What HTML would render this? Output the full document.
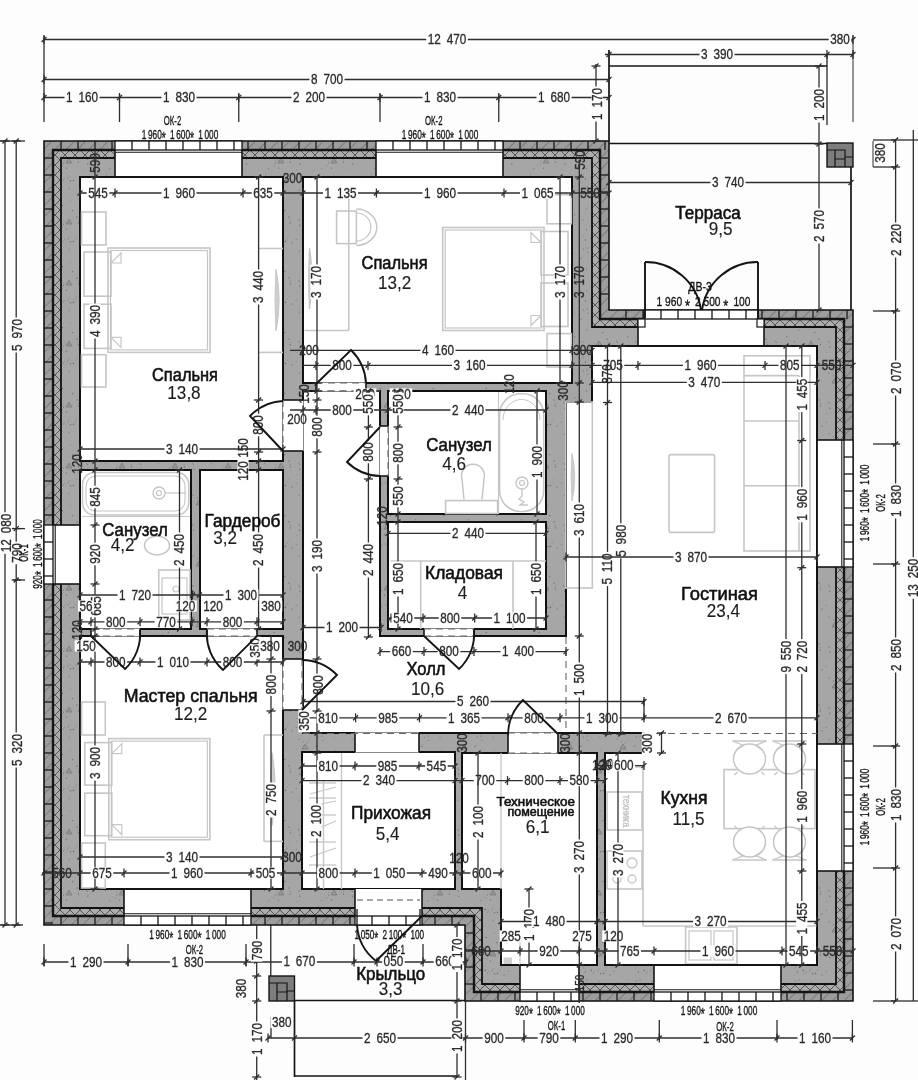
<!DOCTYPE html>
<html><head><meta charset="utf-8"><style>
html,body{margin:0;padding:0;background:#fff;}
svg{display:block;font-family:"Liberation Sans", sans-serif;will-change:transform;}
.h{paint-order:stroke;stroke:#fdfdfd;stroke-width:2.5px;stroke-linejoin:round;}
</style></head><body>
<svg width="918" height="1080" viewBox="0 0 918 1080">
<defs>
<pattern id="brk" patternUnits="userSpaceOnUse" width="8" height="8" patternTransform="rotate(45)">
  <rect width="8" height="8" fill="#9d9d9d"/><line x1="0" y1="0" x2="0" y2="8" stroke="#5a5a5a" stroke-width="1"/>
</pattern>
<pattern id="hat" patternUnits="userSpaceOnUse" width="10" height="10">
  <rect width="10" height="10" fill="#acacac"/><path d="M0,0 L10,10 M10,0 L0,10" stroke="#555" stroke-width="1"/>
</pattern>
<pattern id="con" patternUnits="userSpaceOnUse" width="53" height="61"><rect width="53" height="61" fill="#a6a6a6"/><circle cx="24.0" cy="34.1" r="0.82" fill="#7c7c7c"/><circle cx="23.9" cy="52.2" r="0.53" fill="#8a8a8a"/><circle cx="25.2" cy="37.5" r="0.52" fill="#7c7c7c"/><circle cx="16.1" cy="5.5" r="0.77" fill="#8a8a8a"/><circle cx="33.6" cy="36.3" r="0.61" fill="#7c7c7c"/><circle cx="34.7" cy="37.5" r="0.51" fill="#6e6e6e"/><circle cx="44.1" cy="3.9" r="0.46" fill="#6e6e6e"/><circle cx="31.8" cy="47.5" r="0.58" fill="#8a8a8a"/><circle cx="44.6" cy="31.7" r="0.71" fill="#7c7c7c"/><circle cx="0.2" cy="5.2" r="0.71" fill="#7c7c7c"/><circle cx="52.9" cy="60.7" r="0.79" fill="#8a8a8a"/><circle cx="13.5" cy="46.2" r="0.66" fill="#6e6e6e"/><circle cx="3.7" cy="46.7" r="0.61" fill="#7c7c7c"/><circle cx="20.5" cy="58.4" r="0.79" fill="#6e6e6e"/><circle cx="11.3" cy="56.5" r="0.47" fill="#7c7c7c"/><circle cx="52.0" cy="24.2" r="0.48" fill="#8a8a8a"/><circle cx="10.5" cy="41.2" r="0.58" fill="#7c7c7c"/><circle cx="17.6" cy="58.8" r="0.75" fill="#6e6e6e"/><circle cx="7.1" cy="43.1" r="0.45" fill="#7c7c7c"/><circle cx="42.2" cy="10.8" r="0.67" fill="#7c7c7c"/><circle cx="27.0" cy="60.1" r="0.76" fill="#7c7c7c"/><circle cx="34.1" cy="7.1" r="0.62" fill="#6e6e6e"/><circle cx="0.0" cy="52.7" r="0.84" fill="#8a8a8a"/><circle cx="16.1" cy="54.0" r="0.53" fill="#7c7c7c"/><circle cx="52.8" cy="36.7" r="0.68" fill="#6e6e6e"/><circle cx="52.4" cy="13.0" r="0.55" fill="#8a8a8a"/><circle cx="17.4" cy="18.1" r="0.48" fill="#6e6e6e"/><circle cx="11.1" cy="38.8" r="0.46" fill="#7c7c7c"/><circle cx="19.7" cy="27.6" r="0.83" fill="#7c7c7c"/><circle cx="44.1" cy="8.3" r="0.60" fill="#8a8a8a"/><circle cx="8.2" cy="55.4" r="0.78" fill="#6e6e6e"/><circle cx="38.4" cy="9.7" r="0.70" fill="#8a8a8a"/><circle cx="10.4" cy="58.0" r="0.80" fill="#8a8a8a"/><circle cx="4.2" cy="2.9" r="0.49" fill="#8a8a8a"/><circle cx="51.0" cy="14.5" r="0.73" fill="#7c7c7c"/><circle cx="22.3" cy="55.2" r="0.65" fill="#8a8a8a"/><circle cx="9.3" cy="43.9" r="0.48" fill="#6e6e6e"/><circle cx="25.4" cy="39.9" r="0.70" fill="#6e6e6e"/><circle cx="14.9" cy="56.0" r="0.53" fill="#6e6e6e"/><circle cx="3.7" cy="25.1" r="0.55" fill="#6e6e6e"/><circle cx="9.3" cy="22.5" r="0.68" fill="#6e6e6e"/><circle cx="4.9" cy="8.4" r="0.63" fill="#7c7c7c"/><circle cx="34.8" cy="42.2" r="0.68" fill="#6e6e6e"/><circle cx="31.3" cy="56.3" r="0.64" fill="#7c7c7c"/><circle cx="37.2" cy="58.7" r="0.46" fill="#8a8a8a"/><circle cx="4.0" cy="4.1" r="0.57" fill="#6e6e6e"/><circle cx="53.0" cy="4.6" r="0.67" fill="#8a8a8a"/><circle cx="2.4" cy="57.1" r="0.74" fill="#6e6e6e"/><path d="M13,41 l3,-5 l3,5 z M37,17 l3,-5 l3,5 z" fill="#959595" stroke="#7a7a7a" stroke-width="0.8"/></pattern>
</defs>
<rect width="918" height="1080" fill="#fdfdfd"/>
<polygon points="44,141 609,141 609,310 853,310 853,1001 465,1001 465,925 44,925" fill="url(#brk)" stroke="#111" stroke-width="1.6" />
<g stroke="#1d1d1d" stroke-width="1.3">
<line x1="61" y1="141" x2="61" y2="150" stroke="#1d1d1d" stroke-width="1.3" />
<line x1="78" y1="141" x2="78" y2="150" stroke="#1d1d1d" stroke-width="1.3" />
<line x1="95" y1="141" x2="95" y2="150" stroke="#1d1d1d" stroke-width="1.3" />
<line x1="112" y1="141" x2="112" y2="150" stroke="#1d1d1d" stroke-width="1.3" />
<line x1="129" y1="141" x2="129" y2="150" stroke="#1d1d1d" stroke-width="1.3" />
<line x1="146" y1="141" x2="146" y2="150" stroke="#1d1d1d" stroke-width="1.3" />
<line x1="163" y1="141" x2="163" y2="150" stroke="#1d1d1d" stroke-width="1.3" />
<line x1="180" y1="141" x2="180" y2="150" stroke="#1d1d1d" stroke-width="1.3" />
<line x1="197" y1="141" x2="197" y2="150" stroke="#1d1d1d" stroke-width="1.3" />
<line x1="214" y1="141" x2="214" y2="150" stroke="#1d1d1d" stroke-width="1.3" />
<line x1="231" y1="141" x2="231" y2="150" stroke="#1d1d1d" stroke-width="1.3" />
<line x1="248" y1="141" x2="248" y2="150" stroke="#1d1d1d" stroke-width="1.3" />
<line x1="265" y1="141" x2="265" y2="150" stroke="#1d1d1d" stroke-width="1.3" />
<line x1="282" y1="141" x2="282" y2="150" stroke="#1d1d1d" stroke-width="1.3" />
<line x1="299" y1="141" x2="299" y2="150" stroke="#1d1d1d" stroke-width="1.3" />
<line x1="316" y1="141" x2="316" y2="150" stroke="#1d1d1d" stroke-width="1.3" />
<line x1="333" y1="141" x2="333" y2="150" stroke="#1d1d1d" stroke-width="1.3" />
<line x1="350" y1="141" x2="350" y2="150" stroke="#1d1d1d" stroke-width="1.3" />
<line x1="367" y1="141" x2="367" y2="150" stroke="#1d1d1d" stroke-width="1.3" />
<line x1="384" y1="141" x2="384" y2="150" stroke="#1d1d1d" stroke-width="1.3" />
<line x1="401" y1="141" x2="401" y2="150" stroke="#1d1d1d" stroke-width="1.3" />
<line x1="418" y1="141" x2="418" y2="150" stroke="#1d1d1d" stroke-width="1.3" />
<line x1="435" y1="141" x2="435" y2="150" stroke="#1d1d1d" stroke-width="1.3" />
<line x1="452" y1="141" x2="452" y2="150" stroke="#1d1d1d" stroke-width="1.3" />
<line x1="469" y1="141" x2="469" y2="150" stroke="#1d1d1d" stroke-width="1.3" />
<line x1="486" y1="141" x2="486" y2="150" stroke="#1d1d1d" stroke-width="1.3" />
<line x1="503" y1="141" x2="503" y2="150" stroke="#1d1d1d" stroke-width="1.3" />
<line x1="520" y1="141" x2="520" y2="150" stroke="#1d1d1d" stroke-width="1.3" />
<line x1="537" y1="141" x2="537" y2="150" stroke="#1d1d1d" stroke-width="1.3" />
<line x1="554" y1="141" x2="554" y2="150" stroke="#1d1d1d" stroke-width="1.3" />
<line x1="571" y1="141" x2="571" y2="150" stroke="#1d1d1d" stroke-width="1.3" />
<line x1="588" y1="141" x2="588" y2="150" stroke="#1d1d1d" stroke-width="1.3" />
<line x1="605" y1="141" x2="605" y2="150" stroke="#1d1d1d" stroke-width="1.3" />
<line x1="600" y1="158" x2="609" y2="158" stroke="#1d1d1d" stroke-width="1.3" />
<line x1="600" y1="175" x2="609" y2="175" stroke="#1d1d1d" stroke-width="1.3" />
<line x1="600" y1="192" x2="609" y2="192" stroke="#1d1d1d" stroke-width="1.3" />
<line x1="600" y1="209" x2="609" y2="209" stroke="#1d1d1d" stroke-width="1.3" />
<line x1="600" y1="226" x2="609" y2="226" stroke="#1d1d1d" stroke-width="1.3" />
<line x1="600" y1="243" x2="609" y2="243" stroke="#1d1d1d" stroke-width="1.3" />
<line x1="600" y1="260" x2="609" y2="260" stroke="#1d1d1d" stroke-width="1.3" />
<line x1="600" y1="277" x2="609" y2="277" stroke="#1d1d1d" stroke-width="1.3" />
<line x1="600" y1="294" x2="609" y2="294" stroke="#1d1d1d" stroke-width="1.3" />
<line x1="626" y1="310" x2="626" y2="319" stroke="#1d1d1d" stroke-width="1.3" />
<line x1="643" y1="310" x2="643" y2="319" stroke="#1d1d1d" stroke-width="1.3" />
<line x1="660" y1="310" x2="660" y2="319" stroke="#1d1d1d" stroke-width="1.3" />
<line x1="677" y1="310" x2="677" y2="319" stroke="#1d1d1d" stroke-width="1.3" />
<line x1="694" y1="310" x2="694" y2="319" stroke="#1d1d1d" stroke-width="1.3" />
<line x1="711" y1="310" x2="711" y2="319" stroke="#1d1d1d" stroke-width="1.3" />
<line x1="728" y1="310" x2="728" y2="319" stroke="#1d1d1d" stroke-width="1.3" />
<line x1="745" y1="310" x2="745" y2="319" stroke="#1d1d1d" stroke-width="1.3" />
<line x1="762" y1="310" x2="762" y2="319" stroke="#1d1d1d" stroke-width="1.3" />
<line x1="779" y1="310" x2="779" y2="319" stroke="#1d1d1d" stroke-width="1.3" />
<line x1="796" y1="310" x2="796" y2="319" stroke="#1d1d1d" stroke-width="1.3" />
<line x1="813" y1="310" x2="813" y2="319" stroke="#1d1d1d" stroke-width="1.3" />
<line x1="830" y1="310" x2="830" y2="319" stroke="#1d1d1d" stroke-width="1.3" />
<line x1="847" y1="310" x2="847" y2="319" stroke="#1d1d1d" stroke-width="1.3" />
<line x1="844" y1="327" x2="853" y2="327" stroke="#1d1d1d" stroke-width="1.3" />
<line x1="844" y1="344" x2="853" y2="344" stroke="#1d1d1d" stroke-width="1.3" />
<line x1="844" y1="361" x2="853" y2="361" stroke="#1d1d1d" stroke-width="1.3" />
<line x1="844" y1="378" x2="853" y2="378" stroke="#1d1d1d" stroke-width="1.3" />
<line x1="844" y1="395" x2="853" y2="395" stroke="#1d1d1d" stroke-width="1.3" />
<line x1="844" y1="412" x2="853" y2="412" stroke="#1d1d1d" stroke-width="1.3" />
<line x1="844" y1="429" x2="853" y2="429" stroke="#1d1d1d" stroke-width="1.3" />
<line x1="844" y1="446" x2="853" y2="446" stroke="#1d1d1d" stroke-width="1.3" />
<line x1="844" y1="463" x2="853" y2="463" stroke="#1d1d1d" stroke-width="1.3" />
<line x1="844" y1="480" x2="853" y2="480" stroke="#1d1d1d" stroke-width="1.3" />
<line x1="844" y1="497" x2="853" y2="497" stroke="#1d1d1d" stroke-width="1.3" />
<line x1="844" y1="514" x2="853" y2="514" stroke="#1d1d1d" stroke-width="1.3" />
<line x1="844" y1="531" x2="853" y2="531" stroke="#1d1d1d" stroke-width="1.3" />
<line x1="844" y1="548" x2="853" y2="548" stroke="#1d1d1d" stroke-width="1.3" />
<line x1="844" y1="565" x2="853" y2="565" stroke="#1d1d1d" stroke-width="1.3" />
<line x1="844" y1="582" x2="853" y2="582" stroke="#1d1d1d" stroke-width="1.3" />
<line x1="844" y1="599" x2="853" y2="599" stroke="#1d1d1d" stroke-width="1.3" />
<line x1="844" y1="616" x2="853" y2="616" stroke="#1d1d1d" stroke-width="1.3" />
<line x1="844" y1="633" x2="853" y2="633" stroke="#1d1d1d" stroke-width="1.3" />
<line x1="844" y1="650" x2="853" y2="650" stroke="#1d1d1d" stroke-width="1.3" />
<line x1="844" y1="667" x2="853" y2="667" stroke="#1d1d1d" stroke-width="1.3" />
<line x1="844" y1="684" x2="853" y2="684" stroke="#1d1d1d" stroke-width="1.3" />
<line x1="844" y1="701" x2="853" y2="701" stroke="#1d1d1d" stroke-width="1.3" />
<line x1="844" y1="718" x2="853" y2="718" stroke="#1d1d1d" stroke-width="1.3" />
<line x1="844" y1="735" x2="853" y2="735" stroke="#1d1d1d" stroke-width="1.3" />
<line x1="844" y1="752" x2="853" y2="752" stroke="#1d1d1d" stroke-width="1.3" />
<line x1="844" y1="769" x2="853" y2="769" stroke="#1d1d1d" stroke-width="1.3" />
<line x1="844" y1="786" x2="853" y2="786" stroke="#1d1d1d" stroke-width="1.3" />
<line x1="844" y1="803" x2="853" y2="803" stroke="#1d1d1d" stroke-width="1.3" />
<line x1="844" y1="820" x2="853" y2="820" stroke="#1d1d1d" stroke-width="1.3" />
<line x1="844" y1="837" x2="853" y2="837" stroke="#1d1d1d" stroke-width="1.3" />
<line x1="844" y1="854" x2="853" y2="854" stroke="#1d1d1d" stroke-width="1.3" />
<line x1="844" y1="871" x2="853" y2="871" stroke="#1d1d1d" stroke-width="1.3" />
<line x1="844" y1="888" x2="853" y2="888" stroke="#1d1d1d" stroke-width="1.3" />
<line x1="844" y1="905" x2="853" y2="905" stroke="#1d1d1d" stroke-width="1.3" />
<line x1="844" y1="922" x2="853" y2="922" stroke="#1d1d1d" stroke-width="1.3" />
<line x1="844" y1="939" x2="853" y2="939" stroke="#1d1d1d" stroke-width="1.3" />
<line x1="844" y1="956" x2="853" y2="956" stroke="#1d1d1d" stroke-width="1.3" />
<line x1="844" y1="973" x2="853" y2="973" stroke="#1d1d1d" stroke-width="1.3" />
<line x1="844" y1="990" x2="853" y2="990" stroke="#1d1d1d" stroke-width="1.3" />
<line x1="481" y1="992" x2="481" y2="1001" stroke="#1d1d1d" stroke-width="1.3" />
<line x1="498" y1="992" x2="498" y2="1001" stroke="#1d1d1d" stroke-width="1.3" />
<line x1="515" y1="992" x2="515" y2="1001" stroke="#1d1d1d" stroke-width="1.3" />
<line x1="532" y1="992" x2="532" y2="1001" stroke="#1d1d1d" stroke-width="1.3" />
<line x1="549" y1="992" x2="549" y2="1001" stroke="#1d1d1d" stroke-width="1.3" />
<line x1="566" y1="992" x2="566" y2="1001" stroke="#1d1d1d" stroke-width="1.3" />
<line x1="583" y1="992" x2="583" y2="1001" stroke="#1d1d1d" stroke-width="1.3" />
<line x1="600" y1="992" x2="600" y2="1001" stroke="#1d1d1d" stroke-width="1.3" />
<line x1="617" y1="992" x2="617" y2="1001" stroke="#1d1d1d" stroke-width="1.3" />
<line x1="634" y1="992" x2="634" y2="1001" stroke="#1d1d1d" stroke-width="1.3" />
<line x1="651" y1="992" x2="651" y2="1001" stroke="#1d1d1d" stroke-width="1.3" />
<line x1="668" y1="992" x2="668" y2="1001" stroke="#1d1d1d" stroke-width="1.3" />
<line x1="685" y1="992" x2="685" y2="1001" stroke="#1d1d1d" stroke-width="1.3" />
<line x1="702" y1="992" x2="702" y2="1001" stroke="#1d1d1d" stroke-width="1.3" />
<line x1="719" y1="992" x2="719" y2="1001" stroke="#1d1d1d" stroke-width="1.3" />
<line x1="736" y1="992" x2="736" y2="1001" stroke="#1d1d1d" stroke-width="1.3" />
<line x1="753" y1="992" x2="753" y2="1001" stroke="#1d1d1d" stroke-width="1.3" />
<line x1="770" y1="992" x2="770" y2="1001" stroke="#1d1d1d" stroke-width="1.3" />
<line x1="787" y1="992" x2="787" y2="1001" stroke="#1d1d1d" stroke-width="1.3" />
<line x1="804" y1="992" x2="804" y2="1001" stroke="#1d1d1d" stroke-width="1.3" />
<line x1="821" y1="992" x2="821" y2="1001" stroke="#1d1d1d" stroke-width="1.3" />
<line x1="838" y1="992" x2="838" y2="1001" stroke="#1d1d1d" stroke-width="1.3" />
<line x1="44" y1="158" x2="53" y2="158" stroke="#1d1d1d" stroke-width="1.3" />
<line x1="44" y1="175" x2="53" y2="175" stroke="#1d1d1d" stroke-width="1.3" />
<line x1="44" y1="192" x2="53" y2="192" stroke="#1d1d1d" stroke-width="1.3" />
<line x1="44" y1="209" x2="53" y2="209" stroke="#1d1d1d" stroke-width="1.3" />
<line x1="44" y1="226" x2="53" y2="226" stroke="#1d1d1d" stroke-width="1.3" />
<line x1="44" y1="243" x2="53" y2="243" stroke="#1d1d1d" stroke-width="1.3" />
<line x1="44" y1="260" x2="53" y2="260" stroke="#1d1d1d" stroke-width="1.3" />
<line x1="44" y1="277" x2="53" y2="277" stroke="#1d1d1d" stroke-width="1.3" />
<line x1="44" y1="294" x2="53" y2="294" stroke="#1d1d1d" stroke-width="1.3" />
<line x1="44" y1="311" x2="53" y2="311" stroke="#1d1d1d" stroke-width="1.3" />
<line x1="44" y1="328" x2="53" y2="328" stroke="#1d1d1d" stroke-width="1.3" />
<line x1="44" y1="345" x2="53" y2="345" stroke="#1d1d1d" stroke-width="1.3" />
<line x1="44" y1="362" x2="53" y2="362" stroke="#1d1d1d" stroke-width="1.3" />
<line x1="44" y1="379" x2="53" y2="379" stroke="#1d1d1d" stroke-width="1.3" />
<line x1="44" y1="396" x2="53" y2="396" stroke="#1d1d1d" stroke-width="1.3" />
<line x1="44" y1="413" x2="53" y2="413" stroke="#1d1d1d" stroke-width="1.3" />
<line x1="44" y1="430" x2="53" y2="430" stroke="#1d1d1d" stroke-width="1.3" />
<line x1="44" y1="447" x2="53" y2="447" stroke="#1d1d1d" stroke-width="1.3" />
<line x1="44" y1="464" x2="53" y2="464" stroke="#1d1d1d" stroke-width="1.3" />
<line x1="44" y1="481" x2="53" y2="481" stroke="#1d1d1d" stroke-width="1.3" />
<line x1="44" y1="498" x2="53" y2="498" stroke="#1d1d1d" stroke-width="1.3" />
<line x1="44" y1="515" x2="53" y2="515" stroke="#1d1d1d" stroke-width="1.3" />
<line x1="44" y1="532" x2="53" y2="532" stroke="#1d1d1d" stroke-width="1.3" />
<line x1="44" y1="549" x2="53" y2="549" stroke="#1d1d1d" stroke-width="1.3" />
<line x1="44" y1="566" x2="53" y2="566" stroke="#1d1d1d" stroke-width="1.3" />
<line x1="44" y1="583" x2="53" y2="583" stroke="#1d1d1d" stroke-width="1.3" />
<line x1="44" y1="600" x2="53" y2="600" stroke="#1d1d1d" stroke-width="1.3" />
<line x1="44" y1="617" x2="53" y2="617" stroke="#1d1d1d" stroke-width="1.3" />
<line x1="44" y1="634" x2="53" y2="634" stroke="#1d1d1d" stroke-width="1.3" />
<line x1="44" y1="651" x2="53" y2="651" stroke="#1d1d1d" stroke-width="1.3" />
<line x1="44" y1="668" x2="53" y2="668" stroke="#1d1d1d" stroke-width="1.3" />
<line x1="44" y1="685" x2="53" y2="685" stroke="#1d1d1d" stroke-width="1.3" />
<line x1="44" y1="702" x2="53" y2="702" stroke="#1d1d1d" stroke-width="1.3" />
<line x1="44" y1="719" x2="53" y2="719" stroke="#1d1d1d" stroke-width="1.3" />
<line x1="44" y1="736" x2="53" y2="736" stroke="#1d1d1d" stroke-width="1.3" />
<line x1="44" y1="753" x2="53" y2="753" stroke="#1d1d1d" stroke-width="1.3" />
<line x1="44" y1="770" x2="53" y2="770" stroke="#1d1d1d" stroke-width="1.3" />
<line x1="44" y1="787" x2="53" y2="787" stroke="#1d1d1d" stroke-width="1.3" />
<line x1="44" y1="804" x2="53" y2="804" stroke="#1d1d1d" stroke-width="1.3" />
<line x1="44" y1="821" x2="53" y2="821" stroke="#1d1d1d" stroke-width="1.3" />
<line x1="44" y1="838" x2="53" y2="838" stroke="#1d1d1d" stroke-width="1.3" />
<line x1="44" y1="855" x2="53" y2="855" stroke="#1d1d1d" stroke-width="1.3" />
<line x1="44" y1="872" x2="53" y2="872" stroke="#1d1d1d" stroke-width="1.3" />
<line x1="44" y1="889" x2="53" y2="889" stroke="#1d1d1d" stroke-width="1.3" />
<line x1="44" y1="906" x2="53" y2="906" stroke="#1d1d1d" stroke-width="1.3" />
<line x1="44" y1="923" x2="53" y2="923" stroke="#1d1d1d" stroke-width="1.3" />
<line x1="465" y1="933" x2="474" y2="933" stroke="#1d1d1d" stroke-width="1.3" />
<line x1="465" y1="950" x2="474" y2="950" stroke="#1d1d1d" stroke-width="1.3" />
<line x1="465" y1="967" x2="474" y2="967" stroke="#1d1d1d" stroke-width="1.3" />
<line x1="465" y1="984" x2="474" y2="984" stroke="#1d1d1d" stroke-width="1.3" />
<line x1="61" y1="916" x2="61" y2="925" stroke="#1d1d1d" stroke-width="1.3" />
<line x1="78" y1="916" x2="78" y2="925" stroke="#1d1d1d" stroke-width="1.3" />
<line x1="95" y1="916" x2="95" y2="925" stroke="#1d1d1d" stroke-width="1.3" />
<line x1="112" y1="916" x2="112" y2="925" stroke="#1d1d1d" stroke-width="1.3" />
<line x1="129" y1="916" x2="129" y2="925" stroke="#1d1d1d" stroke-width="1.3" />
<line x1="146" y1="916" x2="146" y2="925" stroke="#1d1d1d" stroke-width="1.3" />
<line x1="163" y1="916" x2="163" y2="925" stroke="#1d1d1d" stroke-width="1.3" />
<line x1="180" y1="916" x2="180" y2="925" stroke="#1d1d1d" stroke-width="1.3" />
<line x1="197" y1="916" x2="197" y2="925" stroke="#1d1d1d" stroke-width="1.3" />
<line x1="214" y1="916" x2="214" y2="925" stroke="#1d1d1d" stroke-width="1.3" />
<line x1="231" y1="916" x2="231" y2="925" stroke="#1d1d1d" stroke-width="1.3" />
<line x1="248" y1="916" x2="248" y2="925" stroke="#1d1d1d" stroke-width="1.3" />
<line x1="265" y1="916" x2="265" y2="925" stroke="#1d1d1d" stroke-width="1.3" />
<line x1="282" y1="916" x2="282" y2="925" stroke="#1d1d1d" stroke-width="1.3" />
<line x1="299" y1="916" x2="299" y2="925" stroke="#1d1d1d" stroke-width="1.3" />
<line x1="316" y1="916" x2="316" y2="925" stroke="#1d1d1d" stroke-width="1.3" />
<line x1="333" y1="916" x2="333" y2="925" stroke="#1d1d1d" stroke-width="1.3" />
<line x1="350" y1="916" x2="350" y2="925" stroke="#1d1d1d" stroke-width="1.3" />
<line x1="367" y1="916" x2="367" y2="925" stroke="#1d1d1d" stroke-width="1.3" />
<line x1="384" y1="916" x2="384" y2="925" stroke="#1d1d1d" stroke-width="1.3" />
<line x1="401" y1="916" x2="401" y2="925" stroke="#1d1d1d" stroke-width="1.3" />
<line x1="418" y1="916" x2="418" y2="925" stroke="#1d1d1d" stroke-width="1.3" />
<line x1="435" y1="916" x2="435" y2="925" stroke="#1d1d1d" stroke-width="1.3" />
<line x1="452" y1="916" x2="452" y2="925" stroke="#1d1d1d" stroke-width="1.3" />
</g>
<polygon points="53,150 600,150 600,319 844,319 844,992 474,992 474,916 53,916" fill="url(#hat)" stroke="#151515" stroke-width="2.4" />
<polygon points="61,158 592,158 592,327 836,327 836,984 482,984 482,908 61,908" fill="url(#con)" stroke="#111" stroke-width="1.8" />
<polygon points="80,177 283,177 283,461 80,461" fill="#fff" stroke="#111" stroke-width="2.0" />
<polygon points="303,177 572,177 572,383 303,383" fill="#fff" stroke="#111" stroke-width="2.0" />
<polygon points="80,470 191,470 191,629 80,629" fill="#fff" stroke="#111" stroke-width="2.0" />
<polygon points="200,470 283,470 283,629 200,629" fill="#fff" stroke="#111" stroke-width="2.0" />
<polygon points="80,636 283,636 283,889 80,889" fill="#fff" stroke="#111" stroke-width="2.0" />
<polygon points="388,391 546,391 546,514 388,514" fill="#fff" stroke="#111" stroke-width="2.0" />
<polygon points="388,522 546,522 546,629 388,629" fill="#fff" stroke="#111" stroke-width="2.0" />
<polygon points="302,752 455,752 455,889 302,889" fill="#fff" stroke="#111" stroke-width="2.0" />
<polygon points="462,753 597,753 597,965 501,965 501,889 462,889" fill="#fff" stroke="#111" stroke-width="2.0" />
<polygon points="303,391 380,391 380,636 566,636 566,402 592,402 592,346 817,346 817,965 605,965 605,753 644,753 644,733 303,733" fill="#fff" stroke="#111" stroke-width="2.0" />
<rect x="81.5" y="212" width="24.5" height="33" rx="0" fill="none" stroke="#c6c6c6" stroke-width="1.6"/>
<rect x="108" y="248" width="102" height="104.4" rx="0" fill="none" stroke="#c6c6c6" stroke-width="1.6"/>
<rect x="110.5" y="250.5" width="97" height="99.4" rx="0" fill="none" stroke="#c6c6c6" stroke-width="1.2"/>
<rect x="84" y="252" width="27" height="44.2" rx="0" fill="none" stroke="#c6c6c6" stroke-width="1.6"/>
<rect x="84" y="304.2" width="27" height="44.2" rx="0" fill="none" stroke="#c6c6c6" stroke-width="1.6"/>
<path d="M111,263 l10,-10 v10 z M111,337.4 l10,10 v-10 z" stroke="#c6c6c6" stroke-width="1.2" fill="none"/>
<rect x="81.5" y="354.7" width="24.5" height="32.3" rx="0" fill="none" stroke="#c6c6c6" stroke-width="1.6"/>
<line x1="259" y1="248.5" x2="283" y2="248.5" stroke="#c6c6c6" stroke-width="1.6"/>
<line x1="259" y1="352.4" x2="283" y2="352.4" stroke="#c6c6c6" stroke-width="1.6"/>
<path d="M276,269 Q282,300.0 276,331 Q274.2,300.0 276,269 z" stroke="#c6c6c6" stroke-width="1.2" fill="#d0d0d0"/>
<line x1="348.8" y1="196" x2="348.8" y2="330.5" stroke="#c6c6c6" stroke-width="1.6"/>
<line x1="304.6" y1="330.5" x2="348.8" y2="330.5" stroke="#c6c6c6" stroke-width="1.6"/>
<path d="M309.5,248 Q314.5,278.5 309.5,309 Q308.0,278.5 309.5,248 z" stroke="#c6c6c6" stroke-width="1.2" fill="#d0d0d0"/>
<rect x="336.6" y="211" width="19.8" height="32.6" rx="0" fill="none" stroke="#c6c6c6" stroke-width="1.6"/>
<path d="M356.4,209 A19,17 0 0 1 356.4,245.5" stroke="#c6c6c6" stroke-width="1.5" fill="none"/>
<path d="M356.4,213 A14,13.5 0 0 1 356.4,241" stroke="#c6c6c6" stroke-width="1.2" fill="none"/>
<rect x="442.7" y="227.5" width="101.3" height="103" rx="0" fill="none" stroke="#c6c6c6" stroke-width="1.6"/>
<rect x="445.2" y="230" width="96.3" height="98" rx="0" fill="none" stroke="#c6c6c6" stroke-width="1.2"/>
<rect x="541" y="231.5" width="27" height="43.5" rx="0" fill="none" stroke="#c6c6c6" stroke-width="1.6"/>
<rect x="541" y="283" width="27" height="43.5" rx="0" fill="none" stroke="#c6c6c6" stroke-width="1.6"/>
<path d="M541,242.5 l-10,-10 v10 z M541,315.5 l-10,10 v-10 z" stroke="#c6c6c6" stroke-width="1.2" fill="none"/>
<rect x="547" y="194.8" width="24.4" height="29" rx="0" fill="none" stroke="#c6c6c6" stroke-width="1.6"/>
<rect x="547" y="333.6" width="24.4" height="33.4" rx="0" fill="none" stroke="#c6c6c6" stroke-width="1.6"/>
<rect x="82.5" y="472.5" width="106.25" height="42.5" rx="12" fill="none" stroke="#c6c6c6" stroke-width="1.6"/>
<rect x="86" y="476" width="99" height="35" rx="10" fill="none" stroke="#c6c6c6" stroke-width="1.1"/>
<circle cx="159" cy="493" r="6" fill="none" stroke="#c6c6c6" stroke-width="1.4"/>
<circle cx="159" cy="493" r="2.5" fill="none" stroke="#c6c6c6" stroke-width="1.2"/>
<line x1="165" y1="493" x2="186" y2="493" stroke="#c6c6c6" stroke-width="1.2"/>
<line x1="82" y1="516.5" x2="190" y2="516.5" stroke="#c6c6c6" stroke-width="1.2"/>
<ellipse cx="157" cy="545.5" rx="12.5" ry="9.5" fill="none" stroke="#c6c6c6" stroke-width="1.5"/>
<rect x="158.75" y="570" width="31.25" height="50" rx="0" fill="none" stroke="#c6c6c6" stroke-width="1.6"/>
<rect x="162" y="578" width="25" height="36" rx="0" fill="none" stroke="#c6c6c6" stroke-width="1.2"/>
<circle cx="176" cy="589" r="3" fill="none" stroke="#c6c6c6" stroke-width="1.2"/>
<rect x="81.6" y="702" width="23.7" height="33" rx="0" fill="none" stroke="#c6c6c6" stroke-width="1.6"/>
<rect x="108.8" y="738.6" width="101.1" height="101.1" rx="0" fill="none" stroke="#c6c6c6" stroke-width="1.6"/>
<rect x="111.3" y="741.1" width="96.1" height="96.1" rx="0" fill="none" stroke="#c6c6c6" stroke-width="1.2"/>
<rect x="84.8" y="742.6" width="27" height="42.55" rx="0" fill="none" stroke="#c6c6c6" stroke-width="1.6"/>
<rect x="84.8" y="793.15" width="27" height="42.55" rx="0" fill="none" stroke="#c6c6c6" stroke-width="1.6"/>
<path d="M111.8,753.6 l10,-10 v10 z M111.8,824.7 l10,10 v-10 z" stroke="#c6c6c6" stroke-width="1.2" fill="none"/>
<rect x="81.6" y="843" width="23.7" height="45" rx="0" fill="none" stroke="#c6c6c6" stroke-width="1.6"/>
<line x1="264" y1="735" x2="283" y2="735" stroke="#c6c6c6" stroke-width="1.6"/>
<line x1="264" y1="841.4" x2="283" y2="841.4" stroke="#c6c6c6" stroke-width="1.6"/>
<line x1="264" y1="735" x2="264" y2="841.4" stroke="#c6c6c6" stroke-width="1.6"/>
<path d="M272,752.5 Q278,789.1 272,825.7 Q270.2,789.1 272,752.5 z" stroke="#c6c6c6" stroke-width="1.2" fill="#d0d0d0"/>
<rect x="499.6" y="393.7" width="44.1" height="117.8" rx="21" fill="none" stroke="#c6c6c6" stroke-width="1.6"/>
<path d="M503,420 A18,20 0 0 1 540,420" stroke="#c6c6c6" stroke-width="1.0" fill="none"/>
<line x1="498.5" y1="392" x2="498.5" y2="514" stroke="#c6c6c6" stroke-width="1.2"/>
<circle cx="522" cy="483" r="6" fill="none" stroke="#c6c6c6" stroke-width="1.4"/>
<circle cx="522" cy="483" r="2.5" fill="none" stroke="#c6c6c6" stroke-width="1.2"/>
<path d="M522,489 v7 l-3,3 l5,3 l-4,3 h8" stroke="#c6c6c6" stroke-width="1.3" fill="none"/>
<path d="M464,499.5 L462,479 A11.5,11.5 0 1 1 484,479 L482,499.5" stroke="#c6c6c6" stroke-width="1.5" fill="none"/>
<rect x="445.6" y="500.6" width="52" height="12.9" rx="0" fill="none" stroke="#c6c6c6" stroke-width="1.6"/>
<line x1="391" y1="561" x2="546" y2="561" stroke="#c6c6c6" stroke-width="1.6"/>
<line x1="420.7" y1="561" x2="420.7" y2="629" stroke="#c6c6c6" stroke-width="1.6"/>
<line x1="513" y1="561" x2="513" y2="629" stroke="#c6c6c6" stroke-width="1.6"/>
<rect x="565.7" y="402" width="26.6" height="186" rx="0" fill="none" stroke="#c6c6c6" stroke-width="1.6"/>
<path d="M572,453.4 Q577,477.2 572,501 Q570.5,477.2 572,453.4 z" stroke="#c6c6c6" stroke-width="1.2" fill="#d0d0d0"/>
<rect x="744" y="355.8" width="66" height="195.2" rx="0" fill="none" stroke="#c6c6c6" stroke-width="1.6"/>
<line x1="744" y1="375.6" x2="799" y2="375.6" stroke="#c6c6c6" stroke-width="1.6"/>
<line x1="799" y1="375.6" x2="799" y2="551" stroke="#c6c6c6" stroke-width="1.6"/>
<line x1="744" y1="421" x2="799" y2="421" stroke="#c6c6c6" stroke-width="1.6"/>
<line x1="744" y1="485.7" x2="799" y2="485.7" stroke="#c6c6c6" stroke-width="1.6"/>
<rect x="669" y="454.6" width="45.6" height="77.8" rx="2" fill="none" stroke="#c6c6c6" stroke-width="1.6"/>
<line x1="643" y1="767" x2="643" y2="926" stroke="#c6c6c6" stroke-width="1.6"/>
<line x1="606" y1="767" x2="643" y2="767" stroke="#c6c6c6" stroke-width="1.6"/>
<rect x="607" y="792" width="35" height="38" rx="0" fill="none" stroke="#c6c6c6" stroke-width="1.6"/>
<text transform="translate(627,811) rotate(90) scale(0.9,1)" font-size="10" text-anchor="middle" fill="#c0c0c0" stroke="#c0c0c0" stroke-width="0.3" dominant-baseline="central">техника</text>
<rect x="607" y="851" width="35" height="38" rx="0" fill="none" stroke="#c6c6c6" stroke-width="1.6"/>
<circle cx="632" cy="863" r="5" fill="none" stroke="#c6c6c6" stroke-width="1.3"/>
<circle cx="632" cy="879" r="4" fill="none" stroke="#c6c6c6" stroke-width="1.3"/>
<circle cx="617" cy="879" r="4" fill="none" stroke="#c6c6c6" stroke-width="1.3"/>
<circle cx="617" cy="863" r="3" fill="none" stroke="#c6c6c6" stroke-width="1.3"/>
<line x1="643" y1="926" x2="816.5" y2="926" stroke="#c6c6c6" stroke-width="1.6"/>
<rect x="685.6" y="927" width="51.4" height="37" rx="0" fill="none" stroke="#c6c6c6" stroke-width="1.6"/>
<rect x="689" y="931" width="22" height="29" rx="0" fill="none" stroke="#c6c6c6" stroke-width="1.2"/>
<rect x="714" y="931" width="19" height="29" rx="0" fill="none" stroke="#c6c6c6" stroke-width="1.2"/>
<rect x="724" y="769.6" width="91" height="59" rx="0" fill="none" stroke="#c6c6c6" stroke-width="1.6"/>
<ellipse cx="749.5" cy="759" rx="16" ry="15" fill="#fff" stroke="#c6c6c6" stroke-width="1.5"/>
<path d="M732.5,741 H766.5" stroke="#c6c6c6" stroke-width="1.5" fill="none"/>
<path d="M732.5,741 L743.5,745.5 L736.5,750" stroke="#c6c6c6" stroke-width="1.3" fill="none"/>
<path d="M766.5,741 L755.5,745.5 L762.5,750" stroke="#c6c6c6" stroke-width="1.3" fill="none"/>
<path d="M737.5,772 l-3,3 M761.5,772 l3,3" stroke="#c6c6c6" stroke-width="1.3" fill="none"/>
<ellipse cx="789.5" cy="759" rx="16" ry="15" fill="#fff" stroke="#c6c6c6" stroke-width="1.5"/>
<path d="M772.5,741 H806.5" stroke="#c6c6c6" stroke-width="1.5" fill="none"/>
<path d="M772.5,741 L783.5,745.5 L776.5,750" stroke="#c6c6c6" stroke-width="1.3" fill="none"/>
<path d="M806.5,741 L795.5,745.5 L802.5,750" stroke="#c6c6c6" stroke-width="1.3" fill="none"/>
<path d="M777.5,772 l-3,3 M801.5,772 l3,3" stroke="#c6c6c6" stroke-width="1.3" fill="none"/>
<ellipse cx="749.5" cy="842" rx="16" ry="15" fill="#fff" stroke="#c6c6c6" stroke-width="1.5"/>
<path d="M732.5,860 H766.5" stroke="#c6c6c6" stroke-width="1.5" fill="none"/>
<path d="M732.5,860 L743.5,855.5 L736.5,851" stroke="#c6c6c6" stroke-width="1.3" fill="none"/>
<path d="M766.5,860 L755.5,855.5 L762.5,851" stroke="#c6c6c6" stroke-width="1.3" fill="none"/>
<path d="M737.5,829 l-3,-3 M761.5,829 l3,-3" stroke="#c6c6c6" stroke-width="1.3" fill="none"/>
<ellipse cx="789.5" cy="842" rx="16" ry="15" fill="#fff" stroke="#c6c6c6" stroke-width="1.5"/>
<path d="M772.5,860 H806.5" stroke="#c6c6c6" stroke-width="1.5" fill="none"/>
<path d="M772.5,860 L783.5,855.5 L776.5,851" stroke="#c6c6c6" stroke-width="1.3" fill="none"/>
<path d="M806.5,860 L795.5,855.5 L802.5,851" stroke="#c6c6c6" stroke-width="1.3" fill="none"/>
<path d="M777.5,829 l-3,-3 M801.5,829 l3,-3" stroke="#c6c6c6" stroke-width="1.3" fill="none"/>
<line x1="341.5" y1="753" x2="341.5" y2="889" stroke="#c6c6c6" stroke-width="1.4"/>
<line x1="323.5" y1="780" x2="323.5" y2="889" stroke="#c6c6c6" stroke-width="1.4"/>
<line x1="309" y1="783" x2="336" y2="783" stroke="#c6c6c6" stroke-width="1.3"/>
<line x1="309" y1="798" x2="336" y2="798" stroke="#c6c6c6" stroke-width="1.3"/>
<line x1="309" y1="815" x2="336" y2="815" stroke="#c6c6c6" stroke-width="1.3"/>
<line x1="309" y1="842" x2="336" y2="842" stroke="#c6c6c6" stroke-width="1.3"/>
<line x1="309" y1="865" x2="336" y2="865" stroke="#c6c6c6" stroke-width="1.3"/>
<line x1="310" y1="794" x2="336" y2="787" stroke="#c6c6c6" stroke-width="1.2"/>
<line x1="310" y1="806" x2="336" y2="801" stroke="#c6c6c6" stroke-width="1.2"/>
<line x1="310" y1="832" x2="336" y2="821" stroke="#c6c6c6" stroke-width="1.2"/>
<line x1="310" y1="857" x2="336" y2="848" stroke="#c6c6c6" stroke-width="1.2"/>
<line x1="501" y1="753" x2="501" y2="889" stroke="#c6c6c6" stroke-width="1.3"/>
<rect x="503.5" y="957.5" width="8.5" height="6.5" rx="0" fill="#d0d0d0" stroke="#c6c6c6" stroke-width="0"/>
<line x1="520" y1="935" x2="520" y2="965" stroke="#c6c6c6" stroke-width="1.1"/>
<rect x="115" y="150" width="127" height="27" fill="#fff" stroke="none" stroke-width="1" />
<line x1="115" y1="150" x2="115" y2="177" stroke="#151515" stroke-width="1.6" />
<line x1="242" y1="150" x2="242" y2="177" stroke="#151515" stroke-width="1.6" />
<line x1="115" y1="177" x2="242" y2="177" stroke="#151515" stroke-width="1.8" />
<rect x="115" y="141" width="127" height="9" fill="#fff" stroke="#151515" stroke-width="1.3" />
<line x1="132" y1="141" x2="132" y2="150" stroke="#151515" stroke-width="1.3" />
<line x1="149" y1="141" x2="149" y2="150" stroke="#151515" stroke-width="1.3" />
<line x1="166" y1="141" x2="166" y2="150" stroke="#151515" stroke-width="1.3" />
<line x1="183" y1="141" x2="183" y2="150" stroke="#151515" stroke-width="1.3" />
<line x1="200" y1="141" x2="200" y2="150" stroke="#151515" stroke-width="1.3" />
<line x1="217" y1="141" x2="217" y2="150" stroke="#151515" stroke-width="1.3" />
<line x1="234" y1="141" x2="234" y2="150" stroke="#151515" stroke-width="1.3" />
<line x1="115" y1="152.2" x2="242" y2="152.2" stroke="#151515" stroke-width="1.1" />
<rect x="376" y="150" width="127" height="27" fill="#fff" stroke="none" stroke-width="1" />
<line x1="376" y1="150" x2="376" y2="177" stroke="#151515" stroke-width="1.6" />
<line x1="503" y1="150" x2="503" y2="177" stroke="#151515" stroke-width="1.6" />
<line x1="376" y1="177" x2="503" y2="177" stroke="#151515" stroke-width="1.8" />
<rect x="376" y="141" width="127" height="9" fill="#fff" stroke="#151515" stroke-width="1.3" />
<line x1="393" y1="141" x2="393" y2="150" stroke="#151515" stroke-width="1.3" />
<line x1="410" y1="141" x2="410" y2="150" stroke="#151515" stroke-width="1.3" />
<line x1="427" y1="141" x2="427" y2="150" stroke="#151515" stroke-width="1.3" />
<line x1="444" y1="141" x2="444" y2="150" stroke="#151515" stroke-width="1.3" />
<line x1="461" y1="141" x2="461" y2="150" stroke="#151515" stroke-width="1.3" />
<line x1="478" y1="141" x2="478" y2="150" stroke="#151515" stroke-width="1.3" />
<line x1="495" y1="141" x2="495" y2="150" stroke="#151515" stroke-width="1.3" />
<line x1="376" y1="152.2" x2="503" y2="152.2" stroke="#151515" stroke-width="1.1" />
<rect x="124" y="889" width="127" height="27" fill="#fff" stroke="none" stroke-width="1" />
<line x1="124" y1="889" x2="124" y2="916" stroke="#151515" stroke-width="1.6" />
<line x1="251" y1="889" x2="251" y2="916" stroke="#151515" stroke-width="1.6" />
<line x1="124" y1="889" x2="251" y2="889" stroke="#151515" stroke-width="1.8" />
<rect x="124" y="916" width="127" height="9" fill="#fff" stroke="#151515" stroke-width="1.3" />
<line x1="141" y1="916" x2="141" y2="925" stroke="#151515" stroke-width="1.3" />
<line x1="158" y1="916" x2="158" y2="925" stroke="#151515" stroke-width="1.3" />
<line x1="175" y1="916" x2="175" y2="925" stroke="#151515" stroke-width="1.3" />
<line x1="192" y1="916" x2="192" y2="925" stroke="#151515" stroke-width="1.3" />
<line x1="209" y1="916" x2="209" y2="925" stroke="#151515" stroke-width="1.3" />
<line x1="226" y1="916" x2="226" y2="925" stroke="#151515" stroke-width="1.3" />
<line x1="243" y1="916" x2="243" y2="925" stroke="#151515" stroke-width="1.3" />
<line x1="124" y1="913.8" x2="251" y2="913.8" stroke="#151515" stroke-width="1.1" />
<rect x="520" y="965" width="59" height="27" fill="#fff" stroke="none" stroke-width="1" />
<line x1="520" y1="965" x2="520" y2="992" stroke="#151515" stroke-width="1.6" />
<line x1="579" y1="965" x2="579" y2="992" stroke="#151515" stroke-width="1.6" />
<line x1="520" y1="965" x2="579" y2="965" stroke="#151515" stroke-width="1.8" />
<rect x="520" y="992" width="59" height="9" fill="#fff" stroke="#151515" stroke-width="1.3" />
<line x1="537" y1="992" x2="537" y2="1001" stroke="#151515" stroke-width="1.3" />
<line x1="554" y1="992" x2="554" y2="1001" stroke="#151515" stroke-width="1.3" />
<line x1="571" y1="992" x2="571" y2="1001" stroke="#151515" stroke-width="1.3" />
<line x1="520" y1="989.8" x2="579" y2="989.8" stroke="#151515" stroke-width="1.1" />
<rect x="654" y="965" width="127" height="27" fill="#fff" stroke="none" stroke-width="1" />
<line x1="654" y1="965" x2="654" y2="992" stroke="#151515" stroke-width="1.6" />
<line x1="781" y1="965" x2="781" y2="992" stroke="#151515" stroke-width="1.6" />
<line x1="654" y1="965" x2="781" y2="965" stroke="#151515" stroke-width="1.8" />
<rect x="654" y="992" width="127" height="9" fill="#fff" stroke="#151515" stroke-width="1.3" />
<line x1="671" y1="992" x2="671" y2="1001" stroke="#151515" stroke-width="1.3" />
<line x1="688" y1="992" x2="688" y2="1001" stroke="#151515" stroke-width="1.3" />
<line x1="705" y1="992" x2="705" y2="1001" stroke="#151515" stroke-width="1.3" />
<line x1="722" y1="992" x2="722" y2="1001" stroke="#151515" stroke-width="1.3" />
<line x1="739" y1="992" x2="739" y2="1001" stroke="#151515" stroke-width="1.3" />
<line x1="756" y1="992" x2="756" y2="1001" stroke="#151515" stroke-width="1.3" />
<line x1="773" y1="992" x2="773" y2="1001" stroke="#151515" stroke-width="1.3" />
<line x1="654" y1="989.8" x2="781" y2="989.8" stroke="#151515" stroke-width="1.1" />
<rect x="53" y="525" width="27" height="59" fill="#fff" stroke="none" stroke-width="1" />
<line x1="53" y1="525" x2="80" y2="525" stroke="#151515" stroke-width="1.6" />
<line x1="53" y1="584" x2="80" y2="584" stroke="#151515" stroke-width="1.6" />
<line x1="80" y1="525" x2="80" y2="584" stroke="#151515" stroke-width="1.8" />
<rect x="44" y="525" width="9" height="59" fill="#fff" stroke="#151515" stroke-width="1.3" />
<line x1="44" y1="542" x2="53" y2="542" stroke="#151515" stroke-width="1.3" />
<line x1="44" y1="559" x2="53" y2="559" stroke="#151515" stroke-width="1.3" />
<line x1="44" y1="576" x2="53" y2="576" stroke="#151515" stroke-width="1.3" />
<line x1="55.2" y1="525" x2="55.2" y2="584" stroke="#151515" stroke-width="1.1" />
<rect x="817" y="440" width="27" height="127" fill="#fff" stroke="none" stroke-width="1" />
<line x1="817" y1="440" x2="844" y2="440" stroke="#151515" stroke-width="1.6" />
<line x1="817" y1="567" x2="844" y2="567" stroke="#151515" stroke-width="1.6" />
<line x1="817" y1="440" x2="817" y2="567" stroke="#151515" stroke-width="1.8" />
<rect x="844" y="440" width="9" height="127" fill="#fff" stroke="#151515" stroke-width="1.3" />
<line x1="844" y1="457" x2="853" y2="457" stroke="#151515" stroke-width="1.3" />
<line x1="844" y1="474" x2="853" y2="474" stroke="#151515" stroke-width="1.3" />
<line x1="844" y1="491" x2="853" y2="491" stroke="#151515" stroke-width="1.3" />
<line x1="844" y1="508" x2="853" y2="508" stroke="#151515" stroke-width="1.3" />
<line x1="844" y1="525" x2="853" y2="525" stroke="#151515" stroke-width="1.3" />
<line x1="844" y1="542" x2="853" y2="542" stroke="#151515" stroke-width="1.3" />
<line x1="844" y1="559" x2="853" y2="559" stroke="#151515" stroke-width="1.3" />
<line x1="841.8" y1="440" x2="841.8" y2="567" stroke="#151515" stroke-width="1.1" />
<rect x="817" y="744" width="27" height="127" fill="#fff" stroke="none" stroke-width="1" />
<line x1="817" y1="744" x2="844" y2="744" stroke="#151515" stroke-width="1.6" />
<line x1="817" y1="871" x2="844" y2="871" stroke="#151515" stroke-width="1.6" />
<line x1="817" y1="744" x2="817" y2="871" stroke="#151515" stroke-width="1.8" />
<rect x="844" y="744" width="9" height="127" fill="#fff" stroke="#151515" stroke-width="1.3" />
<line x1="844" y1="761" x2="853" y2="761" stroke="#151515" stroke-width="1.3" />
<line x1="844" y1="778" x2="853" y2="778" stroke="#151515" stroke-width="1.3" />
<line x1="844" y1="795" x2="853" y2="795" stroke="#151515" stroke-width="1.3" />
<line x1="844" y1="812" x2="853" y2="812" stroke="#151515" stroke-width="1.3" />
<line x1="844" y1="829" x2="853" y2="829" stroke="#151515" stroke-width="1.3" />
<line x1="844" y1="846" x2="853" y2="846" stroke="#151515" stroke-width="1.3" />
<line x1="844" y1="863" x2="853" y2="863" stroke="#151515" stroke-width="1.3" />
<line x1="841.8" y1="744" x2="841.8" y2="871" stroke="#151515" stroke-width="1.1" />
<rect x="355" y="889" width="67" height="27" fill="#fff" stroke="none" stroke-width="1" />
<rect x="355" y="916" width="67" height="9" fill="#fff" stroke="#151515" stroke-width="1.3" />
<line x1="372" y1="916" x2="372" y2="925" stroke="#151515" stroke-width="1.3" />
<line x1="389" y1="916" x2="389" y2="925" stroke="#151515" stroke-width="1.3" />
<line x1="406" y1="916" x2="406" y2="925" stroke="#151515" stroke-width="1.3" />
<line x1="355" y1="889" x2="355" y2="916" stroke="#151515" stroke-width="1.6" />
<line x1="422" y1="889" x2="422" y2="916" stroke="#151515" stroke-width="1.6" />
<line x1="357" y1="909" x2="357" y2="925" stroke="#151515" stroke-width="1.3" />
<line x1="420" y1="909" x2="420" y2="925" stroke="#151515" stroke-width="1.3" />
<line x1="357" y1="900" x2="420" y2="900" stroke="#555" stroke-width="1" stroke-dasharray="6,4"/>
<rect x="638" y="319" width="126" height="27" fill="#fff" stroke="none" stroke-width="1" />
<rect x="644" y="310" width="114" height="9" fill="#fff" stroke="#151515" stroke-width="1.3" />
<line x1="661" y1="310" x2="661" y2="319" stroke="#151515" stroke-width="1.3" />
<line x1="678" y1="310" x2="678" y2="319" stroke="#151515" stroke-width="1.3" />
<line x1="695" y1="310" x2="695" y2="319" stroke="#151515" stroke-width="1.3" />
<line x1="712" y1="310" x2="712" y2="319" stroke="#151515" stroke-width="1.3" />
<line x1="729" y1="310" x2="729" y2="319" stroke="#151515" stroke-width="1.3" />
<line x1="746" y1="310" x2="746" y2="319" stroke="#151515" stroke-width="1.3" />
<line x1="638" y1="319" x2="638" y2="346" stroke="#151515" stroke-width="1.6" />
<line x1="764" y1="319" x2="764" y2="346" stroke="#151515" stroke-width="1.6" />
<rect x="638" y="319" width="7" height="8" fill="#fff" stroke="#151515" stroke-width="1.2" />
<rect x="757" y="319" width="7" height="8" fill="#fff" stroke="#151515" stroke-width="1.2" />
<line x1="592" y1="346" x2="817" y2="346" stroke="#151515" stroke-width="1.8" />
<rect x="282.5" y="400" width="21" height="51" fill="#fff" stroke="none" stroke-width="1" />
<line x1="283" y1="400" x2="303" y2="400" stroke="#151515" stroke-width="1.6" />
<line x1="283" y1="451" x2="303" y2="451" stroke="#151515" stroke-width="1.6" />
<line x1="283" y1="400" x2="283" y2="451" stroke="#666" stroke-width="1.1" stroke-dasharray="7,5"/>
<rect x="316" y="382.5" width="50" height="9" fill="#fff" stroke="none" stroke-width="1" />
<line x1="316" y1="383" x2="316" y2="391" stroke="#151515" stroke-width="1.6" />
<line x1="366" y1="383" x2="366" y2="391" stroke="#151515" stroke-width="1.6" />
<line x1="316" y1="383" x2="366" y2="383" stroke="#666" stroke-width="1.1" stroke-dasharray="7,5"/>
<line x1="316" y1="391" x2="366" y2="391" stroke="#666" stroke-width="1.1" stroke-dasharray="7,5"/>
<rect x="379.5" y="426" width="9" height="50" fill="#fff" stroke="none" stroke-width="1" />
<line x1="380" y1="426" x2="388" y2="426" stroke="#151515" stroke-width="1.6" />
<line x1="380" y1="476" x2="388" y2="476" stroke="#151515" stroke-width="1.6" />
<line x1="388" y1="426" x2="388" y2="476" stroke="#666" stroke-width="1.1" stroke-dasharray="7,5"/>
<rect x="91" y="628.5" width="49" height="8" fill="#fff" stroke="none" stroke-width="1" />
<line x1="91" y1="629" x2="91" y2="636" stroke="#151515" stroke-width="1.6" />
<line x1="140" y1="629" x2="140" y2="636" stroke="#151515" stroke-width="1.6" />
<line x1="91" y1="629" x2="140" y2="629" stroke="#666" stroke-width="1.1" stroke-dasharray="7,5"/>
<line x1="91" y1="636" x2="140" y2="636" stroke="#666" stroke-width="1.1" stroke-dasharray="7,5"/>
<rect x="207" y="628.5" width="50" height="8" fill="#fff" stroke="none" stroke-width="1" />
<line x1="207" y1="629" x2="207" y2="636" stroke="#151515" stroke-width="1.6" />
<line x1="257" y1="629" x2="257" y2="636" stroke="#151515" stroke-width="1.6" />
<line x1="207" y1="629" x2="257" y2="629" stroke="#666" stroke-width="1.1" stroke-dasharray="7,5"/>
<line x1="207" y1="636" x2="257" y2="636" stroke="#666" stroke-width="1.1" stroke-dasharray="7,5"/>
<rect x="282.5" y="659" width="20" height="51" fill="#fff" stroke="none" stroke-width="1" />
<line x1="283" y1="659" x2="302" y2="659" stroke="#151515" stroke-width="1.6" />
<line x1="283" y1="710" x2="302" y2="710" stroke="#151515" stroke-width="1.6" />
<line x1="283" y1="659" x2="283" y2="710" stroke="#666" stroke-width="1.1" stroke-dasharray="7,5"/>
<line x1="302" y1="659" x2="302" y2="710" stroke="#666" stroke-width="1.1" stroke-dasharray="7,5"/>
<rect x="424" y="628.5" width="50" height="8" fill="#fff" stroke="none" stroke-width="1" />
<line x1="424" y1="629" x2="424" y2="636" stroke="#151515" stroke-width="1.6" />
<line x1="474" y1="629" x2="474" y2="636" stroke="#151515" stroke-width="1.6" />
<line x1="424" y1="629" x2="474" y2="629" stroke="#666" stroke-width="1.1" stroke-dasharray="7,5"/>
<line x1="424" y1="636" x2="474" y2="636" stroke="#666" stroke-width="1.1" stroke-dasharray="7,5"/>
<rect x="508" y="732.5" width="50" height="21" fill="#fff" stroke="none" stroke-width="1" />
<line x1="508" y1="733" x2="508" y2="753" stroke="#151515" stroke-width="1.6" />
<line x1="558" y1="733" x2="558" y2="753" stroke="#151515" stroke-width="1.6" />
<line x1="508" y1="733" x2="558" y2="733" stroke="#666" stroke-width="1.1" stroke-dasharray="7,5"/>
<line x1="508" y1="753" x2="558" y2="753" stroke="#666" stroke-width="1.1" stroke-dasharray="7,5"/>
<rect x="355" y="732.5" width="64" height="20" fill="#fff" stroke="none" stroke-width="1" />
<line x1="355" y1="733" x2="355" y2="752" stroke="#151515" stroke-width="1.6" />
<line x1="419" y1="733" x2="419" y2="752" stroke="#151515" stroke-width="1.6" />
<line x1="303" y1="733.5" x2="419" y2="733.5" stroke="#666" stroke-width="1.1" stroke-dasharray="7,5"/>
<line x1="566" y1="637" x2="566" y2="733" stroke="#666" stroke-width="1.1" stroke-dasharray="7,5"/>
<line x1="644" y1="733.5" x2="817" y2="733.5" stroke="#666" stroke-width="1.1" stroke-dasharray="7,5"/>
<line x1="303" y1="391" x2="380" y2="391" stroke="#666" stroke-width="1.1" stroke-dasharray="7,5"/>
<line x1="609" y1="66" x2="827" y2="66" stroke="#151515" stroke-width="1.7" />
<line x1="827" y1="54" x2="827" y2="125" stroke="#151515" stroke-width="1.2" />
<line x1="853" y1="36" x2="853" y2="122" stroke="#2e2e2e" stroke-width="1.0" />
<line x1="609" y1="50" x2="609" y2="141" stroke="#151515" stroke-width="1.7" />
<line x1="609" y1="143.5" x2="827" y2="143.5" stroke="#151515" stroke-width="1.7" />
<rect x="827" y="143" width="26" height="24" fill="#7d7d7d" stroke="#151515" stroke-width="1.4" />
<path d="M827,150 H845 V167 M835,150 V167 M845,157 H853 M835,159 H845" stroke="#151515" stroke-width="1.2" fill="none" />
<line x1="851" y1="167" x2="851" y2="310" stroke="#151515" stroke-width="1.7" />
<line x1="294.5" y1="1000.5" x2="465.5" y2="1000.5" stroke="#151515" stroke-width="1.7" />
<line x1="294.5" y1="1000.5" x2="294.5" y2="1077" stroke="#151515" stroke-width="1.7" />
<line x1="294.5" y1="1076" x2="457" y2="1076" stroke="#151515" stroke-width="1.7" />
<rect x="269" y="976" width="25.5" height="25" fill="#7d7d7d" stroke="#151515" stroke-width="1.4" />
<path d="M269,983 H287 V1001 M277,983 V1001 M287,991 H294.5 M277,992 H287" stroke="#151515" stroke-width="1.2" fill="none" />
<line x1="270.8" y1="925" x2="270.8" y2="976" stroke="#151515" stroke-width="1.2" />
<line x1="44" y1="39.5" x2="853" y2="39.5" stroke="#2e2e2e" stroke-width="1.3" />
<line x1="44" y1="35" x2="44" y2="44" stroke="#2e2e2e" stroke-width="1.3" />
<line x1="41.5" y1="42" x2="46.5" y2="37" stroke="#2e2e2e" stroke-width="1.3" />
<line x1="853" y1="35" x2="853" y2="44" stroke="#2e2e2e" stroke-width="1.3" />
<line x1="850.5" y1="42" x2="855.5" y2="37" stroke="#2e2e2e" stroke-width="1.3" />
<line x1="605" y1="54.5" x2="853" y2="54.5" stroke="#2e2e2e" stroke-width="1.3" />
<line x1="609" y1="50" x2="609" y2="59" stroke="#2e2e2e" stroke-width="1.3" />
<line x1="606.5" y1="57" x2="611.5" y2="52" stroke="#2e2e2e" stroke-width="1.3" />
<line x1="827" y1="50" x2="827" y2="59" stroke="#2e2e2e" stroke-width="1.3" />
<line x1="824.5" y1="57" x2="829.5" y2="52" stroke="#2e2e2e" stroke-width="1.3" />
<line x1="853" y1="50" x2="853" y2="59" stroke="#2e2e2e" stroke-width="1.3" />
<line x1="850.5" y1="57" x2="855.5" y2="52" stroke="#2e2e2e" stroke-width="1.3" />
<line x1="44" y1="79.5" x2="609" y2="79.5" stroke="#2e2e2e" stroke-width="1.3" />
<line x1="44" y1="75" x2="44" y2="84" stroke="#2e2e2e" stroke-width="1.3" />
<line x1="41.5" y1="82" x2="46.5" y2="77" stroke="#2e2e2e" stroke-width="1.3" />
<line x1="609" y1="75" x2="609" y2="84" stroke="#2e2e2e" stroke-width="1.3" />
<line x1="606.5" y1="82" x2="611.5" y2="77" stroke="#2e2e2e" stroke-width="1.3" />
<line x1="44" y1="97.5" x2="609" y2="97.5" stroke="#2e2e2e" stroke-width="1.3" />
<line x1="44" y1="93" x2="44" y2="102" stroke="#2e2e2e" stroke-width="1.3" />
<line x1="41.5" y1="100" x2="46.5" y2="95" stroke="#2e2e2e" stroke-width="1.3" />
<line x1="119.5" y1="93" x2="119.5" y2="102" stroke="#2e2e2e" stroke-width="1.3" />
<line x1="117" y1="100" x2="122" y2="95" stroke="#2e2e2e" stroke-width="1.3" />
<line x1="238.75" y1="93" x2="238.75" y2="102" stroke="#2e2e2e" stroke-width="1.3" />
<line x1="236.25" y1="100" x2="241.25" y2="95" stroke="#2e2e2e" stroke-width="1.3" />
<line x1="380" y1="93" x2="380" y2="102" stroke="#2e2e2e" stroke-width="1.3" />
<line x1="377.5" y1="100" x2="382.5" y2="95" stroke="#2e2e2e" stroke-width="1.3" />
<line x1="498.75" y1="93" x2="498.75" y2="102" stroke="#2e2e2e" stroke-width="1.3" />
<line x1="496.25" y1="100" x2="501.25" y2="95" stroke="#2e2e2e" stroke-width="1.3" />
<line x1="609" y1="93" x2="609" y2="102" stroke="#2e2e2e" stroke-width="1.3" />
<line x1="606.5" y1="100" x2="611.5" y2="95" stroke="#2e2e2e" stroke-width="1.3" />
<line x1="44" y1="36" x2="44" y2="122" stroke="#2e2e2e" stroke-width="1.3" />
<line x1="119.5" y1="94" x2="119.5" y2="122" stroke="#2e2e2e" stroke-width="1.3" />
<line x1="238.75" y1="94" x2="238.75" y2="122" stroke="#2e2e2e" stroke-width="1.3" />
<line x1="380" y1="94" x2="380" y2="122" stroke="#2e2e2e" stroke-width="1.3" />
<line x1="498.75" y1="94" x2="498.75" y2="122" stroke="#2e2e2e" stroke-width="1.3" />
<line x1="596" y1="64" x2="596" y2="141" stroke="#2e2e2e" stroke-width="1.3" />
<line x1="591.5" y1="66" x2="600.5" y2="66" stroke="#2e2e2e" stroke-width="1.3" />
<line x1="593.5" y1="68.5" x2="598.5" y2="63.5" stroke="#2e2e2e" stroke-width="1.3" />
<line x1="591.5" y1="141" x2="600.5" y2="141" stroke="#2e2e2e" stroke-width="1.3" />
<line x1="593.5" y1="143.5" x2="598.5" y2="138.5" stroke="#2e2e2e" stroke-width="1.3" />
<g transform="translate(447,39.5)"><rect x="-20.79" y="-5.6" width="41.58" height="11.2" fill="#fdfdfd"/><text transform="scale(0.84,1)" font-size="14" text-anchor="middle" dominant-baseline="central" fill="#2a2a2a" stroke="#2a2a2a" stroke-width="0.3">12 470</text></g>
<g transform="translate(840,39.5)"><rect x="-11.31" y="-5.6" width="22.62" height="11.2" fill="#fdfdfd"/><text transform="scale(0.84,1)" font-size="14" text-anchor="middle" dominant-baseline="central" fill="#2a2a2a" stroke="#2a2a2a" stroke-width="0.3">380</text></g>
<g transform="translate(717,54.5)"><rect x="-17.52" y="-5.6" width="35.04" height="11.2" fill="#fdfdfd"/><text transform="scale(0.84,1)" font-size="14" text-anchor="middle" dominant-baseline="central" fill="#2a2a2a" stroke="#2a2a2a" stroke-width="0.3">3 390</text></g>
<g transform="translate(327,79.5)"><rect x="-17.52" y="-5.6" width="35.04" height="11.2" fill="#fdfdfd"/><text transform="scale(0.84,1)" font-size="14" text-anchor="middle" dominant-baseline="central" fill="#2a2a2a" stroke="#2a2a2a" stroke-width="0.3">8 700</text></g>
<g transform="translate(82,97.5)"><rect x="-17.52" y="-5.6" width="35.04" height="11.2" fill="#fdfdfd"/><text transform="scale(0.84,1)" font-size="14" text-anchor="middle" dominant-baseline="central" fill="#2a2a2a" stroke="#2a2a2a" stroke-width="0.3">1 160</text></g>
<g transform="translate(179,97.5)"><rect x="-17.52" y="-5.6" width="35.04" height="11.2" fill="#fdfdfd"/><text transform="scale(0.84,1)" font-size="14" text-anchor="middle" dominant-baseline="central" fill="#2a2a2a" stroke="#2a2a2a" stroke-width="0.3">1 830</text></g>
<g transform="translate(309,97.5)"><rect x="-17.52" y="-5.6" width="35.04" height="11.2" fill="#fdfdfd"/><text transform="scale(0.84,1)" font-size="14" text-anchor="middle" dominant-baseline="central" fill="#2a2a2a" stroke="#2a2a2a" stroke-width="0.3">2 200</text></g>
<g transform="translate(440,97.5)"><rect x="-17.52" y="-5.6" width="35.04" height="11.2" fill="#fdfdfd"/><text transform="scale(0.84,1)" font-size="14" text-anchor="middle" dominant-baseline="central" fill="#2a2a2a" stroke="#2a2a2a" stroke-width="0.3">1 830</text></g>
<g transform="translate(554,97.5)"><rect x="-17.52" y="-5.6" width="35.04" height="11.2" fill="#fdfdfd"/><text transform="scale(0.84,1)" font-size="14" text-anchor="middle" dominant-baseline="central" fill="#2a2a2a" stroke="#2a2a2a" stroke-width="0.3">1 680</text></g>
<g transform="translate(597,104) rotate(-90)"><rect x="-17.52" y="-5.6" width="35.04" height="11.2" fill="#fdfdfd"/><text transform="scale(0.84,1)" font-size="14" text-anchor="middle" dominant-baseline="central" fill="#2a2a2a" stroke="#2a2a2a" stroke-width="0.3">1 170</text></g>
<line x1="819" y1="66" x2="819" y2="310" stroke="#2e2e2e" stroke-width="1.3" />
<line x1="814.5" y1="66" x2="823.5" y2="66" stroke="#2e2e2e" stroke-width="1.3" />
<line x1="816.5" y1="68.5" x2="821.5" y2="63.5" stroke="#2e2e2e" stroke-width="1.3" />
<line x1="814.5" y1="144" x2="823.5" y2="144" stroke="#2e2e2e" stroke-width="1.3" />
<line x1="816.5" y1="146.5" x2="821.5" y2="141.5" stroke="#2e2e2e" stroke-width="1.3" />
<line x1="814.5" y1="310" x2="823.5" y2="310" stroke="#2e2e2e" stroke-width="1.3" />
<line x1="816.5" y1="312.5" x2="821.5" y2="307.5" stroke="#2e2e2e" stroke-width="1.3" />
<g transform="translate(819.5,105) rotate(-90)"><rect x="-17.52" y="-5.6" width="35.04" height="11.2" fill="#fdfdfd"/><text transform="scale(0.84,1)" font-size="14" text-anchor="middle" dominant-baseline="central" fill="#2a2a2a" stroke="#2a2a2a" stroke-width="0.3">1 200</text></g>
<g transform="translate(819.5,226) rotate(-90)"><rect x="-17.52" y="-5.6" width="35.04" height="11.2" fill="#fdfdfd"/><text transform="scale(0.84,1)" font-size="14" text-anchor="middle" dominant-baseline="central" fill="#2a2a2a" stroke="#2a2a2a" stroke-width="0.3">2 570</text></g>
<line x1="609" y1="182.5" x2="851" y2="182.5" stroke="#2e2e2e" stroke-width="1.3" />
<line x1="609" y1="178" x2="609" y2="187" stroke="#2e2e2e" stroke-width="1.3" />
<line x1="606.5" y1="185" x2="611.5" y2="180" stroke="#2e2e2e" stroke-width="1.3" />
<line x1="851" y1="178" x2="851" y2="187" stroke="#2e2e2e" stroke-width="1.3" />
<line x1="848.5" y1="185" x2="853.5" y2="180" stroke="#2e2e2e" stroke-width="1.3" />
<g transform="translate(728,182.5)"><rect x="-17.52" y="-5.6" width="35.04" height="11.2" fill="#fdfdfd"/><text transform="scale(0.84,1)" font-size="14" text-anchor="middle" dominant-baseline="central" fill="#2a2a2a" stroke="#2a2a2a" stroke-width="0.3">3 740</text></g>
<line x1="895.6" y1="140" x2="895.6" y2="1001" stroke="#2e2e2e" stroke-width="1.3" />
<line x1="891.1" y1="140" x2="900.1" y2="140" stroke="#2e2e2e" stroke-width="1.3" />
<line x1="893.1" y1="142.5" x2="898.1" y2="137.5" stroke="#2e2e2e" stroke-width="1.3" />
<line x1="891.1" y1="167" x2="900.1" y2="167" stroke="#2e2e2e" stroke-width="1.3" />
<line x1="893.1" y1="169.5" x2="898.1" y2="164.5" stroke="#2e2e2e" stroke-width="1.3" />
<line x1="891.1" y1="311" x2="900.1" y2="311" stroke="#2e2e2e" stroke-width="1.3" />
<line x1="893.1" y1="313.5" x2="898.1" y2="308.5" stroke="#2e2e2e" stroke-width="1.3" />
<line x1="891.1" y1="444" x2="900.1" y2="444" stroke="#2e2e2e" stroke-width="1.3" />
<line x1="893.1" y1="446.5" x2="898.1" y2="441.5" stroke="#2e2e2e" stroke-width="1.3" />
<line x1="891.1" y1="564" x2="900.1" y2="564" stroke="#2e2e2e" stroke-width="1.3" />
<line x1="893.1" y1="566.5" x2="898.1" y2="561.5" stroke="#2e2e2e" stroke-width="1.3" />
<line x1="891.1" y1="746" x2="900.1" y2="746" stroke="#2e2e2e" stroke-width="1.3" />
<line x1="893.1" y1="748.5" x2="898.1" y2="743.5" stroke="#2e2e2e" stroke-width="1.3" />
<line x1="891.1" y1="868" x2="900.1" y2="868" stroke="#2e2e2e" stroke-width="1.3" />
<line x1="893.1" y1="870.5" x2="898.1" y2="865.5" stroke="#2e2e2e" stroke-width="1.3" />
<line x1="891.1" y1="1001" x2="900.1" y2="1001" stroke="#2e2e2e" stroke-width="1.3" />
<line x1="893.1" y1="1003.5" x2="898.1" y2="998.5" stroke="#2e2e2e" stroke-width="1.3" />
<line x1="873" y1="140" x2="896" y2="140" stroke="#2e2e2e" stroke-width="1.3" />
<line x1="873" y1="167" x2="896" y2="167" stroke="#2e2e2e" stroke-width="1.3" />
<line x1="873" y1="311" x2="896" y2="311" stroke="#2e2e2e" stroke-width="1.3" />
<line x1="873" y1="444" x2="896" y2="444" stroke="#2e2e2e" stroke-width="1.3" />
<line x1="873" y1="564" x2="896" y2="564" stroke="#2e2e2e" stroke-width="1.3" />
<line x1="873" y1="746" x2="896" y2="746" stroke="#2e2e2e" stroke-width="1.3" />
<line x1="873" y1="868" x2="896" y2="868" stroke="#2e2e2e" stroke-width="1.3" />
<line x1="873" y1="1001" x2="896" y2="1001" stroke="#2e2e2e" stroke-width="1.3" />
<line x1="913.3" y1="130" x2="913.3" y2="1001" stroke="#2e2e2e" stroke-width="1.3" />
<line x1="900" y1="140" x2="918" y2="140" stroke="#2e2e2e" stroke-width="1.3" />
<line x1="900" y1="1001" x2="918" y2="1001" stroke="#2e2e2e" stroke-width="1.3" />
<g transform="translate(880,153) rotate(-90)"><text transform="scale(0.84,1)" font-size="14" text-anchor="middle" dominant-baseline="central" fill="#2a2a2a" stroke="#2a2a2a" stroke-width="0.3">380</text></g>
<line x1="873" y1="141" x2="873" y2="167" stroke="#2e2e2e" stroke-width="1" />
<g transform="translate(896,240) rotate(-90)"><rect x="-17.52" y="-5.6" width="35.04" height="11.2" fill="#fdfdfd"/><text transform="scale(0.84,1)" font-size="14" text-anchor="middle" dominant-baseline="central" fill="#2a2a2a" stroke="#2a2a2a" stroke-width="0.3">2 220</text></g>
<g transform="translate(896,378) rotate(-90)"><rect x="-17.52" y="-5.6" width="35.04" height="11.2" fill="#fdfdfd"/><text transform="scale(0.84,1)" font-size="14" text-anchor="middle" dominant-baseline="central" fill="#2a2a2a" stroke="#2a2a2a" stroke-width="0.3">2 070</text></g>
<g transform="translate(896,501) rotate(-90)"><rect x="-17.52" y="-5.6" width="35.04" height="11.2" fill="#fdfdfd"/><text transform="scale(0.84,1)" font-size="14" text-anchor="middle" dominant-baseline="central" fill="#2a2a2a" stroke="#2a2a2a" stroke-width="0.3">1 830</text></g>
<g transform="translate(896,655) rotate(-90)"><rect x="-17.52" y="-5.6" width="35.04" height="11.2" fill="#fdfdfd"/><text transform="scale(0.84,1)" font-size="14" text-anchor="middle" dominant-baseline="central" fill="#2a2a2a" stroke="#2a2a2a" stroke-width="0.3">2 850</text></g>
<g transform="translate(896,805) rotate(-90)"><rect x="-17.52" y="-5.6" width="35.04" height="11.2" fill="#fdfdfd"/><text transform="scale(0.84,1)" font-size="14" text-anchor="middle" dominant-baseline="central" fill="#2a2a2a" stroke="#2a2a2a" stroke-width="0.3">1 830</text></g>
<g transform="translate(896,934) rotate(-90)"><rect x="-17.52" y="-5.6" width="35.04" height="11.2" fill="#fdfdfd"/><text transform="scale(0.84,1)" font-size="14" text-anchor="middle" dominant-baseline="central" fill="#2a2a2a" stroke="#2a2a2a" stroke-width="0.3">2 070</text></g>
<g transform="translate(913,578) rotate(-90)"><rect x="-20.79" y="-5.6" width="41.58" height="11.2" fill="#fdfdfd"/><text transform="scale(0.84,1)" font-size="14" text-anchor="middle" dominant-baseline="central" fill="#2a2a2a" stroke="#2a2a2a" stroke-width="0.3">13 250</text></g>
<line x1="5" y1="141" x2="5" y2="925" stroke="#2e2e2e" stroke-width="1.3" />
<line x1="0.5" y1="141" x2="9.5" y2="141" stroke="#2e2e2e" stroke-width="1.3" />
<line x1="2.5" y1="143.5" x2="7.5" y2="138.5" stroke="#2e2e2e" stroke-width="1.3" />
<line x1="0.5" y1="925" x2="9.5" y2="925" stroke="#2e2e2e" stroke-width="1.3" />
<line x1="2.5" y1="927.5" x2="7.5" y2="922.5" stroke="#2e2e2e" stroke-width="1.3" />
<line x1="16.2" y1="141" x2="16.2" y2="925" stroke="#2e2e2e" stroke-width="1.3" />
<line x1="11.7" y1="141" x2="20.7" y2="141" stroke="#2e2e2e" stroke-width="1.3" />
<line x1="13.7" y1="143.5" x2="18.7" y2="138.5" stroke="#2e2e2e" stroke-width="1.3" />
<line x1="11.7" y1="528.6" x2="20.7" y2="528.6" stroke="#2e2e2e" stroke-width="1.3" />
<line x1="13.7" y1="531.1" x2="18.7" y2="526.1" stroke="#2e2e2e" stroke-width="1.3" />
<line x1="11.7" y1="580" x2="20.7" y2="580" stroke="#2e2e2e" stroke-width="1.3" />
<line x1="13.7" y1="582.5" x2="18.7" y2="577.5" stroke="#2e2e2e" stroke-width="1.3" />
<line x1="11.7" y1="925" x2="20.7" y2="925" stroke="#2e2e2e" stroke-width="1.3" />
<line x1="13.7" y1="927.5" x2="18.7" y2="922.5" stroke="#2e2e2e" stroke-width="1.3" />
<line x1="0" y1="141" x2="25" y2="141" stroke="#2e2e2e" stroke-width="1.3" />
<line x1="0" y1="925" x2="23" y2="925" stroke="#2e2e2e" stroke-width="1.3" />
<line x1="13" y1="528.6" x2="25" y2="528.6" stroke="#2e2e2e" stroke-width="1.3" />
<line x1="13" y1="580" x2="25" y2="580" stroke="#2e2e2e" stroke-width="1.3" />
<g transform="translate(6,533) rotate(-90)"><rect x="-20.79" y="-5.6" width="41.58" height="11.2" fill="#fdfdfd"/><text transform="scale(0.84,1)" font-size="14" text-anchor="middle" dominant-baseline="central" fill="#2a2a2a" stroke="#2a2a2a" stroke-width="0.3">12 080</text></g>
<g transform="translate(17,335) rotate(-90)"><rect x="-17.52" y="-5.6" width="35.04" height="11.2" fill="#fdfdfd"/><text transform="scale(0.84,1)" font-size="14" text-anchor="middle" dominant-baseline="central" fill="#2a2a2a" stroke="#2a2a2a" stroke-width="0.3">5 970</text></g>
<g transform="translate(17,553) rotate(-90)"><rect x="-11.31" y="-5.6" width="22.62" height="11.2" fill="#fdfdfd"/><text transform="scale(0.84,1)" font-size="14" text-anchor="middle" dominant-baseline="central" fill="#2a2a2a" stroke="#2a2a2a" stroke-width="0.3">790</text></g>
<g transform="translate(17,750) rotate(-90)"><rect x="-17.52" y="-5.6" width="35.04" height="11.2" fill="#fdfdfd"/><text transform="scale(0.84,1)" font-size="14" text-anchor="middle" dominant-baseline="central" fill="#2a2a2a" stroke="#2a2a2a" stroke-width="0.3">5 320</text></g>
<line x1="80" y1="193" x2="609" y2="193" stroke="#2e2e2e" stroke-width="1.3" />
<line x1="80" y1="188.5" x2="80" y2="197.5" stroke="#2e2e2e" stroke-width="1.3" />
<line x1="77.5" y1="195.5" x2="82.5" y2="190.5" stroke="#2e2e2e" stroke-width="1.3" />
<line x1="115" y1="188.5" x2="115" y2="197.5" stroke="#2e2e2e" stroke-width="1.3" />
<line x1="112.5" y1="195.5" x2="117.5" y2="190.5" stroke="#2e2e2e" stroke-width="1.3" />
<line x1="243" y1="188.5" x2="243" y2="197.5" stroke="#2e2e2e" stroke-width="1.3" />
<line x1="240.5" y1="195.5" x2="245.5" y2="190.5" stroke="#2e2e2e" stroke-width="1.3" />
<line x1="283" y1="188.5" x2="283" y2="197.5" stroke="#2e2e2e" stroke-width="1.3" />
<line x1="280.5" y1="195.5" x2="285.5" y2="190.5" stroke="#2e2e2e" stroke-width="1.3" />
<line x1="303" y1="188.5" x2="303" y2="197.5" stroke="#2e2e2e" stroke-width="1.3" />
<line x1="300.5" y1="195.5" x2="305.5" y2="190.5" stroke="#2e2e2e" stroke-width="1.3" />
<line x1="376.4" y1="188.5" x2="376.4" y2="197.5" stroke="#2e2e2e" stroke-width="1.3" />
<line x1="373.9" y1="195.5" x2="378.9" y2="190.5" stroke="#2e2e2e" stroke-width="1.3" />
<line x1="504" y1="188.5" x2="504" y2="197.5" stroke="#2e2e2e" stroke-width="1.3" />
<line x1="501.5" y1="195.5" x2="506.5" y2="190.5" stroke="#2e2e2e" stroke-width="1.3" />
<line x1="572" y1="188.5" x2="572" y2="197.5" stroke="#2e2e2e" stroke-width="1.3" />
<line x1="569.5" y1="195.5" x2="574.5" y2="190.5" stroke="#2e2e2e" stroke-width="1.3" />
<line x1="609" y1="188.5" x2="609" y2="197.5" stroke="#2e2e2e" stroke-width="1.3" />
<line x1="606.5" y1="195.5" x2="611.5" y2="190.5" stroke="#2e2e2e" stroke-width="1.3" />
<g transform="translate(98,193)"><rect x="-11.31" y="-5.6" width="22.62" height="11.2" fill="#fdfdfd"/><text transform="scale(0.84,1)" font-size="14" text-anchor="middle" dominant-baseline="central" fill="#2a2a2a" stroke="#2a2a2a" stroke-width="0.3">545</text></g>
<g transform="translate(179,193)"><rect x="-17.52" y="-5.6" width="35.04" height="11.2" fill="#fdfdfd"/><text transform="scale(0.84,1)" font-size="14" text-anchor="middle" dominant-baseline="central" fill="#2a2a2a" stroke="#2a2a2a" stroke-width="0.3">1 960</text></g>
<g transform="translate(263,193)"><rect x="-11.31" y="-5.6" width="22.62" height="11.2" fill="#fdfdfd"/><text transform="scale(0.84,1)" font-size="14" text-anchor="middle" dominant-baseline="central" fill="#2a2a2a" stroke="#2a2a2a" stroke-width="0.3">635</text></g>
<g transform="translate(340.5,193)"><rect x="-17.52" y="-5.6" width="35.04" height="11.2" fill="#fdfdfd"/><text transform="scale(0.84,1)" font-size="14" text-anchor="middle" dominant-baseline="central" fill="#2a2a2a" stroke="#2a2a2a" stroke-width="0.3">1 135</text></g>
<g transform="translate(440,193)"><rect x="-17.52" y="-5.6" width="35.04" height="11.2" fill="#fdfdfd"/><text transform="scale(0.84,1)" font-size="14" text-anchor="middle" dominant-baseline="central" fill="#2a2a2a" stroke="#2a2a2a" stroke-width="0.3">1 960</text></g>
<g transform="translate(537.5,193)"><rect x="-17.52" y="-5.6" width="35.04" height="11.2" fill="#fdfdfd"/><text transform="scale(0.84,1)" font-size="14" text-anchor="middle" dominant-baseline="central" fill="#2a2a2a" stroke="#2a2a2a" stroke-width="0.3">1 065</text></g>
<g transform="translate(590,193)"><text transform="scale(0.84,1)" font-size="14" text-anchor="middle" dominant-baseline="central" fill="#2a2a2a" stroke="#2a2a2a" stroke-width="0.3">550</text></g>
<g transform="translate(292.5,178)"><text transform="scale(0.84,1)" font-size="14" text-anchor="middle" dominant-baseline="central" fill="#2a2a2a" stroke="#2a2a2a" stroke-width="0.3">300</text></g>
<g transform="translate(95,163) rotate(-90)"><text transform="scale(0.84,1)" font-size="14" text-anchor="middle" dominant-baseline="central" fill="#2a2a2a" stroke="#2a2a2a" stroke-width="0.3">590</text></g>
<g transform="translate(580,160) rotate(-90)"><text transform="scale(0.84,1)" font-size="14" text-anchor="middle" dominant-baseline="central" fill="#2a2a2a" stroke="#2a2a2a" stroke-width="0.3">590</text></g>
<line x1="95" y1="150" x2="95" y2="889" stroke="#2e2e2e" stroke-width="1.3" />
<line x1="90.5" y1="177" x2="99.5" y2="177" stroke="#2e2e2e" stroke-width="1.3" />
<line x1="92.5" y1="179.5" x2="97.5" y2="174.5" stroke="#2e2e2e" stroke-width="1.3" />
<line x1="90.5" y1="461" x2="99.5" y2="461" stroke="#2e2e2e" stroke-width="1.3" />
<line x1="92.5" y1="463.5" x2="97.5" y2="458.5" stroke="#2e2e2e" stroke-width="1.3" />
<line x1="90.5" y1="470" x2="99.5" y2="470" stroke="#2e2e2e" stroke-width="1.3" />
<line x1="92.5" y1="472.5" x2="97.5" y2="467.5" stroke="#2e2e2e" stroke-width="1.3" />
<line x1="90.5" y1="525" x2="99.5" y2="525" stroke="#2e2e2e" stroke-width="1.3" />
<line x1="92.5" y1="527.5" x2="97.5" y2="522.5" stroke="#2e2e2e" stroke-width="1.3" />
<line x1="90.5" y1="584" x2="99.5" y2="584" stroke="#2e2e2e" stroke-width="1.3" />
<line x1="92.5" y1="586.5" x2="97.5" y2="581.5" stroke="#2e2e2e" stroke-width="1.3" />
<line x1="90.5" y1="629" x2="99.5" y2="629" stroke="#2e2e2e" stroke-width="1.3" />
<line x1="92.5" y1="631.5" x2="97.5" y2="626.5" stroke="#2e2e2e" stroke-width="1.3" />
<line x1="90.5" y1="636" x2="99.5" y2="636" stroke="#2e2e2e" stroke-width="1.3" />
<line x1="92.5" y1="638.5" x2="97.5" y2="633.5" stroke="#2e2e2e" stroke-width="1.3" />
<line x1="90.5" y1="889" x2="99.5" y2="889" stroke="#2e2e2e" stroke-width="1.3" />
<line x1="92.5" y1="891.5" x2="97.5" y2="886.5" stroke="#2e2e2e" stroke-width="1.3" />
<g transform="translate(95,321) rotate(-90)"><rect x="-17.52" y="-5.6" width="35.04" height="11.2" fill="#fdfdfd"/><text transform="scale(0.84,1)" font-size="14" text-anchor="middle" dominant-baseline="central" fill="#2a2a2a" stroke="#2a2a2a" stroke-width="0.3">4 390</text></g>
<g transform="translate(95,497) rotate(-90)"><rect x="-11.31" y="-5.6" width="22.62" height="11.2" fill="#fdfdfd"/><text transform="scale(0.84,1)" font-size="14" text-anchor="middle" dominant-baseline="central" fill="#2a2a2a" stroke="#2a2a2a" stroke-width="0.3">845</text></g>
<g transform="translate(95,554) rotate(-90)"><rect x="-11.31" y="-5.6" width="22.62" height="11.2" fill="#fdfdfd"/><text transform="scale(0.84,1)" font-size="14" text-anchor="middle" dominant-baseline="central" fill="#2a2a2a" stroke="#2a2a2a" stroke-width="0.3">920</text></g>
<g transform="translate(96.6,606) rotate(-90)"><rect x="-11.31" y="-5.6" width="22.62" height="11.2" fill="#fdfdfd"/><text transform="scale(0.84,1)" font-size="14" text-anchor="middle" dominant-baseline="central" fill="#2a2a2a" stroke="#2a2a2a" stroke-width="0.3">685</text></g>
<g transform="translate(95,763) rotate(-90)"><rect x="-17.52" y="-5.6" width="35.04" height="11.2" fill="#fdfdfd"/><text transform="scale(0.84,1)" font-size="14" text-anchor="middle" dominant-baseline="central" fill="#2a2a2a" stroke="#2a2a2a" stroke-width="0.3">3 900</text></g>
<line x1="258.6" y1="177" x2="258.6" y2="629" stroke="#2e2e2e" stroke-width="1.3" />
<line x1="254.1" y1="177" x2="263.1" y2="177" stroke="#2e2e2e" stroke-width="1.3" />
<line x1="256.1" y1="179.5" x2="261.1" y2="174.5" stroke="#2e2e2e" stroke-width="1.3" />
<line x1="254.1" y1="400" x2="263.1" y2="400" stroke="#2e2e2e" stroke-width="1.3" />
<line x1="256.1" y1="402.5" x2="261.1" y2="397.5" stroke="#2e2e2e" stroke-width="1.3" />
<line x1="254.1" y1="452" x2="263.1" y2="452" stroke="#2e2e2e" stroke-width="1.3" />
<line x1="256.1" y1="454.5" x2="261.1" y2="449.5" stroke="#2e2e2e" stroke-width="1.3" />
<line x1="254.1" y1="461" x2="263.1" y2="461" stroke="#2e2e2e" stroke-width="1.3" />
<line x1="256.1" y1="463.5" x2="261.1" y2="458.5" stroke="#2e2e2e" stroke-width="1.3" />
<line x1="254.1" y1="470" x2="263.1" y2="470" stroke="#2e2e2e" stroke-width="1.3" />
<line x1="256.1" y1="472.5" x2="261.1" y2="467.5" stroke="#2e2e2e" stroke-width="1.3" />
<line x1="254.1" y1="629" x2="263.1" y2="629" stroke="#2e2e2e" stroke-width="1.3" />
<line x1="256.1" y1="631.5" x2="261.1" y2="626.5" stroke="#2e2e2e" stroke-width="1.3" />
<g transform="translate(258.6,287) rotate(-90)"><rect x="-17.52" y="-5.6" width="35.04" height="11.2" fill="#fdfdfd"/><text transform="scale(0.84,1)" font-size="14" text-anchor="middle" dominant-baseline="central" fill="#2a2a2a" stroke="#2a2a2a" stroke-width="0.3">3 440</text></g>
<g transform="translate(258.6,425) rotate(-90)"><rect x="-11.31" y="-5.6" width="22.62" height="11.2" fill="#fdfdfd"/><text transform="scale(0.84,1)" font-size="14" text-anchor="middle" dominant-baseline="central" fill="#2a2a2a" stroke="#2a2a2a" stroke-width="0.3">800</text></g>
<g transform="translate(243,448) rotate(-90)"><rect x="-11.31" y="-5.6" width="22.62" height="11.2" fill="#fdfdfd"/><text transform="scale(0.84,1)" font-size="14" text-anchor="middle" dominant-baseline="central" fill="#2a2a2a" stroke="#2a2a2a" stroke-width="0.3">150</text></g>
<g transform="translate(243,471) rotate(-90)"><rect x="-11.31" y="-5.6" width="22.62" height="11.2" fill="#fdfdfd"/><text transform="scale(0.84,1)" font-size="14" text-anchor="middle" dominant-baseline="central" fill="#2a2a2a" stroke="#2a2a2a" stroke-width="0.3">120</text></g>
<g transform="translate(258.6,550) rotate(-90)"><rect x="-17.52" y="-5.6" width="35.04" height="11.2" fill="#fdfdfd"/><text transform="scale(0.84,1)" font-size="14" text-anchor="middle" dominant-baseline="central" fill="#2a2a2a" stroke="#2a2a2a" stroke-width="0.3">2 450</text></g>
<line x1="179.5" y1="470" x2="179.5" y2="629" stroke="#2e2e2e" stroke-width="1.3" />
<line x1="175" y1="470" x2="184" y2="470" stroke="#2e2e2e" stroke-width="1.3" />
<line x1="177" y1="472.5" x2="182" y2="467.5" stroke="#2e2e2e" stroke-width="1.3" />
<line x1="175" y1="629" x2="184" y2="629" stroke="#2e2e2e" stroke-width="1.3" />
<line x1="177" y1="631.5" x2="182" y2="626.5" stroke="#2e2e2e" stroke-width="1.3" />
<g transform="translate(179.5,550) rotate(-90)"><rect x="-17.52" y="-5.6" width="35.04" height="11.2" fill="#fdfdfd"/><text transform="scale(0.84,1)" font-size="14" text-anchor="middle" dominant-baseline="central" fill="#2a2a2a" stroke="#2a2a2a" stroke-width="0.3">2 450</text></g>
<line x1="80" y1="449" x2="283" y2="449" stroke="#2e2e2e" stroke-width="1.3" />
<line x1="80" y1="444.5" x2="80" y2="453.5" stroke="#2e2e2e" stroke-width="1.3" />
<line x1="77.5" y1="451.5" x2="82.5" y2="446.5" stroke="#2e2e2e" stroke-width="1.3" />
<line x1="283" y1="444.5" x2="283" y2="453.5" stroke="#2e2e2e" stroke-width="1.3" />
<line x1="280.5" y1="451.5" x2="285.5" y2="446.5" stroke="#2e2e2e" stroke-width="1.3" />
<g transform="translate(182,449)"><rect x="-17.52" y="-5.6" width="35.04" height="11.2" fill="#fdfdfd"/><text transform="scale(0.84,1)" font-size="14" text-anchor="middle" dominant-baseline="central" fill="#2a2a2a" stroke="#2a2a2a" stroke-width="0.3">3 140</text></g>
<g transform="translate(77.5,464) rotate(-90)"><text transform="scale(0.84,1)" font-size="14" text-anchor="middle" dominant-baseline="central" fill="#2a2a2a" stroke="#2a2a2a" stroke-width="0.3">120</text></g>
<g transform="translate(77,630) rotate(-90)"><text transform="scale(0.84,1)" font-size="14" text-anchor="middle" dominant-baseline="central" fill="#2a2a2a" stroke="#2a2a2a" stroke-width="0.3">120</text></g>
<g transform="translate(297,419)"><text transform="scale(0.84,1)" font-size="14" text-anchor="middle" dominant-baseline="central" fill="#2a2a2a" stroke="#2a2a2a" stroke-width="0.3">200</text></g>
<line x1="317" y1="177" x2="317" y2="889" stroke="#2e2e2e" stroke-width="1.3" />
<line x1="312.5" y1="177" x2="321.5" y2="177" stroke="#2e2e2e" stroke-width="1.3" />
<line x1="314.5" y1="179.5" x2="319.5" y2="174.5" stroke="#2e2e2e" stroke-width="1.3" />
<line x1="312.5" y1="383" x2="321.5" y2="383" stroke="#2e2e2e" stroke-width="1.3" />
<line x1="314.5" y1="385.5" x2="319.5" y2="380.5" stroke="#2e2e2e" stroke-width="1.3" />
<line x1="312.5" y1="391" x2="321.5" y2="391" stroke="#2e2e2e" stroke-width="1.3" />
<line x1="314.5" y1="393.5" x2="319.5" y2="388.5" stroke="#2e2e2e" stroke-width="1.3" />
<line x1="312.5" y1="400" x2="321.5" y2="400" stroke="#2e2e2e" stroke-width="1.3" />
<line x1="314.5" y1="402.5" x2="319.5" y2="397.5" stroke="#2e2e2e" stroke-width="1.3" />
<line x1="312.5" y1="452" x2="321.5" y2="452" stroke="#2e2e2e" stroke-width="1.3" />
<line x1="314.5" y1="454.5" x2="319.5" y2="449.5" stroke="#2e2e2e" stroke-width="1.3" />
<line x1="312.5" y1="659" x2="321.5" y2="659" stroke="#2e2e2e" stroke-width="1.3" />
<line x1="314.5" y1="661.5" x2="319.5" y2="656.5" stroke="#2e2e2e" stroke-width="1.3" />
<line x1="312.5" y1="711" x2="321.5" y2="711" stroke="#2e2e2e" stroke-width="1.3" />
<line x1="314.5" y1="713.5" x2="319.5" y2="708.5" stroke="#2e2e2e" stroke-width="1.3" />
<line x1="312.5" y1="733" x2="321.5" y2="733" stroke="#2e2e2e" stroke-width="1.3" />
<line x1="314.5" y1="735.5" x2="319.5" y2="730.5" stroke="#2e2e2e" stroke-width="1.3" />
<line x1="312.5" y1="753" x2="321.5" y2="753" stroke="#2e2e2e" stroke-width="1.3" />
<line x1="314.5" y1="755.5" x2="319.5" y2="750.5" stroke="#2e2e2e" stroke-width="1.3" />
<line x1="312.5" y1="889" x2="321.5" y2="889" stroke="#2e2e2e" stroke-width="1.3" />
<line x1="314.5" y1="891.5" x2="319.5" y2="886.5" stroke="#2e2e2e" stroke-width="1.3" />
<g transform="translate(316,282) rotate(-90)"><rect x="-17.52" y="-5.6" width="35.04" height="11.2" fill="#fdfdfd"/><text transform="scale(0.84,1)" font-size="14" text-anchor="middle" dominant-baseline="central" fill="#2a2a2a" stroke="#2a2a2a" stroke-width="0.3">3 170</text></g>
<g transform="translate(317,427) rotate(-90)"><rect x="-11.31" y="-5.6" width="22.62" height="11.2" fill="#fdfdfd"/><text transform="scale(0.84,1)" font-size="14" text-anchor="middle" dominant-baseline="central" fill="#2a2a2a" stroke="#2a2a2a" stroke-width="0.3">800</text></g>
<g transform="translate(317,556) rotate(-90)"><rect x="-17.52" y="-5.6" width="35.04" height="11.2" fill="#fdfdfd"/><text transform="scale(0.84,1)" font-size="14" text-anchor="middle" dominant-baseline="central" fill="#2a2a2a" stroke="#2a2a2a" stroke-width="0.3">3 190</text></g>
<g transform="translate(318,685) rotate(-90)"><rect x="-11.31" y="-5.6" width="22.62" height="11.2" fill="#fdfdfd"/><text transform="scale(0.84,1)" font-size="14" text-anchor="middle" dominant-baseline="central" fill="#2a2a2a" stroke="#2a2a2a" stroke-width="0.3">800</text></g>
<g transform="translate(316,821) rotate(-90)"><rect x="-17.52" y="-5.6" width="35.04" height="11.2" fill="#fdfdfd"/><text transform="scale(0.84,1)" font-size="14" text-anchor="middle" dominant-baseline="central" fill="#2a2a2a" stroke="#2a2a2a" stroke-width="0.3">2 100</text></g>
<line x1="560" y1="177" x2="560" y2="383" stroke="#2e2e2e" stroke-width="1.3" />
<line x1="555.5" y1="177" x2="564.5" y2="177" stroke="#2e2e2e" stroke-width="1.3" />
<line x1="557.5" y1="179.5" x2="562.5" y2="174.5" stroke="#2e2e2e" stroke-width="1.3" />
<line x1="555.5" y1="383" x2="564.5" y2="383" stroke="#2e2e2e" stroke-width="1.3" />
<line x1="557.5" y1="385.5" x2="562.5" y2="380.5" stroke="#2e2e2e" stroke-width="1.3" />
<g transform="translate(560,282) rotate(-90)"><rect x="-17.52" y="-5.6" width="35.04" height="11.2" fill="#fdfdfd"/><text transform="scale(0.84,1)" font-size="14" text-anchor="middle" dominant-baseline="central" fill="#2a2a2a" stroke="#2a2a2a" stroke-width="0.3">3 170</text></g>
<line x1="579.3" y1="160" x2="579.3" y2="965" stroke="#2e2e2e" stroke-width="1.3" />
<line x1="574.8" y1="177" x2="583.8" y2="177" stroke="#2e2e2e" stroke-width="1.3" />
<line x1="576.8" y1="179.5" x2="581.8" y2="174.5" stroke="#2e2e2e" stroke-width="1.3" />
<line x1="574.8" y1="383" x2="583.8" y2="383" stroke="#2e2e2e" stroke-width="1.3" />
<line x1="576.8" y1="385.5" x2="581.8" y2="380.5" stroke="#2e2e2e" stroke-width="1.3" />
<line x1="574.8" y1="402" x2="583.8" y2="402" stroke="#2e2e2e" stroke-width="1.3" />
<line x1="576.8" y1="404.5" x2="581.8" y2="399.5" stroke="#2e2e2e" stroke-width="1.3" />
<line x1="574.8" y1="636" x2="583.8" y2="636" stroke="#2e2e2e" stroke-width="1.3" />
<line x1="576.8" y1="638.5" x2="581.8" y2="633.5" stroke="#2e2e2e" stroke-width="1.3" />
<line x1="574.8" y1="733" x2="583.8" y2="733" stroke="#2e2e2e" stroke-width="1.3" />
<line x1="576.8" y1="735.5" x2="581.8" y2="730.5" stroke="#2e2e2e" stroke-width="1.3" />
<line x1="574.8" y1="753" x2="583.8" y2="753" stroke="#2e2e2e" stroke-width="1.3" />
<line x1="576.8" y1="755.5" x2="581.8" y2="750.5" stroke="#2e2e2e" stroke-width="1.3" />
<line x1="574.8" y1="965" x2="583.8" y2="965" stroke="#2e2e2e" stroke-width="1.3" />
<line x1="576.8" y1="967.5" x2="581.8" y2="962.5" stroke="#2e2e2e" stroke-width="1.3" />
<line x1="579.3" y1="965" x2="579.3" y2="1003" stroke="#2e2e2e" stroke-width="1.3" />
<g transform="translate(579.3,983) rotate(-90)"><text transform="scale(0.84,1)" font-size="12" text-anchor="middle" dominant-baseline="central" fill="#2a2a2a" stroke="#2a2a2a" stroke-width="0.3">150</text></g>
<g transform="translate(579.3,282) rotate(-90)"><text transform="scale(0.84,1)" font-size="14" text-anchor="middle" dominant-baseline="central" fill="#2a2a2a" stroke="#2a2a2a" stroke-width="0.3">3 170</text></g>
<g transform="translate(579.3,520) rotate(-90)"><rect x="-17.52" y="-5.6" width="35.04" height="11.2" fill="#fdfdfd"/><text transform="scale(0.84,1)" font-size="14" text-anchor="middle" dominant-baseline="central" fill="#2a2a2a" stroke="#2a2a2a" stroke-width="0.3">3 610</text></g>
<g transform="translate(579.3,680) rotate(-90)"><rect x="-17.52" y="-5.6" width="35.04" height="11.2" fill="#fdfdfd"/><text transform="scale(0.84,1)" font-size="14" text-anchor="middle" dominant-baseline="central" fill="#2a2a2a" stroke="#2a2a2a" stroke-width="0.3">1 500</text></g>
<g transform="translate(579.3,857) rotate(-90)"><rect x="-17.52" y="-5.6" width="35.04" height="11.2" fill="#fdfdfd"/><text transform="scale(0.84,1)" font-size="14" text-anchor="middle" dominant-baseline="central" fill="#2a2a2a" stroke="#2a2a2a" stroke-width="0.3">3 270</text></g>
<line x1="290" y1="350.4" x2="592" y2="350.4" stroke="#2e2e2e" stroke-width="1.3" />
<line x1="303" y1="345.9" x2="303" y2="354.9" stroke="#2e2e2e" stroke-width="1.3" />
<line x1="300.5" y1="352.9" x2="305.5" y2="347.9" stroke="#2e2e2e" stroke-width="1.3" />
<line x1="572" y1="345.9" x2="572" y2="354.9" stroke="#2e2e2e" stroke-width="1.3" />
<line x1="569.5" y1="352.9" x2="574.5" y2="347.9" stroke="#2e2e2e" stroke-width="1.3" />
<line x1="592" y1="345.9" x2="592" y2="354.9" stroke="#2e2e2e" stroke-width="1.3" />
<line x1="589.5" y1="352.9" x2="594.5" y2="347.9" stroke="#2e2e2e" stroke-width="1.3" />
<g transform="translate(309,350.4)"><text transform="scale(0.84,1)" font-size="14" text-anchor="middle" dominant-baseline="central" fill="#2a2a2a" stroke="#2a2a2a" stroke-width="0.3">200</text></g>
<g transform="translate(438,350.4)"><rect x="-17.52" y="-5.6" width="35.04" height="11.2" fill="#fdfdfd"/><text transform="scale(0.84,1)" font-size="14" text-anchor="middle" dominant-baseline="central" fill="#2a2a2a" stroke="#2a2a2a" stroke-width="0.3">4 160</text></g>
<g transform="translate(583,350.4)"><text transform="scale(0.84,1)" font-size="14" text-anchor="middle" dominant-baseline="central" fill="#2a2a2a" stroke="#2a2a2a" stroke-width="0.3">300</text></g>
<line x1="303" y1="365.4" x2="853" y2="365.4" stroke="#2e2e2e" stroke-width="1.3" />
<line x1="316" y1="360.9" x2="316" y2="369.9" stroke="#2e2e2e" stroke-width="1.3" />
<line x1="313.5" y1="367.9" x2="318.5" y2="362.9" stroke="#2e2e2e" stroke-width="1.3" />
<line x1="368" y1="360.9" x2="368" y2="369.9" stroke="#2e2e2e" stroke-width="1.3" />
<line x1="365.5" y1="367.9" x2="370.5" y2="362.9" stroke="#2e2e2e" stroke-width="1.3" />
<line x1="572" y1="360.9" x2="572" y2="369.9" stroke="#2e2e2e" stroke-width="1.3" />
<line x1="569.5" y1="367.9" x2="574.5" y2="362.9" stroke="#2e2e2e" stroke-width="1.3" />
<line x1="592" y1="360.9" x2="592" y2="369.9" stroke="#2e2e2e" stroke-width="1.3" />
<line x1="589.5" y1="367.9" x2="594.5" y2="362.9" stroke="#2e2e2e" stroke-width="1.3" />
<line x1="638" y1="360.9" x2="638" y2="369.9" stroke="#2e2e2e" stroke-width="1.3" />
<line x1="635.5" y1="367.9" x2="640.5" y2="362.9" stroke="#2e2e2e" stroke-width="1.3" />
<line x1="765" y1="360.9" x2="765" y2="369.9" stroke="#2e2e2e" stroke-width="1.3" />
<line x1="762.5" y1="367.9" x2="767.5" y2="362.9" stroke="#2e2e2e" stroke-width="1.3" />
<line x1="817" y1="360.9" x2="817" y2="369.9" stroke="#2e2e2e" stroke-width="1.3" />
<line x1="814.5" y1="367.9" x2="819.5" y2="362.9" stroke="#2e2e2e" stroke-width="1.3" />
<line x1="853" y1="360.9" x2="853" y2="369.9" stroke="#2e2e2e" stroke-width="1.3" />
<line x1="850.5" y1="367.9" x2="855.5" y2="362.9" stroke="#2e2e2e" stroke-width="1.3" />
<g transform="translate(342,365.4)"><rect x="-11.31" y="-5.6" width="22.62" height="11.2" fill="#fdfdfd"/><text transform="scale(0.84,1)" font-size="14" text-anchor="middle" dominant-baseline="central" fill="#2a2a2a" stroke="#2a2a2a" stroke-width="0.3">800</text></g>
<g transform="translate(469.5,365.4)"><rect x="-17.52" y="-5.6" width="35.04" height="11.2" fill="#fdfdfd"/><text transform="scale(0.84,1)" font-size="14" text-anchor="middle" dominant-baseline="central" fill="#2a2a2a" stroke="#2a2a2a" stroke-width="0.3">3 160</text></g>
<g transform="translate(613,365.4)"><rect x="-11.31" y="-5.6" width="22.62" height="11.2" fill="#fdfdfd"/><text transform="scale(0.84,1)" font-size="14" text-anchor="middle" dominant-baseline="central" fill="#2a2a2a" stroke="#2a2a2a" stroke-width="0.3">705</text></g>
<g transform="translate(700.5,365.4)"><rect x="-17.52" y="-5.6" width="35.04" height="11.2" fill="#fdfdfd"/><text transform="scale(0.84,1)" font-size="14" text-anchor="middle" dominant-baseline="central" fill="#2a2a2a" stroke="#2a2a2a" stroke-width="0.3">1 960</text></g>
<g transform="translate(789.8,365.4)"><rect x="-11.31" y="-5.6" width="22.62" height="11.2" fill="#fdfdfd"/><text transform="scale(0.84,1)" font-size="14" text-anchor="middle" dominant-baseline="central" fill="#2a2a2a" stroke="#2a2a2a" stroke-width="0.3">805</text></g>
<g transform="translate(831.6,365.4)"><text transform="scale(0.84,1)" font-size="14" text-anchor="middle" dominant-baseline="central" fill="#2a2a2a" stroke="#2a2a2a" stroke-width="0.3">550</text></g>
<line x1="592" y1="382.4" x2="817" y2="382.4" stroke="#2e2e2e" stroke-width="1.3" />
<line x1="592" y1="377.9" x2="592" y2="386.9" stroke="#2e2e2e" stroke-width="1.3" />
<line x1="589.5" y1="384.9" x2="594.5" y2="379.9" stroke="#2e2e2e" stroke-width="1.3" />
<line x1="817" y1="377.9" x2="817" y2="386.9" stroke="#2e2e2e" stroke-width="1.3" />
<line x1="814.5" y1="384.9" x2="819.5" y2="379.9" stroke="#2e2e2e" stroke-width="1.3" />
<g transform="translate(704.3,382.4)"><rect x="-17.52" y="-5.6" width="35.04" height="11.2" fill="#fdfdfd"/><text transform="scale(0.84,1)" font-size="14" text-anchor="middle" dominant-baseline="central" fill="#2a2a2a" stroke="#2a2a2a" stroke-width="0.3">3 470</text></g>
<g transform="translate(304,394) rotate(-90)"><text transform="scale(0.84,1)" font-size="14" text-anchor="middle" dominant-baseline="central" fill="#2a2a2a" stroke="#2a2a2a" stroke-width="0.3">150</text></g>
<g transform="translate(365,394)"><rect x="-11.31" y="-5.6" width="22.62" height="11.2" fill="#fdfdfd"/><text transform="scale(0.84,1)" font-size="14" text-anchor="middle" dominant-baseline="central" fill="#2a2a2a" stroke="#2a2a2a" stroke-width="0.3">200</text></g>
<g transform="translate(401,394)"><rect x="-11.31" y="-5.6" width="22.62" height="11.2" fill="#fdfdfd"/><text transform="scale(0.84,1)" font-size="14" text-anchor="middle" dominant-baseline="central" fill="#2a2a2a" stroke="#2a2a2a" stroke-width="0.3">120</text></g>
<g transform="translate(509.6,384) rotate(-90)"><text transform="scale(0.84,1)" font-size="14" text-anchor="middle" dominant-baseline="central" fill="#2a2a2a" stroke="#2a2a2a" stroke-width="0.3">120</text></g>
<g transform="translate(563.6,391) rotate(-90)"><text transform="scale(0.84,1)" font-size="14" text-anchor="middle" dominant-baseline="central" fill="#2a2a2a" stroke="#2a2a2a" stroke-width="0.3">300</text></g>
<line x1="290" y1="410" x2="546" y2="410" stroke="#2e2e2e" stroke-width="1.3" />
<line x1="303" y1="405.5" x2="303" y2="414.5" stroke="#2e2e2e" stroke-width="1.3" />
<line x1="300.5" y1="412.5" x2="305.5" y2="407.5" stroke="#2e2e2e" stroke-width="1.3" />
<line x1="316" y1="405.5" x2="316" y2="414.5" stroke="#2e2e2e" stroke-width="1.3" />
<line x1="313.5" y1="412.5" x2="318.5" y2="407.5" stroke="#2e2e2e" stroke-width="1.3" />
<line x1="368" y1="405.5" x2="368" y2="414.5" stroke="#2e2e2e" stroke-width="1.3" />
<line x1="365.5" y1="412.5" x2="370.5" y2="407.5" stroke="#2e2e2e" stroke-width="1.3" />
<line x1="388" y1="405.5" x2="388" y2="414.5" stroke="#2e2e2e" stroke-width="1.3" />
<line x1="385.5" y1="412.5" x2="390.5" y2="407.5" stroke="#2e2e2e" stroke-width="1.3" />
<line x1="546" y1="405.5" x2="546" y2="414.5" stroke="#2e2e2e" stroke-width="1.3" />
<line x1="543.5" y1="412.5" x2="548.5" y2="407.5" stroke="#2e2e2e" stroke-width="1.3" />
<g transform="translate(342,410)"><rect x="-11.31" y="-5.6" width="22.62" height="11.2" fill="#fdfdfd"/><text transform="scale(0.84,1)" font-size="14" text-anchor="middle" dominant-baseline="central" fill="#2a2a2a" stroke="#2a2a2a" stroke-width="0.3">800</text></g>
<g transform="translate(468,410)"><rect x="-17.52" y="-5.6" width="35.04" height="11.2" fill="#fdfdfd"/><text transform="scale(0.84,1)" font-size="14" text-anchor="middle" dominant-baseline="central" fill="#2a2a2a" stroke="#2a2a2a" stroke-width="0.3">2 440</text></g>
<line x1="368.4" y1="391" x2="368.4" y2="637" stroke="#2e2e2e" stroke-width="1.3" />
<line x1="363.9" y1="391" x2="372.9" y2="391" stroke="#2e2e2e" stroke-width="1.3" />
<line x1="365.9" y1="393.5" x2="370.9" y2="388.5" stroke="#2e2e2e" stroke-width="1.3" />
<line x1="363.9" y1="427" x2="372.9" y2="427" stroke="#2e2e2e" stroke-width="1.3" />
<line x1="365.9" y1="429.5" x2="370.9" y2="424.5" stroke="#2e2e2e" stroke-width="1.3" />
<line x1="363.9" y1="479" x2="372.9" y2="479" stroke="#2e2e2e" stroke-width="1.3" />
<line x1="365.9" y1="481.5" x2="370.9" y2="476.5" stroke="#2e2e2e" stroke-width="1.3" />
<line x1="363.9" y1="637" x2="372.9" y2="637" stroke="#2e2e2e" stroke-width="1.3" />
<line x1="365.9" y1="639.5" x2="370.9" y2="634.5" stroke="#2e2e2e" stroke-width="1.3" />
<g transform="translate(368.4,404) rotate(-90)"><rect x="-11.31" y="-5.6" width="22.62" height="11.2" fill="#fdfdfd"/><text transform="scale(0.84,1)" font-size="14" text-anchor="middle" dominant-baseline="central" fill="#2a2a2a" stroke="#2a2a2a" stroke-width="0.3">550</text></g>
<g transform="translate(368.4,452) rotate(-90)"><rect x="-11.31" y="-5.6" width="22.62" height="11.2" fill="#fdfdfd"/><text transform="scale(0.84,1)" font-size="14" text-anchor="middle" dominant-baseline="central" fill="#2a2a2a" stroke="#2a2a2a" stroke-width="0.3">800</text></g>
<g transform="translate(368.4,560) rotate(-90)"><rect x="-17.52" y="-5.6" width="35.04" height="11.2" fill="#fdfdfd"/><text transform="scale(0.84,1)" font-size="14" text-anchor="middle" dominant-baseline="central" fill="#2a2a2a" stroke="#2a2a2a" stroke-width="0.3">2 440</text></g>
<line x1="398" y1="391" x2="398" y2="629" stroke="#2e2e2e" stroke-width="1.3" />
<line x1="393.5" y1="391" x2="402.5" y2="391" stroke="#2e2e2e" stroke-width="1.3" />
<line x1="395.5" y1="393.5" x2="400.5" y2="388.5" stroke="#2e2e2e" stroke-width="1.3" />
<line x1="393.5" y1="427" x2="402.5" y2="427" stroke="#2e2e2e" stroke-width="1.3" />
<line x1="395.5" y1="429.5" x2="400.5" y2="424.5" stroke="#2e2e2e" stroke-width="1.3" />
<line x1="393.5" y1="479" x2="402.5" y2="479" stroke="#2e2e2e" stroke-width="1.3" />
<line x1="395.5" y1="481.5" x2="400.5" y2="476.5" stroke="#2e2e2e" stroke-width="1.3" />
<line x1="393.5" y1="514" x2="402.5" y2="514" stroke="#2e2e2e" stroke-width="1.3" />
<line x1="395.5" y1="516.5" x2="400.5" y2="511.5" stroke="#2e2e2e" stroke-width="1.3" />
<line x1="393.5" y1="522" x2="402.5" y2="522" stroke="#2e2e2e" stroke-width="1.3" />
<line x1="395.5" y1="524.5" x2="400.5" y2="519.5" stroke="#2e2e2e" stroke-width="1.3" />
<line x1="393.5" y1="629" x2="402.5" y2="629" stroke="#2e2e2e" stroke-width="1.3" />
<line x1="395.5" y1="631.5" x2="400.5" y2="626.5" stroke="#2e2e2e" stroke-width="1.3" />
<g transform="translate(398,404) rotate(-90)"><rect x="-11.31" y="-5.6" width="22.62" height="11.2" fill="#fdfdfd"/><text transform="scale(0.84,1)" font-size="14" text-anchor="middle" dominant-baseline="central" fill="#2a2a2a" stroke="#2a2a2a" stroke-width="0.3">550</text></g>
<g transform="translate(398,453) rotate(-90)"><rect x="-11.31" y="-5.6" width="22.62" height="11.2" fill="#fdfdfd"/><text transform="scale(0.84,1)" font-size="14" text-anchor="middle" dominant-baseline="central" fill="#2a2a2a" stroke="#2a2a2a" stroke-width="0.3">800</text></g>
<g transform="translate(398,496) rotate(-90)"><rect x="-11.31" y="-5.6" width="22.62" height="11.2" fill="#fdfdfd"/><text transform="scale(0.84,1)" font-size="14" text-anchor="middle" dominant-baseline="central" fill="#2a2a2a" stroke="#2a2a2a" stroke-width="0.3">550</text></g>
<g transform="translate(398,579) rotate(-90)"><rect x="-17.52" y="-5.6" width="35.04" height="11.2" fill="#fdfdfd"/><text transform="scale(0.84,1)" font-size="14" text-anchor="middle" dominant-baseline="central" fill="#2a2a2a" stroke="#2a2a2a" stroke-width="0.3">1 650</text></g>
<g transform="translate(382,516) rotate(-90)"><text transform="scale(0.84,1)" font-size="14" text-anchor="middle" dominant-baseline="central" fill="#2a2a2a" stroke="#2a2a2a" stroke-width="0.3">120</text></g>
<line x1="537" y1="391" x2="537" y2="514" stroke="#2e2e2e" stroke-width="1.3" />
<line x1="532.5" y1="391" x2="541.5" y2="391" stroke="#2e2e2e" stroke-width="1.3" />
<line x1="534.5" y1="393.5" x2="539.5" y2="388.5" stroke="#2e2e2e" stroke-width="1.3" />
<line x1="532.5" y1="514" x2="541.5" y2="514" stroke="#2e2e2e" stroke-width="1.3" />
<line x1="534.5" y1="516.5" x2="539.5" y2="511.5" stroke="#2e2e2e" stroke-width="1.3" />
<g transform="translate(537,462) rotate(-90)"><rect x="-17.52" y="-5.6" width="35.04" height="11.2" fill="#fdfdfd"/><text transform="scale(0.84,1)" font-size="14" text-anchor="middle" dominant-baseline="central" fill="#2a2a2a" stroke="#2a2a2a" stroke-width="0.3">1 900</text></g>
<line x1="536" y1="522" x2="536" y2="629" stroke="#2e2e2e" stroke-width="1.3" />
<line x1="531.5" y1="522" x2="540.5" y2="522" stroke="#2e2e2e" stroke-width="1.3" />
<line x1="533.5" y1="524.5" x2="538.5" y2="519.5" stroke="#2e2e2e" stroke-width="1.3" />
<line x1="531.5" y1="629" x2="540.5" y2="629" stroke="#2e2e2e" stroke-width="1.3" />
<line x1="533.5" y1="631.5" x2="538.5" y2="626.5" stroke="#2e2e2e" stroke-width="1.3" />
<g transform="translate(536,579) rotate(-90)"><rect x="-17.52" y="-5.6" width="35.04" height="11.2" fill="#fdfdfd"/><text transform="scale(0.84,1)" font-size="14" text-anchor="middle" dominant-baseline="central" fill="#2a2a2a" stroke="#2a2a2a" stroke-width="0.3">1 650</text></g>
<line x1="388" y1="533.4" x2="546" y2="533.4" stroke="#2e2e2e" stroke-width="1.3" />
<line x1="388" y1="528.9" x2="388" y2="537.9" stroke="#2e2e2e" stroke-width="1.3" />
<line x1="385.5" y1="535.9" x2="390.5" y2="530.9" stroke="#2e2e2e" stroke-width="1.3" />
<line x1="546" y1="528.9" x2="546" y2="537.9" stroke="#2e2e2e" stroke-width="1.3" />
<line x1="543.5" y1="535.9" x2="548.5" y2="530.9" stroke="#2e2e2e" stroke-width="1.3" />
<g transform="translate(468,533.4)"><rect x="-17.52" y="-5.6" width="35.04" height="11.2" fill="#fdfdfd"/><text transform="scale(0.84,1)" font-size="14" text-anchor="middle" dominant-baseline="central" fill="#2a2a2a" stroke="#2a2a2a" stroke-width="0.3">2 440</text></g>
<line x1="388" y1="618" x2="546" y2="618" stroke="#2e2e2e" stroke-width="1.3" />
<line x1="391" y1="613.5" x2="391" y2="622.5" stroke="#2e2e2e" stroke-width="1.3" />
<line x1="388.5" y1="620.5" x2="393.5" y2="615.5" stroke="#2e2e2e" stroke-width="1.3" />
<line x1="423" y1="613.5" x2="423" y2="622.5" stroke="#2e2e2e" stroke-width="1.3" />
<line x1="420.5" y1="620.5" x2="425.5" y2="615.5" stroke="#2e2e2e" stroke-width="1.3" />
<line x1="474.7" y1="613.5" x2="474.7" y2="622.5" stroke="#2e2e2e" stroke-width="1.3" />
<line x1="472.2" y1="620.5" x2="477.2" y2="615.5" stroke="#2e2e2e" stroke-width="1.3" />
<line x1="546" y1="613.5" x2="546" y2="622.5" stroke="#2e2e2e" stroke-width="1.3" />
<line x1="543.5" y1="620.5" x2="548.5" y2="615.5" stroke="#2e2e2e" stroke-width="1.3" />
<g transform="translate(403,618)"><rect x="-11.31" y="-5.6" width="22.62" height="11.2" fill="#fdfdfd"/><text transform="scale(0.84,1)" font-size="14" text-anchor="middle" dominant-baseline="central" fill="#2a2a2a" stroke="#2a2a2a" stroke-width="0.3">540</text></g>
<g transform="translate(450,618)"><rect x="-11.31" y="-5.6" width="22.62" height="11.2" fill="#fdfdfd"/><text transform="scale(0.84,1)" font-size="14" text-anchor="middle" dominant-baseline="central" fill="#2a2a2a" stroke="#2a2a2a" stroke-width="0.3">800</text></g>
<g transform="translate(509.6,618)"><rect x="-17.52" y="-5.6" width="35.04" height="11.2" fill="#fdfdfd"/><text transform="scale(0.84,1)" font-size="14" text-anchor="middle" dominant-baseline="central" fill="#2a2a2a" stroke="#2a2a2a" stroke-width="0.3">1 100</text></g>
<line x1="303" y1="627.5" x2="380" y2="627.5" stroke="#2e2e2e" stroke-width="1.3" />
<line x1="303" y1="623" x2="303" y2="632" stroke="#2e2e2e" stroke-width="1.3" />
<line x1="300.5" y1="630" x2="305.5" y2="625" stroke="#2e2e2e" stroke-width="1.3" />
<line x1="381" y1="623" x2="381" y2="632" stroke="#2e2e2e" stroke-width="1.3" />
<line x1="378.5" y1="630" x2="383.5" y2="625" stroke="#2e2e2e" stroke-width="1.3" />
<g transform="translate(342,627.5)"><rect x="-17.52" y="-5.6" width="35.04" height="11.2" fill="#fdfdfd"/><text transform="scale(0.84,1)" font-size="14" text-anchor="middle" dominant-baseline="central" fill="#2a2a2a" stroke="#2a2a2a" stroke-width="0.3">1 200</text></g>
<line x1="380" y1="651.6" x2="566" y2="651.6" stroke="#2e2e2e" stroke-width="1.3" />
<line x1="380" y1="647.1" x2="380" y2="656.1" stroke="#2e2e2e" stroke-width="1.3" />
<line x1="377.5" y1="654.1" x2="382.5" y2="649.1" stroke="#2e2e2e" stroke-width="1.3" />
<line x1="424" y1="647.1" x2="424" y2="656.1" stroke="#2e2e2e" stroke-width="1.3" />
<line x1="421.5" y1="654.1" x2="426.5" y2="649.1" stroke="#2e2e2e" stroke-width="1.3" />
<line x1="474" y1="647.1" x2="474" y2="656.1" stroke="#2e2e2e" stroke-width="1.3" />
<line x1="471.5" y1="654.1" x2="476.5" y2="649.1" stroke="#2e2e2e" stroke-width="1.3" />
<line x1="566" y1="647.1" x2="566" y2="656.1" stroke="#2e2e2e" stroke-width="1.3" />
<line x1="563.5" y1="654.1" x2="568.5" y2="649.1" stroke="#2e2e2e" stroke-width="1.3" />
<g transform="translate(401.5,651.6)"><rect x="-11.31" y="-5.6" width="22.62" height="11.2" fill="#fdfdfd"/><text transform="scale(0.84,1)" font-size="14" text-anchor="middle" dominant-baseline="central" fill="#2a2a2a" stroke="#2a2a2a" stroke-width="0.3">660</text></g>
<g transform="translate(449,651.6)"><rect x="-11.31" y="-5.6" width="22.62" height="11.2" fill="#fdfdfd"/><text transform="scale(0.84,1)" font-size="14" text-anchor="middle" dominant-baseline="central" fill="#2a2a2a" stroke="#2a2a2a" stroke-width="0.3">800</text></g>
<g transform="translate(518,651.6)"><rect x="-17.52" y="-5.6" width="35.04" height="11.2" fill="#fdfdfd"/><text transform="scale(0.84,1)" font-size="14" text-anchor="middle" dominant-baseline="central" fill="#2a2a2a" stroke="#2a2a2a" stroke-width="0.3">1 400</text></g>
<line x1="303" y1="701.5" x2="644" y2="701.5" stroke="#2e2e2e" stroke-width="1.3" />
<line x1="303" y1="697" x2="303" y2="706" stroke="#2e2e2e" stroke-width="1.3" />
<line x1="300.5" y1="704" x2="305.5" y2="699" stroke="#2e2e2e" stroke-width="1.3" />
<line x1="644" y1="697" x2="644" y2="706" stroke="#2e2e2e" stroke-width="1.3" />
<line x1="641.5" y1="704" x2="646.5" y2="699" stroke="#2e2e2e" stroke-width="1.3" />
<g transform="translate(473,701.5)"><rect x="-17.52" y="-5.6" width="35.04" height="11.2" fill="#fdfdfd"/><text transform="scale(0.84,1)" font-size="14" text-anchor="middle" dominant-baseline="central" fill="#2a2a2a" stroke="#2a2a2a" stroke-width="0.3">5 260</text></g>
<line x1="644" y1="699" x2="644" y2="720" stroke="#2e2e2e" stroke-width="1.3" />
<line x1="303" y1="717.8" x2="817" y2="717.8" stroke="#2e2e2e" stroke-width="1.3" />
<line x1="303" y1="713.3" x2="303" y2="722.3" stroke="#2e2e2e" stroke-width="1.3" />
<line x1="300.5" y1="720.3" x2="305.5" y2="715.3" stroke="#2e2e2e" stroke-width="1.3" />
<line x1="355.6" y1="713.3" x2="355.6" y2="722.3" stroke="#2e2e2e" stroke-width="1.3" />
<line x1="353.1" y1="720.3" x2="358.1" y2="715.3" stroke="#2e2e2e" stroke-width="1.3" />
<line x1="419.5" y1="713.3" x2="419.5" y2="722.3" stroke="#2e2e2e" stroke-width="1.3" />
<line x1="417" y1="720.3" x2="422" y2="715.3" stroke="#2e2e2e" stroke-width="1.3" />
<line x1="508" y1="713.3" x2="508" y2="722.3" stroke="#2e2e2e" stroke-width="1.3" />
<line x1="505.5" y1="720.3" x2="510.5" y2="715.3" stroke="#2e2e2e" stroke-width="1.3" />
<line x1="560" y1="713.3" x2="560" y2="722.3" stroke="#2e2e2e" stroke-width="1.3" />
<line x1="557.5" y1="720.3" x2="562.5" y2="715.3" stroke="#2e2e2e" stroke-width="1.3" />
<line x1="644" y1="713.3" x2="644" y2="722.3" stroke="#2e2e2e" stroke-width="1.3" />
<line x1="641.5" y1="720.3" x2="646.5" y2="715.3" stroke="#2e2e2e" stroke-width="1.3" />
<line x1="817" y1="713.3" x2="817" y2="722.3" stroke="#2e2e2e" stroke-width="1.3" />
<line x1="814.5" y1="720.3" x2="819.5" y2="715.3" stroke="#2e2e2e" stroke-width="1.3" />
<g transform="translate(328,717.8)"><rect x="-11.31" y="-5.6" width="22.62" height="11.2" fill="#fdfdfd"/><text transform="scale(0.84,1)" font-size="14" text-anchor="middle" dominant-baseline="central" fill="#2a2a2a" stroke="#2a2a2a" stroke-width="0.3">810</text></g>
<g transform="translate(388,717.8)"><rect x="-11.31" y="-5.6" width="22.62" height="11.2" fill="#fdfdfd"/><text transform="scale(0.84,1)" font-size="14" text-anchor="middle" dominant-baseline="central" fill="#2a2a2a" stroke="#2a2a2a" stroke-width="0.3">985</text></g>
<g transform="translate(464,717.8)"><rect x="-17.52" y="-5.6" width="35.04" height="11.2" fill="#fdfdfd"/><text transform="scale(0.84,1)" font-size="14" text-anchor="middle" dominant-baseline="central" fill="#2a2a2a" stroke="#2a2a2a" stroke-width="0.3">1 365</text></g>
<g transform="translate(534,717.8)"><rect x="-11.31" y="-5.6" width="22.62" height="11.2" fill="#fdfdfd"/><text transform="scale(0.84,1)" font-size="14" text-anchor="middle" dominant-baseline="central" fill="#2a2a2a" stroke="#2a2a2a" stroke-width="0.3">800</text></g>
<g transform="translate(602,717.8)"><rect x="-17.52" y="-5.6" width="35.04" height="11.2" fill="#fdfdfd"/><text transform="scale(0.84,1)" font-size="14" text-anchor="middle" dominant-baseline="central" fill="#2a2a2a" stroke="#2a2a2a" stroke-width="0.3">1 300</text></g>
<g transform="translate(731,717.8)"><rect x="-17.52" y="-5.6" width="35.04" height="11.2" fill="#fdfdfd"/><text transform="scale(0.84,1)" font-size="14" text-anchor="middle" dominant-baseline="central" fill="#2a2a2a" stroke="#2a2a2a" stroke-width="0.3">2 670</text></g>
<g transform="translate(304,721) rotate(-90)"><rect x="-11.31" y="-5.6" width="22.62" height="11.2" fill="#fdfdfd"/><text transform="scale(0.84,1)" font-size="14" text-anchor="middle" dominant-baseline="central" fill="#2a2a2a" stroke="#2a2a2a" stroke-width="0.3">350</text></g>
<line x1="80" y1="595" x2="283" y2="595" stroke="#2e2e2e" stroke-width="1.3" />
<line x1="80" y1="590.5" x2="80" y2="599.5" stroke="#2e2e2e" stroke-width="1.3" />
<line x1="77.5" y1="597.5" x2="82.5" y2="592.5" stroke="#2e2e2e" stroke-width="1.3" />
<line x1="192.5" y1="590.5" x2="192.5" y2="599.5" stroke="#2e2e2e" stroke-width="1.3" />
<line x1="190" y1="597.5" x2="195" y2="592.5" stroke="#2e2e2e" stroke-width="1.3" />
<line x1="199.4" y1="590.5" x2="199.4" y2="599.5" stroke="#2e2e2e" stroke-width="1.3" />
<line x1="196.9" y1="597.5" x2="201.9" y2="592.5" stroke="#2e2e2e" stroke-width="1.3" />
<line x1="283" y1="590.5" x2="283" y2="599.5" stroke="#2e2e2e" stroke-width="1.3" />
<line x1="280.5" y1="597.5" x2="285.5" y2="592.5" stroke="#2e2e2e" stroke-width="1.3" />
<g transform="translate(135,595)"><rect x="-17.52" y="-5.6" width="35.04" height="11.2" fill="#fdfdfd"/><text transform="scale(0.84,1)" font-size="14" text-anchor="middle" dominant-baseline="central" fill="#2a2a2a" stroke="#2a2a2a" stroke-width="0.3">1 720</text></g>
<g transform="translate(241,595)"><rect x="-17.52" y="-5.6" width="35.04" height="11.2" fill="#fdfdfd"/><text transform="scale(0.84,1)" font-size="14" text-anchor="middle" dominant-baseline="central" fill="#2a2a2a" stroke="#2a2a2a" stroke-width="0.3">1 300</text></g>
<g transform="translate(86,606)"><rect x="-8.04" y="-5.6" width="16.08" height="11.2" fill="#fdfdfd"/><text transform="scale(0.84,1)" font-size="14" text-anchor="middle" dominant-baseline="central" fill="#2a2a2a" stroke="#2a2a2a" stroke-width="0.3">56</text></g>
<g transform="translate(185.5,606)"><rect x="-11.31" y="-5.6" width="22.62" height="11.2" fill="#fdfdfd"/><text transform="scale(0.84,1)" font-size="14" text-anchor="middle" dominant-baseline="central" fill="#2a2a2a" stroke="#2a2a2a" stroke-width="0.3">120</text></g>
<g transform="translate(213,606)"><rect x="-11.31" y="-5.6" width="22.62" height="11.2" fill="#fdfdfd"/><text transform="scale(0.84,1)" font-size="14" text-anchor="middle" dominant-baseline="central" fill="#2a2a2a" stroke="#2a2a2a" stroke-width="0.3">120</text></g>
<g transform="translate(271,606)"><rect x="-11.31" y="-5.6" width="22.62" height="11.2" fill="#fdfdfd"/><text transform="scale(0.84,1)" font-size="14" text-anchor="middle" dominant-baseline="central" fill="#2a2a2a" stroke="#2a2a2a" stroke-width="0.3">380</text></g>
<line x1="80" y1="621.8" x2="283" y2="621.8" stroke="#2e2e2e" stroke-width="1.3" />
<line x1="80" y1="617.3" x2="80" y2="626.3" stroke="#2e2e2e" stroke-width="1.3" />
<line x1="77.5" y1="624.3" x2="82.5" y2="619.3" stroke="#2e2e2e" stroke-width="1.3" />
<line x1="91" y1="617.3" x2="91" y2="626.3" stroke="#2e2e2e" stroke-width="1.3" />
<line x1="88.5" y1="624.3" x2="93.5" y2="619.3" stroke="#2e2e2e" stroke-width="1.3" />
<line x1="140" y1="617.3" x2="140" y2="626.3" stroke="#2e2e2e" stroke-width="1.3" />
<line x1="137.5" y1="624.3" x2="142.5" y2="619.3" stroke="#2e2e2e" stroke-width="1.3" />
<line x1="192" y1="617.3" x2="192" y2="626.3" stroke="#2e2e2e" stroke-width="1.3" />
<line x1="189.5" y1="624.3" x2="194.5" y2="619.3" stroke="#2e2e2e" stroke-width="1.3" />
<line x1="207" y1="617.3" x2="207" y2="626.3" stroke="#2e2e2e" stroke-width="1.3" />
<line x1="204.5" y1="624.3" x2="209.5" y2="619.3" stroke="#2e2e2e" stroke-width="1.3" />
<line x1="257" y1="617.3" x2="257" y2="626.3" stroke="#2e2e2e" stroke-width="1.3" />
<line x1="254.5" y1="624.3" x2="259.5" y2="619.3" stroke="#2e2e2e" stroke-width="1.3" />
<line x1="283" y1="617.3" x2="283" y2="626.3" stroke="#2e2e2e" stroke-width="1.3" />
<line x1="280.5" y1="624.3" x2="285.5" y2="619.3" stroke="#2e2e2e" stroke-width="1.3" />
<g transform="translate(115.8,621.8)"><rect x="-11.31" y="-5.6" width="22.62" height="11.2" fill="#fdfdfd"/><text transform="scale(0.84,1)" font-size="14" text-anchor="middle" dominant-baseline="central" fill="#2a2a2a" stroke="#2a2a2a" stroke-width="0.3">800</text></g>
<g transform="translate(166,621.8)"><rect x="-11.31" y="-5.6" width="22.62" height="11.2" fill="#fdfdfd"/><text transform="scale(0.84,1)" font-size="14" text-anchor="middle" dominant-baseline="central" fill="#2a2a2a" stroke="#2a2a2a" stroke-width="0.3">770</text></g>
<g transform="translate(232.5,621.8)"><rect x="-11.31" y="-5.6" width="22.62" height="11.2" fill="#fdfdfd"/><text transform="scale(0.84,1)" font-size="14" text-anchor="middle" dominant-baseline="central" fill="#2a2a2a" stroke="#2a2a2a" stroke-width="0.3">800</text></g>
<line x1="80" y1="662" x2="283" y2="662" stroke="#2e2e2e" stroke-width="1.3" />
<line x1="80" y1="657.5" x2="80" y2="666.5" stroke="#2e2e2e" stroke-width="1.3" />
<line x1="77.5" y1="664.5" x2="82.5" y2="659.5" stroke="#2e2e2e" stroke-width="1.3" />
<line x1="91" y1="657.5" x2="91" y2="666.5" stroke="#2e2e2e" stroke-width="1.3" />
<line x1="88.5" y1="664.5" x2="93.5" y2="659.5" stroke="#2e2e2e" stroke-width="1.3" />
<line x1="140" y1="657.5" x2="140" y2="666.5" stroke="#2e2e2e" stroke-width="1.3" />
<line x1="137.5" y1="664.5" x2="142.5" y2="659.5" stroke="#2e2e2e" stroke-width="1.3" />
<line x1="207" y1="657.5" x2="207" y2="666.5" stroke="#2e2e2e" stroke-width="1.3" />
<line x1="204.5" y1="664.5" x2="209.5" y2="659.5" stroke="#2e2e2e" stroke-width="1.3" />
<line x1="257" y1="657.5" x2="257" y2="666.5" stroke="#2e2e2e" stroke-width="1.3" />
<line x1="254.5" y1="664.5" x2="259.5" y2="659.5" stroke="#2e2e2e" stroke-width="1.3" />
<line x1="283" y1="657.5" x2="283" y2="666.5" stroke="#2e2e2e" stroke-width="1.3" />
<line x1="280.5" y1="664.5" x2="285.5" y2="659.5" stroke="#2e2e2e" stroke-width="1.3" />
<g transform="translate(115.8,662)"><rect x="-11.31" y="-5.6" width="22.62" height="11.2" fill="#fdfdfd"/><text transform="scale(0.84,1)" font-size="14" text-anchor="middle" dominant-baseline="central" fill="#2a2a2a" stroke="#2a2a2a" stroke-width="0.3">800</text></g>
<g transform="translate(173,662)"><rect x="-17.52" y="-5.6" width="35.04" height="11.2" fill="#fdfdfd"/><text transform="scale(0.84,1)" font-size="14" text-anchor="middle" dominant-baseline="central" fill="#2a2a2a" stroke="#2a2a2a" stroke-width="0.3">1 010</text></g>
<g transform="translate(232.5,662)"><rect x="-11.31" y="-5.6" width="22.62" height="11.2" fill="#fdfdfd"/><text transform="scale(0.84,1)" font-size="14" text-anchor="middle" dominant-baseline="central" fill="#2a2a2a" stroke="#2a2a2a" stroke-width="0.3">800</text></g>
<g transform="translate(86,646)"><rect x="-11.31" y="-5.6" width="22.62" height="11.2" fill="#fdfdfd"/><text transform="scale(0.84,1)" font-size="14" text-anchor="middle" dominant-baseline="central" fill="#2a2a2a" stroke="#2a2a2a" stroke-width="0.3">150</text></g>
<g transform="translate(255,648) rotate(-90)"><rect x="-11.31" y="-5.6" width="22.62" height="11.2" fill="#fdfdfd"/><text transform="scale(0.84,1)" font-size="14" text-anchor="middle" dominant-baseline="central" fill="#2a2a2a" stroke="#2a2a2a" stroke-width="0.3">350</text></g>
<g transform="translate(270,646)"><rect x="-11.31" y="-5.6" width="22.62" height="11.2" fill="#fdfdfd"/><text transform="scale(0.84,1)" font-size="14" text-anchor="middle" dominant-baseline="central" fill="#2a2a2a" stroke="#2a2a2a" stroke-width="0.3">380</text></g>
<g transform="translate(297.5,646)"><text transform="scale(0.84,1)" font-size="14" text-anchor="middle" dominant-baseline="central" fill="#2a2a2a" stroke="#2a2a2a" stroke-width="0.3">300</text></g>
<line x1="271" y1="636" x2="271" y2="889" stroke="#2e2e2e" stroke-width="1.3" />
<line x1="266.5" y1="659" x2="275.5" y2="659" stroke="#2e2e2e" stroke-width="1.3" />
<line x1="268.5" y1="661.5" x2="273.5" y2="656.5" stroke="#2e2e2e" stroke-width="1.3" />
<line x1="266.5" y1="711" x2="275.5" y2="711" stroke="#2e2e2e" stroke-width="1.3" />
<line x1="268.5" y1="713.5" x2="273.5" y2="708.5" stroke="#2e2e2e" stroke-width="1.3" />
<line x1="266.5" y1="889" x2="275.5" y2="889" stroke="#2e2e2e" stroke-width="1.3" />
<line x1="268.5" y1="891.5" x2="273.5" y2="886.5" stroke="#2e2e2e" stroke-width="1.3" />
<g transform="translate(271,684.6) rotate(-90)"><rect x="-11.31" y="-5.6" width="22.62" height="11.2" fill="#fdfdfd"/><text transform="scale(0.84,1)" font-size="14" text-anchor="middle" dominant-baseline="central" fill="#2a2a2a" stroke="#2a2a2a" stroke-width="0.3">800</text></g>
<g transform="translate(271,800) rotate(-90)"><rect x="-17.52" y="-5.6" width="35.04" height="11.2" fill="#fdfdfd"/><text transform="scale(0.84,1)" font-size="14" text-anchor="middle" dominant-baseline="central" fill="#2a2a2a" stroke="#2a2a2a" stroke-width="0.3">2 750</text></g>
<line x1="80" y1="857" x2="283" y2="857" stroke="#2e2e2e" stroke-width="1.3" />
<line x1="80" y1="852.5" x2="80" y2="861.5" stroke="#2e2e2e" stroke-width="1.3" />
<line x1="77.5" y1="859.5" x2="82.5" y2="854.5" stroke="#2e2e2e" stroke-width="1.3" />
<line x1="283" y1="852.5" x2="283" y2="861.5" stroke="#2e2e2e" stroke-width="1.3" />
<line x1="280.5" y1="859.5" x2="285.5" y2="854.5" stroke="#2e2e2e" stroke-width="1.3" />
<g transform="translate(182,857)"><rect x="-17.52" y="-5.6" width="35.04" height="11.2" fill="#fdfdfd"/><text transform="scale(0.84,1)" font-size="14" text-anchor="middle" dominant-baseline="central" fill="#2a2a2a" stroke="#2a2a2a" stroke-width="0.3">3 140</text></g>
<g transform="translate(292,857)"><text transform="scale(0.84,1)" font-size="14" text-anchor="middle" dominant-baseline="central" fill="#2a2a2a" stroke="#2a2a2a" stroke-width="0.3">300</text></g>
<line x1="42" y1="873" x2="501" y2="873" stroke="#2e2e2e" stroke-width="1.3" />
<line x1="44" y1="868.5" x2="44" y2="877.5" stroke="#2e2e2e" stroke-width="1.3" />
<line x1="41.5" y1="875.5" x2="46.5" y2="870.5" stroke="#2e2e2e" stroke-width="1.3" />
<line x1="80" y1="868.5" x2="80" y2="877.5" stroke="#2e2e2e" stroke-width="1.3" />
<line x1="77.5" y1="875.5" x2="82.5" y2="870.5" stroke="#2e2e2e" stroke-width="1.3" />
<line x1="124" y1="868.5" x2="124" y2="877.5" stroke="#2e2e2e" stroke-width="1.3" />
<line x1="121.5" y1="875.5" x2="126.5" y2="870.5" stroke="#2e2e2e" stroke-width="1.3" />
<line x1="251" y1="868.5" x2="251" y2="877.5" stroke="#2e2e2e" stroke-width="1.3" />
<line x1="248.5" y1="875.5" x2="253.5" y2="870.5" stroke="#2e2e2e" stroke-width="1.3" />
<line x1="283" y1="868.5" x2="283" y2="877.5" stroke="#2e2e2e" stroke-width="1.3" />
<line x1="280.5" y1="875.5" x2="285.5" y2="870.5" stroke="#2e2e2e" stroke-width="1.3" />
<line x1="302" y1="868.5" x2="302" y2="877.5" stroke="#2e2e2e" stroke-width="1.3" />
<line x1="299.5" y1="875.5" x2="304.5" y2="870.5" stroke="#2e2e2e" stroke-width="1.3" />
<line x1="355" y1="868.5" x2="355" y2="877.5" stroke="#2e2e2e" stroke-width="1.3" />
<line x1="352.5" y1="875.5" x2="357.5" y2="870.5" stroke="#2e2e2e" stroke-width="1.3" />
<line x1="422" y1="868.5" x2="422" y2="877.5" stroke="#2e2e2e" stroke-width="1.3" />
<line x1="419.5" y1="875.5" x2="424.5" y2="870.5" stroke="#2e2e2e" stroke-width="1.3" />
<line x1="455" y1="868.5" x2="455" y2="877.5" stroke="#2e2e2e" stroke-width="1.3" />
<line x1="452.5" y1="875.5" x2="457.5" y2="870.5" stroke="#2e2e2e" stroke-width="1.3" />
<line x1="462" y1="868.5" x2="462" y2="877.5" stroke="#2e2e2e" stroke-width="1.3" />
<line x1="459.5" y1="875.5" x2="464.5" y2="870.5" stroke="#2e2e2e" stroke-width="1.3" />
<line x1="501" y1="868.5" x2="501" y2="877.5" stroke="#2e2e2e" stroke-width="1.3" />
<line x1="498.5" y1="875.5" x2="503.5" y2="870.5" stroke="#2e2e2e" stroke-width="1.3" />
<g transform="translate(62,873)"><text transform="scale(0.84,1)" font-size="14" text-anchor="middle" dominant-baseline="central" fill="#2a2a2a" stroke="#2a2a2a" stroke-width="0.3">560</text></g>
<g transform="translate(102,873)"><rect x="-11.31" y="-5.6" width="22.62" height="11.2" fill="#fdfdfd"/><text transform="scale(0.84,1)" font-size="14" text-anchor="middle" dominant-baseline="central" fill="#2a2a2a" stroke="#2a2a2a" stroke-width="0.3">675</text></g>
<g transform="translate(187,873)"><rect x="-17.52" y="-5.6" width="35.04" height="11.2" fill="#fdfdfd"/><text transform="scale(0.84,1)" font-size="14" text-anchor="middle" dominant-baseline="central" fill="#2a2a2a" stroke="#2a2a2a" stroke-width="0.3">1 960</text></g>
<g transform="translate(265.6,873)"><rect x="-11.31" y="-5.6" width="22.62" height="11.2" fill="#fdfdfd"/><text transform="scale(0.84,1)" font-size="14" text-anchor="middle" dominant-baseline="central" fill="#2a2a2a" stroke="#2a2a2a" stroke-width="0.3">505</text></g>
<g transform="translate(328.4,873)"><rect x="-11.31" y="-5.6" width="22.62" height="11.2" fill="#fdfdfd"/><text transform="scale(0.84,1)" font-size="14" text-anchor="middle" dominant-baseline="central" fill="#2a2a2a" stroke="#2a2a2a" stroke-width="0.3">800</text></g>
<g transform="translate(389.3,873)"><rect x="-17.52" y="-5.6" width="35.04" height="11.2" fill="#fdfdfd"/><text transform="scale(0.84,1)" font-size="14" text-anchor="middle" dominant-baseline="central" fill="#2a2a2a" stroke="#2a2a2a" stroke-width="0.3">1 050</text></g>
<g transform="translate(438,873)"><rect x="-11.31" y="-5.6" width="22.62" height="11.2" fill="#fdfdfd"/><text transform="scale(0.84,1)" font-size="14" text-anchor="middle" dominant-baseline="central" fill="#2a2a2a" stroke="#2a2a2a" stroke-width="0.3">490</text></g>
<g transform="translate(481.7,873)"><rect x="-11.31" y="-5.6" width="22.62" height="11.2" fill="#fdfdfd"/><text transform="scale(0.84,1)" font-size="14" text-anchor="middle" dominant-baseline="central" fill="#2a2a2a" stroke="#2a2a2a" stroke-width="0.3">600</text></g>
<line x1="302" y1="766" x2="455" y2="766" stroke="#2e2e2e" stroke-width="1.3" />
<line x1="302" y1="761.5" x2="302" y2="770.5" stroke="#2e2e2e" stroke-width="1.3" />
<line x1="299.5" y1="768.5" x2="304.5" y2="763.5" stroke="#2e2e2e" stroke-width="1.3" />
<line x1="355" y1="761.5" x2="355" y2="770.5" stroke="#2e2e2e" stroke-width="1.3" />
<line x1="352.5" y1="768.5" x2="357.5" y2="763.5" stroke="#2e2e2e" stroke-width="1.3" />
<line x1="419" y1="761.5" x2="419" y2="770.5" stroke="#2e2e2e" stroke-width="1.3" />
<line x1="416.5" y1="768.5" x2="421.5" y2="763.5" stroke="#2e2e2e" stroke-width="1.3" />
<line x1="455" y1="761.5" x2="455" y2="770.5" stroke="#2e2e2e" stroke-width="1.3" />
<line x1="452.5" y1="768.5" x2="457.5" y2="763.5" stroke="#2e2e2e" stroke-width="1.3" />
<g transform="translate(328.3,766)"><rect x="-11.31" y="-5.6" width="22.62" height="11.2" fill="#fdfdfd"/><text transform="scale(0.84,1)" font-size="14" text-anchor="middle" dominant-baseline="central" fill="#2a2a2a" stroke="#2a2a2a" stroke-width="0.3">810</text></g>
<g transform="translate(387.6,766)"><rect x="-11.31" y="-5.6" width="22.62" height="11.2" fill="#fdfdfd"/><text transform="scale(0.84,1)" font-size="14" text-anchor="middle" dominant-baseline="central" fill="#2a2a2a" stroke="#2a2a2a" stroke-width="0.3">985</text></g>
<g transform="translate(436.4,766)"><rect x="-11.31" y="-5.6" width="22.62" height="11.2" fill="#fdfdfd"/><text transform="scale(0.84,1)" font-size="14" text-anchor="middle" dominant-baseline="central" fill="#2a2a2a" stroke="#2a2a2a" stroke-width="0.3">545</text></g>
<line x1="302" y1="780.6" x2="605" y2="780.6" stroke="#2e2e2e" stroke-width="1.3" />
<line x1="302" y1="776.1" x2="302" y2="785.1" stroke="#2e2e2e" stroke-width="1.3" />
<line x1="299.5" y1="783.1" x2="304.5" y2="778.1" stroke="#2e2e2e" stroke-width="1.3" />
<line x1="455" y1="776.1" x2="455" y2="785.1" stroke="#2e2e2e" stroke-width="1.3" />
<line x1="452.5" y1="783.1" x2="457.5" y2="778.1" stroke="#2e2e2e" stroke-width="1.3" />
<line x1="462" y1="776.1" x2="462" y2="785.1" stroke="#2e2e2e" stroke-width="1.3" />
<line x1="459.5" y1="783.1" x2="464.5" y2="778.1" stroke="#2e2e2e" stroke-width="1.3" />
<line x1="507.5" y1="776.1" x2="507.5" y2="785.1" stroke="#2e2e2e" stroke-width="1.3" />
<line x1="505" y1="783.1" x2="510" y2="778.1" stroke="#2e2e2e" stroke-width="1.3" />
<line x1="560" y1="776.1" x2="560" y2="785.1" stroke="#2e2e2e" stroke-width="1.3" />
<line x1="557.5" y1="783.1" x2="562.5" y2="778.1" stroke="#2e2e2e" stroke-width="1.3" />
<line x1="597" y1="776.1" x2="597" y2="785.1" stroke="#2e2e2e" stroke-width="1.3" />
<line x1="594.5" y1="783.1" x2="599.5" y2="778.1" stroke="#2e2e2e" stroke-width="1.3" />
<line x1="605" y1="776.1" x2="605" y2="785.1" stroke="#2e2e2e" stroke-width="1.3" />
<line x1="602.5" y1="783.1" x2="607.5" y2="778.1" stroke="#2e2e2e" stroke-width="1.3" />
<g transform="translate(379,780.6)"><rect x="-17.52" y="-5.6" width="35.04" height="11.2" fill="#fdfdfd"/><text transform="scale(0.84,1)" font-size="14" text-anchor="middle" dominant-baseline="central" fill="#2a2a2a" stroke="#2a2a2a" stroke-width="0.3">2 340</text></g>
<g transform="translate(485,780.6)"><rect x="-11.31" y="-5.6" width="22.62" height="11.2" fill="#fdfdfd"/><text transform="scale(0.84,1)" font-size="14" text-anchor="middle" dominant-baseline="central" fill="#2a2a2a" stroke="#2a2a2a" stroke-width="0.3">700</text></g>
<g transform="translate(534,780.6)"><rect x="-11.31" y="-5.6" width="22.62" height="11.2" fill="#fdfdfd"/><text transform="scale(0.84,1)" font-size="14" text-anchor="middle" dominant-baseline="central" fill="#2a2a2a" stroke="#2a2a2a" stroke-width="0.3">800</text></g>
<g transform="translate(579.3,780.6)"><rect x="-11.31" y="-5.6" width="22.62" height="11.2" fill="#fdfdfd"/><text transform="scale(0.84,1)" font-size="14" text-anchor="middle" dominant-baseline="central" fill="#2a2a2a" stroke="#2a2a2a" stroke-width="0.3">580</text></g>
<g transform="translate(603.7,764)"><text transform="scale(0.84,1)" font-size="14" text-anchor="middle" dominant-baseline="central" fill="#2a2a2a" stroke="#2a2a2a" stroke-width="0.3">120</text></g>
<g transform="translate(459,858)"><text transform="scale(0.84,1)" font-size="14" text-anchor="middle" dominant-baseline="central" fill="#2a2a2a" stroke="#2a2a2a" stroke-width="0.3">120</text></g>
<g transform="translate(462.5,743) rotate(-90)"><text transform="scale(0.84,1)" font-size="14" text-anchor="middle" dominant-baseline="central" fill="#2a2a2a" stroke="#2a2a2a" stroke-width="0.3">300</text></g>
<g transform="translate(565,743) rotate(-90)"><text transform="scale(0.84,1)" font-size="14" text-anchor="middle" dominant-baseline="central" fill="#2a2a2a" stroke="#2a2a2a" stroke-width="0.3">300</text></g>
<line x1="478" y1="753" x2="478" y2="889" stroke="#2e2e2e" stroke-width="1.3" />
<line x1="473.5" y1="753" x2="482.5" y2="753" stroke="#2e2e2e" stroke-width="1.3" />
<line x1="475.5" y1="755.5" x2="480.5" y2="750.5" stroke="#2e2e2e" stroke-width="1.3" />
<line x1="473.5" y1="889" x2="482.5" y2="889" stroke="#2e2e2e" stroke-width="1.3" />
<line x1="475.5" y1="891.5" x2="480.5" y2="886.5" stroke="#2e2e2e" stroke-width="1.3" />
<g transform="translate(478,822) rotate(-90)"><rect x="-17.52" y="-5.6" width="35.04" height="11.2" fill="#fdfdfd"/><text transform="scale(0.84,1)" font-size="14" text-anchor="middle" dominant-baseline="central" fill="#2a2a2a" stroke="#2a2a2a" stroke-width="0.3">2 100</text></g>
<line x1="529" y1="889" x2="529" y2="965" stroke="#2e2e2e" stroke-width="1.3" />
<line x1="524.5" y1="889" x2="533.5" y2="889" stroke="#2e2e2e" stroke-width="1.3" />
<line x1="526.5" y1="891.5" x2="531.5" y2="886.5" stroke="#2e2e2e" stroke-width="1.3" />
<line x1="524.5" y1="965" x2="533.5" y2="965" stroke="#2e2e2e" stroke-width="1.3" />
<line x1="526.5" y1="967.5" x2="531.5" y2="962.5" stroke="#2e2e2e" stroke-width="1.3" />
<g transform="translate(529,925) rotate(-90)"><rect x="-17.52" y="-5.6" width="35.04" height="11.2" fill="#fdfdfd"/><text transform="scale(0.84,1)" font-size="14" text-anchor="middle" dominant-baseline="central" fill="#2a2a2a" stroke="#2a2a2a" stroke-width="0.3">1 170</text></g>
<line x1="501" y1="921.5" x2="817" y2="921.5" stroke="#2e2e2e" stroke-width="1.3" />
<line x1="501" y1="917" x2="501" y2="926" stroke="#2e2e2e" stroke-width="1.3" />
<line x1="498.5" y1="924" x2="503.5" y2="919" stroke="#2e2e2e" stroke-width="1.3" />
<line x1="597" y1="917" x2="597" y2="926" stroke="#2e2e2e" stroke-width="1.3" />
<line x1="594.5" y1="924" x2="599.5" y2="919" stroke="#2e2e2e" stroke-width="1.3" />
<line x1="605" y1="917" x2="605" y2="926" stroke="#2e2e2e" stroke-width="1.3" />
<line x1="602.5" y1="924" x2="607.5" y2="919" stroke="#2e2e2e" stroke-width="1.3" />
<line x1="817" y1="917" x2="817" y2="926" stroke="#2e2e2e" stroke-width="1.3" />
<line x1="814.5" y1="924" x2="819.5" y2="919" stroke="#2e2e2e" stroke-width="1.3" />
<g transform="translate(549,921.5)"><rect x="-17.52" y="-5.6" width="35.04" height="11.2" fill="#fdfdfd"/><text transform="scale(0.84,1)" font-size="14" text-anchor="middle" dominant-baseline="central" fill="#2a2a2a" stroke="#2a2a2a" stroke-width="0.3">1 480</text></g>
<g transform="translate(710.6,921.5)"><rect x="-17.52" y="-5.6" width="35.04" height="11.2" fill="#fdfdfd"/><text transform="scale(0.84,1)" font-size="14" text-anchor="middle" dominant-baseline="central" fill="#2a2a2a" stroke="#2a2a2a" stroke-width="0.3">3 270</text></g>
<g transform="translate(511,936)"><rect x="-11.31" y="-5.6" width="22.62" height="11.2" fill="#fdfdfd"/><text transform="scale(0.84,1)" font-size="14" text-anchor="middle" dominant-baseline="central" fill="#2a2a2a" stroke="#2a2a2a" stroke-width="0.3">285</text></g>
<g transform="translate(582,936)"><rect x="-11.31" y="-5.6" width="22.62" height="11.2" fill="#fdfdfd"/><text transform="scale(0.84,1)" font-size="14" text-anchor="middle" dominant-baseline="central" fill="#2a2a2a" stroke="#2a2a2a" stroke-width="0.3">275</text></g>
<g transform="translate(613.5,936)"><rect x="-11.31" y="-5.6" width="22.62" height="11.2" fill="#fdfdfd"/><text transform="scale(0.84,1)" font-size="14" text-anchor="middle" dominant-baseline="central" fill="#2a2a2a" stroke="#2a2a2a" stroke-width="0.3">120</text></g>
<line x1="465" y1="951" x2="853" y2="951" stroke="#2e2e2e" stroke-width="1.3" />
<line x1="482" y1="946.5" x2="482" y2="955.5" stroke="#2e2e2e" stroke-width="1.3" />
<line x1="479.5" y1="953.5" x2="484.5" y2="948.5" stroke="#2e2e2e" stroke-width="1.3" />
<line x1="501" y1="946.5" x2="501" y2="955.5" stroke="#2e2e2e" stroke-width="1.3" />
<line x1="498.5" y1="953.5" x2="503.5" y2="948.5" stroke="#2e2e2e" stroke-width="1.3" />
<line x1="520" y1="946.5" x2="520" y2="955.5" stroke="#2e2e2e" stroke-width="1.3" />
<line x1="517.5" y1="953.5" x2="522.5" y2="948.5" stroke="#2e2e2e" stroke-width="1.3" />
<line x1="579" y1="946.5" x2="579" y2="955.5" stroke="#2e2e2e" stroke-width="1.3" />
<line x1="576.5" y1="953.5" x2="581.5" y2="948.5" stroke="#2e2e2e" stroke-width="1.3" />
<line x1="597" y1="946.5" x2="597" y2="955.5" stroke="#2e2e2e" stroke-width="1.3" />
<line x1="594.5" y1="953.5" x2="599.5" y2="948.5" stroke="#2e2e2e" stroke-width="1.3" />
<line x1="605" y1="946.5" x2="605" y2="955.5" stroke="#2e2e2e" stroke-width="1.3" />
<line x1="602.5" y1="953.5" x2="607.5" y2="948.5" stroke="#2e2e2e" stroke-width="1.3" />
<line x1="654" y1="946.5" x2="654" y2="955.5" stroke="#2e2e2e" stroke-width="1.3" />
<line x1="651.5" y1="953.5" x2="656.5" y2="948.5" stroke="#2e2e2e" stroke-width="1.3" />
<line x1="782" y1="946.5" x2="782" y2="955.5" stroke="#2e2e2e" stroke-width="1.3" />
<line x1="779.5" y1="953.5" x2="784.5" y2="948.5" stroke="#2e2e2e" stroke-width="1.3" />
<line x1="817" y1="946.5" x2="817" y2="955.5" stroke="#2e2e2e" stroke-width="1.3" />
<line x1="814.5" y1="953.5" x2="819.5" y2="948.5" stroke="#2e2e2e" stroke-width="1.3" />
<line x1="853" y1="946.5" x2="853" y2="955.5" stroke="#2e2e2e" stroke-width="1.3" />
<line x1="850.5" y1="953.5" x2="855.5" y2="948.5" stroke="#2e2e2e" stroke-width="1.3" />
<g transform="translate(481,951)"><text transform="scale(0.84,1)" font-size="14" text-anchor="middle" dominant-baseline="central" fill="#2a2a2a" stroke="#2a2a2a" stroke-width="0.3">660</text></g>
<g transform="translate(549,951)"><rect x="-11.31" y="-5.6" width="22.62" height="11.2" fill="#fdfdfd"/><text transform="scale(0.84,1)" font-size="14" text-anchor="middle" dominant-baseline="central" fill="#2a2a2a" stroke="#2a2a2a" stroke-width="0.3">920</text></g>
<g transform="translate(629.7,951)"><rect x="-11.31" y="-5.6" width="22.62" height="11.2" fill="#fdfdfd"/><text transform="scale(0.84,1)" font-size="14" text-anchor="middle" dominant-baseline="central" fill="#2a2a2a" stroke="#2a2a2a" stroke-width="0.3">765</text></g>
<g transform="translate(718,951)"><rect x="-17.52" y="-5.6" width="35.04" height="11.2" fill="#fdfdfd"/><text transform="scale(0.84,1)" font-size="14" text-anchor="middle" dominant-baseline="central" fill="#2a2a2a" stroke="#2a2a2a" stroke-width="0.3">1 960</text></g>
<g transform="translate(798.8,951)"><rect x="-11.31" y="-5.6" width="22.62" height="11.2" fill="#fdfdfd"/><text transform="scale(0.84,1)" font-size="14" text-anchor="middle" dominant-baseline="central" fill="#2a2a2a" stroke="#2a2a2a" stroke-width="0.3">545</text></g>
<g transform="translate(832.6,951)"><text transform="scale(0.84,1)" font-size="14" text-anchor="middle" dominant-baseline="central" fill="#2a2a2a" stroke="#2a2a2a" stroke-width="0.3">550</text></g>
<line x1="618" y1="753" x2="618" y2="965" stroke="#2e2e2e" stroke-width="1.3" />
<line x1="613.5" y1="753" x2="622.5" y2="753" stroke="#2e2e2e" stroke-width="1.3" />
<line x1="615.5" y1="755.5" x2="620.5" y2="750.5" stroke="#2e2e2e" stroke-width="1.3" />
<line x1="613.5" y1="965" x2="622.5" y2="965" stroke="#2e2e2e" stroke-width="1.3" />
<line x1="615.5" y1="967.5" x2="620.5" y2="962.5" stroke="#2e2e2e" stroke-width="1.3" />
<g transform="translate(618,860) rotate(-90)"><rect x="-17.52" y="-5.6" width="35.04" height="11.2" fill="#fdfdfd"/><text transform="scale(0.84,1)" font-size="14" text-anchor="middle" dominant-baseline="central" fill="#2a2a2a" stroke="#2a2a2a" stroke-width="0.3">3 270</text></g>
<line x1="597" y1="765.6" x2="644" y2="765.6" stroke="#2e2e2e" stroke-width="1.3" />
<line x1="597" y1="761.1" x2="597" y2="770.1" stroke="#2e2e2e" stroke-width="1.3" />
<line x1="594.5" y1="768.1" x2="599.5" y2="763.1" stroke="#2e2e2e" stroke-width="1.3" />
<line x1="605" y1="761.1" x2="605" y2="770.1" stroke="#2e2e2e" stroke-width="1.3" />
<line x1="602.5" y1="768.1" x2="607.5" y2="763.1" stroke="#2e2e2e" stroke-width="1.3" />
<line x1="644" y1="761.1" x2="644" y2="770.1" stroke="#2e2e2e" stroke-width="1.3" />
<line x1="641.5" y1="768.1" x2="646.5" y2="763.1" stroke="#2e2e2e" stroke-width="1.3" />
<g transform="translate(601.8,765.6)"><text transform="scale(0.84,1)" font-size="14" text-anchor="middle" dominant-baseline="central" fill="#2a2a2a" stroke="#2a2a2a" stroke-width="0.3">120</text></g>
<g transform="translate(623.8,765.6)"><rect x="-11.31" y="-5.6" width="22.62" height="11.2" fill="#fdfdfd"/><text transform="scale(0.84,1)" font-size="14" text-anchor="middle" dominant-baseline="central" fill="#2a2a2a" stroke="#2a2a2a" stroke-width="0.3">600</text></g>
<line x1="661.5" y1="732" x2="661.5" y2="754" stroke="#2e2e2e" stroke-width="1.3" />
<line x1="657" y1="733" x2="666" y2="733" stroke="#2e2e2e" stroke-width="1.3" />
<line x1="659" y1="735.5" x2="664" y2="730.5" stroke="#2e2e2e" stroke-width="1.3" />
<line x1="657" y1="753" x2="666" y2="753" stroke="#2e2e2e" stroke-width="1.3" />
<line x1="659" y1="755.5" x2="664" y2="750.5" stroke="#2e2e2e" stroke-width="1.3" />
<g transform="translate(647.4,743.5) rotate(-90)"><rect x="-11.31" y="-5.6" width="22.62" height="11.2" fill="#fdfdfd"/><text transform="scale(0.84,1)" font-size="14" text-anchor="middle" dominant-baseline="central" fill="#2a2a2a" stroke="#2a2a2a" stroke-width="0.3">300</text></g>
<line x1="801.8" y1="346" x2="801.8" y2="965" stroke="#2e2e2e" stroke-width="1.3" />
<line x1="797.3" y1="346" x2="806.3" y2="346" stroke="#2e2e2e" stroke-width="1.3" />
<line x1="799.3" y1="348.5" x2="804.3" y2="343.5" stroke="#2e2e2e" stroke-width="1.3" />
<line x1="797.3" y1="440.5" x2="806.3" y2="440.5" stroke="#2e2e2e" stroke-width="1.3" />
<line x1="799.3" y1="443" x2="804.3" y2="438" stroke="#2e2e2e" stroke-width="1.3" />
<line x1="797.3" y1="567.7" x2="806.3" y2="567.7" stroke="#2e2e2e" stroke-width="1.3" />
<line x1="799.3" y1="570.2" x2="804.3" y2="565.2" stroke="#2e2e2e" stroke-width="1.3" />
<line x1="797.3" y1="744" x2="806.3" y2="744" stroke="#2e2e2e" stroke-width="1.3" />
<line x1="799.3" y1="746.5" x2="804.3" y2="741.5" stroke="#2e2e2e" stroke-width="1.3" />
<line x1="797.3" y1="871" x2="806.3" y2="871" stroke="#2e2e2e" stroke-width="1.3" />
<line x1="799.3" y1="873.5" x2="804.3" y2="868.5" stroke="#2e2e2e" stroke-width="1.3" />
<line x1="797.3" y1="965" x2="806.3" y2="965" stroke="#2e2e2e" stroke-width="1.3" />
<line x1="799.3" y1="967.5" x2="804.3" y2="962.5" stroke="#2e2e2e" stroke-width="1.3" />
<g transform="translate(801.8,394.6) rotate(-90)"><rect x="-17.52" y="-5.6" width="35.04" height="11.2" fill="#fdfdfd"/><text transform="scale(0.84,1)" font-size="14" text-anchor="middle" dominant-baseline="central" fill="#2a2a2a" stroke="#2a2a2a" stroke-width="0.3">1 455</text></g>
<g transform="translate(801.8,504.7) rotate(-90)"><rect x="-17.52" y="-5.6" width="35.04" height="11.2" fill="#fdfdfd"/><text transform="scale(0.84,1)" font-size="14" text-anchor="middle" dominant-baseline="central" fill="#2a2a2a" stroke="#2a2a2a" stroke-width="0.3">1 960</text></g>
<g transform="translate(801.8,656.6) rotate(-90)"><rect x="-17.52" y="-5.6" width="35.04" height="11.2" fill="#fdfdfd"/><text transform="scale(0.84,1)" font-size="14" text-anchor="middle" dominant-baseline="central" fill="#2a2a2a" stroke="#2a2a2a" stroke-width="0.3">2 720</text></g>
<g transform="translate(801.8,806.8) rotate(-90)"><rect x="-17.52" y="-5.6" width="35.04" height="11.2" fill="#fdfdfd"/><text transform="scale(0.84,1)" font-size="14" text-anchor="middle" dominant-baseline="central" fill="#2a2a2a" stroke="#2a2a2a" stroke-width="0.3">1 960</text></g>
<g transform="translate(801.8,918.5) rotate(-90)"><rect x="-17.52" y="-5.6" width="35.04" height="11.2" fill="#fdfdfd"/><text transform="scale(0.84,1)" font-size="14" text-anchor="middle" dominant-baseline="central" fill="#2a2a2a" stroke="#2a2a2a" stroke-width="0.3">1 455</text></g>
<line x1="786" y1="346" x2="786" y2="965" stroke="#2e2e2e" stroke-width="1.3" />
<line x1="781.5" y1="346" x2="790.5" y2="346" stroke="#2e2e2e" stroke-width="1.3" />
<line x1="783.5" y1="348.5" x2="788.5" y2="343.5" stroke="#2e2e2e" stroke-width="1.3" />
<line x1="781.5" y1="965" x2="790.5" y2="965" stroke="#2e2e2e" stroke-width="1.3" />
<line x1="783.5" y1="967.5" x2="788.5" y2="962.5" stroke="#2e2e2e" stroke-width="1.3" />
<g transform="translate(786,656.6) rotate(-90)"><rect x="-17.52" y="-5.6" width="35.04" height="11.2" fill="#fdfdfd"/><text transform="scale(0.84,1)" font-size="14" text-anchor="middle" dominant-baseline="central" fill="#2a2a2a" stroke="#2a2a2a" stroke-width="0.3">9 550</text></g>
<line x1="607.5" y1="346" x2="607.5" y2="734" stroke="#2e2e2e" stroke-width="1.3" />
<line x1="603" y1="346" x2="612" y2="346" stroke="#2e2e2e" stroke-width="1.3" />
<line x1="605" y1="348.5" x2="610" y2="343.5" stroke="#2e2e2e" stroke-width="1.3" />
<line x1="603" y1="402.5" x2="612" y2="402.5" stroke="#2e2e2e" stroke-width="1.3" />
<line x1="605" y1="405" x2="610" y2="400" stroke="#2e2e2e" stroke-width="1.3" />
<line x1="603" y1="734" x2="612" y2="734" stroke="#2e2e2e" stroke-width="1.3" />
<line x1="605" y1="736.5" x2="610" y2="731.5" stroke="#2e2e2e" stroke-width="1.3" />
<g transform="translate(607.5,374) rotate(-90)"><text transform="scale(0.84,1)" font-size="14" text-anchor="middle" dominant-baseline="central" fill="#2a2a2a" stroke="#2a2a2a" stroke-width="0.3">870</text></g>
<g transform="translate(607.5,569) rotate(-90)"><rect x="-17.08" y="-5.6" width="34.17" height="11.2" fill="#fdfdfd"/><text transform="scale(0.84,1)" font-size="14" text-anchor="middle" dominant-baseline="central" fill="#2a2a2a" stroke="#2a2a2a" stroke-width="0.3">5 110</text></g>
<line x1="620.8" y1="346" x2="620.8" y2="734" stroke="#2e2e2e" stroke-width="1.3" />
<line x1="616.3" y1="346" x2="625.3" y2="346" stroke="#2e2e2e" stroke-width="1.3" />
<line x1="618.3" y1="348.5" x2="623.3" y2="343.5" stroke="#2e2e2e" stroke-width="1.3" />
<line x1="616.3" y1="734" x2="625.3" y2="734" stroke="#2e2e2e" stroke-width="1.3" />
<line x1="618.3" y1="736.5" x2="623.3" y2="731.5" stroke="#2e2e2e" stroke-width="1.3" />
<g transform="translate(620.8,540.8) rotate(-90)"><rect x="-17.52" y="-5.6" width="35.04" height="11.2" fill="#fdfdfd"/><text transform="scale(0.84,1)" font-size="14" text-anchor="middle" dominant-baseline="central" fill="#2a2a2a" stroke="#2a2a2a" stroke-width="0.3">5 980</text></g>
<line x1="566" y1="557" x2="817" y2="557" stroke="#2e2e2e" stroke-width="1.3" />
<line x1="566" y1="552.5" x2="566" y2="561.5" stroke="#2e2e2e" stroke-width="1.3" />
<line x1="563.5" y1="559.5" x2="568.5" y2="554.5" stroke="#2e2e2e" stroke-width="1.3" />
<line x1="817" y1="552.5" x2="817" y2="561.5" stroke="#2e2e2e" stroke-width="1.3" />
<line x1="814.5" y1="559.5" x2="819.5" y2="554.5" stroke="#2e2e2e" stroke-width="1.3" />
<g transform="translate(691,557)"><rect x="-17.52" y="-5.6" width="35.04" height="11.2" fill="#fdfdfd"/><text transform="scale(0.84,1)" font-size="14" text-anchor="middle" dominant-baseline="central" fill="#2a2a2a" stroke="#2a2a2a" stroke-width="0.3">3 870</text></g>
<line x1="44" y1="962" x2="466" y2="962" stroke="#2e2e2e" stroke-width="1.3" />
<line x1="44" y1="957.5" x2="44" y2="966.5" stroke="#2e2e2e" stroke-width="1.3" />
<line x1="41.5" y1="964.5" x2="46.5" y2="959.5" stroke="#2e2e2e" stroke-width="1.3" />
<line x1="128" y1="957.5" x2="128" y2="966.5" stroke="#2e2e2e" stroke-width="1.3" />
<line x1="125.5" y1="964.5" x2="130.5" y2="959.5" stroke="#2e2e2e" stroke-width="1.3" />
<line x1="246" y1="957.5" x2="246" y2="966.5" stroke="#2e2e2e" stroke-width="1.3" />
<line x1="243.5" y1="964.5" x2="248.5" y2="959.5" stroke="#2e2e2e" stroke-width="1.3" />
<line x1="354" y1="957.5" x2="354" y2="966.5" stroke="#2e2e2e" stroke-width="1.3" />
<line x1="351.5" y1="964.5" x2="356.5" y2="959.5" stroke="#2e2e2e" stroke-width="1.3" />
<line x1="377" y1="957.5" x2="377" y2="966.5" stroke="#2e2e2e" stroke-width="1.3" />
<line x1="374.5" y1="964.5" x2="379.5" y2="959.5" stroke="#2e2e2e" stroke-width="1.3" />
<line x1="423" y1="957.5" x2="423" y2="966.5" stroke="#2e2e2e" stroke-width="1.3" />
<line x1="420.5" y1="964.5" x2="425.5" y2="959.5" stroke="#2e2e2e" stroke-width="1.3" />
<line x1="466" y1="957.5" x2="466" y2="966.5" stroke="#2e2e2e" stroke-width="1.3" />
<line x1="463.5" y1="964.5" x2="468.5" y2="959.5" stroke="#2e2e2e" stroke-width="1.3" />
<line x1="44" y1="944" x2="44" y2="966" stroke="#2e2e2e" stroke-width="1.3" />
<line x1="128" y1="944" x2="128" y2="966" stroke="#2e2e2e" stroke-width="1.3" />
<line x1="246" y1="944" x2="246" y2="966" stroke="#2e2e2e" stroke-width="1.3" />
<line x1="354" y1="944" x2="354" y2="964" stroke="#2e2e2e" stroke-width="1.3" />
<line x1="423" y1="944" x2="423" y2="964" stroke="#2e2e2e" stroke-width="1.3" />
<g transform="translate(86,962)"><rect x="-17.52" y="-5.6" width="35.04" height="11.2" fill="#fdfdfd"/><text transform="scale(0.84,1)" font-size="14" text-anchor="middle" dominant-baseline="central" fill="#2a2a2a" stroke="#2a2a2a" stroke-width="0.3">1 290</text></g>
<g transform="translate(187.5,962)"><rect x="-17.52" y="-5.6" width="35.04" height="11.2" fill="#fdfdfd"/><text transform="scale(0.84,1)" font-size="14" text-anchor="middle" dominant-baseline="central" fill="#2a2a2a" stroke="#2a2a2a" stroke-width="0.3">1 830</text></g>
<g transform="translate(299.4,961.5)"><rect x="-17.52" y="-5.6" width="35.04" height="11.2" fill="#fdfdfd"/><text transform="scale(0.84,1)" font-size="14" text-anchor="middle" dominant-baseline="central" fill="#2a2a2a" stroke="#2a2a2a" stroke-width="0.3">1 670</text></g>
<g transform="translate(393.4,961.5)"><rect x="-11.31" y="-5.6" width="22.62" height="11.2" fill="#fdfdfd"/><text transform="scale(0.84,1)" font-size="14" text-anchor="middle" dominant-baseline="central" fill="#2a2a2a" stroke="#2a2a2a" stroke-width="0.3">050</text></g>
<g transform="translate(445,961.5)"><rect x="-11.31" y="-5.6" width="22.62" height="11.2" fill="#fdfdfd"/><text transform="scale(0.84,1)" font-size="14" text-anchor="middle" dominant-baseline="central" fill="#2a2a2a" stroke="#2a2a2a" stroke-width="0.3">660</text></g>
<line x1="268" y1="1038" x2="853" y2="1038" stroke="#2e2e2e" stroke-width="1.3" />
<line x1="268" y1="1033.5" x2="268" y2="1042.5" stroke="#2e2e2e" stroke-width="1.3" />
<line x1="265.5" y1="1040.5" x2="270.5" y2="1035.5" stroke="#2e2e2e" stroke-width="1.3" />
<line x1="294.5" y1="1033.5" x2="294.5" y2="1042.5" stroke="#2e2e2e" stroke-width="1.3" />
<line x1="292" y1="1040.5" x2="297" y2="1035.5" stroke="#2e2e2e" stroke-width="1.3" />
<line x1="465.5" y1="1033.5" x2="465.5" y2="1042.5" stroke="#2e2e2e" stroke-width="1.3" />
<line x1="463" y1="1040.5" x2="468" y2="1035.5" stroke="#2e2e2e" stroke-width="1.3" />
<line x1="524" y1="1033.5" x2="524" y2="1042.5" stroke="#2e2e2e" stroke-width="1.3" />
<line x1="521.5" y1="1040.5" x2="526.5" y2="1035.5" stroke="#2e2e2e" stroke-width="1.3" />
<line x1="575.3" y1="1033.5" x2="575.3" y2="1042.5" stroke="#2e2e2e" stroke-width="1.3" />
<line x1="572.8" y1="1040.5" x2="577.8" y2="1035.5" stroke="#2e2e2e" stroke-width="1.3" />
<line x1="659.3" y1="1033.5" x2="659.3" y2="1042.5" stroke="#2e2e2e" stroke-width="1.3" />
<line x1="656.8" y1="1040.5" x2="661.8" y2="1035.5" stroke="#2e2e2e" stroke-width="1.3" />
<line x1="777" y1="1033.5" x2="777" y2="1042.5" stroke="#2e2e2e" stroke-width="1.3" />
<line x1="774.5" y1="1040.5" x2="779.5" y2="1035.5" stroke="#2e2e2e" stroke-width="1.3" />
<line x1="852.4" y1="1033.5" x2="852.4" y2="1042.5" stroke="#2e2e2e" stroke-width="1.3" />
<line x1="849.9" y1="1040.5" x2="854.9" y2="1035.5" stroke="#2e2e2e" stroke-width="1.3" />
<line x1="524" y1="1020" x2="524" y2="1040" stroke="#2e2e2e" stroke-width="1.3" />
<line x1="575.3" y1="1020" x2="575.3" y2="1040" stroke="#2e2e2e" stroke-width="1.3" />
<line x1="659.3" y1="1020" x2="659.3" y2="1040" stroke="#2e2e2e" stroke-width="1.3" />
<line x1="777" y1="1020" x2="777" y2="1040" stroke="#2e2e2e" stroke-width="1.3" />
<line x1="852.4" y1="1020" x2="852.4" y2="1040" stroke="#2e2e2e" stroke-width="1.3" />
<line x1="271" y1="1017" x2="271" y2="1038" stroke="#2e2e2e" stroke-width="1.3" />
<g transform="translate(281.7,1022.5)"><rect x="-11.31" y="-5.6" width="22.62" height="11.2" fill="#fdfdfd"/><text transform="scale(0.84,1)" font-size="14" text-anchor="middle" dominant-baseline="central" fill="#2a2a2a" stroke="#2a2a2a" stroke-width="0.3">380</text></g>
<g transform="translate(380,1038)"><rect x="-17.52" y="-5.6" width="35.04" height="11.2" fill="#fdfdfd"/><text transform="scale(0.84,1)" font-size="14" text-anchor="middle" dominant-baseline="central" fill="#2a2a2a" stroke="#2a2a2a" stroke-width="0.3">2 650</text></g>
<g transform="translate(494,1038)"><rect x="-11.31" y="-5.6" width="22.62" height="11.2" fill="#fdfdfd"/><text transform="scale(0.84,1)" font-size="14" text-anchor="middle" dominant-baseline="central" fill="#2a2a2a" stroke="#2a2a2a" stroke-width="0.3">900</text></g>
<g transform="translate(549,1038)"><rect x="-11.31" y="-5.6" width="22.62" height="11.2" fill="#fdfdfd"/><text transform="scale(0.84,1)" font-size="14" text-anchor="middle" dominant-baseline="central" fill="#2a2a2a" stroke="#2a2a2a" stroke-width="0.3">790</text></g>
<g transform="translate(617,1038)"><rect x="-17.52" y="-5.6" width="35.04" height="11.2" fill="#fdfdfd"/><text transform="scale(0.84,1)" font-size="14" text-anchor="middle" dominant-baseline="central" fill="#2a2a2a" stroke="#2a2a2a" stroke-width="0.3">1 290</text></g>
<g transform="translate(719,1038)"><rect x="-17.52" y="-5.6" width="35.04" height="11.2" fill="#fdfdfd"/><text transform="scale(0.84,1)" font-size="14" text-anchor="middle" dominant-baseline="central" fill="#2a2a2a" stroke="#2a2a2a" stroke-width="0.3">1 830</text></g>
<g transform="translate(815,1038)"><rect x="-17.52" y="-5.6" width="35.04" height="11.2" fill="#fdfdfd"/><text transform="scale(0.84,1)" font-size="14" text-anchor="middle" dominant-baseline="central" fill="#2a2a2a" stroke="#2a2a2a" stroke-width="0.3">1 160</text></g>
<line x1="256.7" y1="925" x2="256.7" y2="1080" stroke="#2e2e2e" stroke-width="1.3" />
<line x1="252.2" y1="961" x2="261.2" y2="961" stroke="#2e2e2e" stroke-width="1.3" />
<line x1="254.2" y1="963.5" x2="259.2" y2="958.5" stroke="#2e2e2e" stroke-width="1.3" />
<line x1="252.2" y1="976" x2="261.2" y2="976" stroke="#2e2e2e" stroke-width="1.3" />
<line x1="254.2" y1="978.5" x2="259.2" y2="973.5" stroke="#2e2e2e" stroke-width="1.3" />
<line x1="252.2" y1="1001" x2="261.2" y2="1001" stroke="#2e2e2e" stroke-width="1.3" />
<line x1="254.2" y1="1003.5" x2="259.2" y2="998.5" stroke="#2e2e2e" stroke-width="1.3" />
<line x1="252.2" y1="1077" x2="261.2" y2="1077" stroke="#2e2e2e" stroke-width="1.3" />
<line x1="254.2" y1="1079.5" x2="259.2" y2="1074.5" stroke="#2e2e2e" stroke-width="1.3" />
<g transform="translate(256.7,950.4) rotate(-90)"><rect x="-11.31" y="-5.6" width="22.62" height="11.2" fill="#fdfdfd"/><text transform="scale(0.84,1)" font-size="14" text-anchor="middle" dominant-baseline="central" fill="#2a2a2a" stroke="#2a2a2a" stroke-width="0.3">790</text></g>
<g transform="translate(241.4,988.5) rotate(-90)"><rect x="-11.31" y="-5.6" width="22.62" height="11.2" fill="#fdfdfd"/><text transform="scale(0.84,1)" font-size="14" text-anchor="middle" dominant-baseline="central" fill="#2a2a2a" stroke="#2a2a2a" stroke-width="0.3">380</text></g>
<g transform="translate(256.7,1039) rotate(-90)"><rect x="-17.52" y="-5.6" width="35.04" height="11.2" fill="#fdfdfd"/><text transform="scale(0.84,1)" font-size="14" text-anchor="middle" dominant-baseline="central" fill="#2a2a2a" stroke="#2a2a2a" stroke-width="0.3">1 170</text></g>
<line x1="457" y1="925" x2="457" y2="1077" stroke="#2e2e2e" stroke-width="1.3" />
<line x1="452.5" y1="925" x2="461.5" y2="925" stroke="#2e2e2e" stroke-width="1.3" />
<line x1="454.5" y1="927.5" x2="459.5" y2="922.5" stroke="#2e2e2e" stroke-width="1.3" />
<line x1="452.5" y1="1001" x2="461.5" y2="1001" stroke="#2e2e2e" stroke-width="1.3" />
<line x1="454.5" y1="1003.5" x2="459.5" y2="998.5" stroke="#2e2e2e" stroke-width="1.3" />
<line x1="452.5" y1="1077" x2="461.5" y2="1077" stroke="#2e2e2e" stroke-width="1.3" />
<line x1="454.5" y1="1079.5" x2="459.5" y2="1074.5" stroke="#2e2e2e" stroke-width="1.3" />
<g transform="translate(457,954.5) rotate(-90)"><rect x="-17.52" y="-5.6" width="35.04" height="11.2" fill="#fdfdfd"/><text transform="scale(0.84,1)" font-size="14" text-anchor="middle" dominant-baseline="central" fill="#2a2a2a" stroke="#2a2a2a" stroke-width="0.3">1 170</text></g>
<g transform="translate(457,1036) rotate(-90)"><rect x="-17.52" y="-5.6" width="35.04" height="11.2" fill="#fdfdfd"/><text transform="scale(0.84,1)" font-size="14" text-anchor="middle" dominant-baseline="central" fill="#2a2a2a" stroke="#2a2a2a" stroke-width="0.3">1 200</text></g>
<line x1="465.5" y1="1001" x2="465.5" y2="1080" stroke="#2e2e2e" stroke-width="1.3" />
<g transform="translate(172.5,120)"><text transform="scale(0.577,1)" font-size="13.4" text-anchor="middle" dominant-baseline="central" fill="#151515" stroke="#151515" stroke-width="0.35">ОК-2</text></g>
<g transform="translate(180,134.3)"><text transform="scale(0.618,1)" font-size="13.4" text-anchor="middle" dominant-baseline="central" fill="#151515" stroke="#151515" stroke-width="0.35">1 960<tspan dy="3.5" font-size="16.8">*</tspan><tspan dy="-3.5"> 1 600</tspan><tspan dy="3.5" font-size="16.8">*</tspan><tspan dy="-3.5"> 1 000</tspan></text></g>
<g transform="translate(433.75,120)"><text transform="scale(0.577,1)" font-size="13.4" text-anchor="middle" dominant-baseline="central" fill="#151515" stroke="#151515" stroke-width="0.35">ОК-2</text></g>
<g transform="translate(440,134.3)"><text transform="scale(0.618,1)" font-size="13.4" text-anchor="middle" dominant-baseline="central" fill="#151515" stroke="#151515" stroke-width="0.35">1 960<tspan dy="3.5" font-size="16.8">*</tspan><tspan dy="-3.5"> 1 600</tspan><tspan dy="3.5" font-size="16.8">*</tspan><tspan dy="-3.5"> 1 000</tspan></text></g>
<g transform="translate(187.5,934)"><text transform="scale(0.618,1)" font-size="13.4" text-anchor="middle" dominant-baseline="central" fill="#151515" stroke="#151515" stroke-width="0.35">1 960<tspan dy="3.5" font-size="16.8">*</tspan><tspan dy="-3.5"> 1 600</tspan><tspan dy="3.5" font-size="16.8">*</tspan><tspan dy="-3.5"> 1 000</tspan></text></g>
<g transform="translate(194.4,949.4)"><text transform="scale(0.577,1)" font-size="13.4" text-anchor="middle" dominant-baseline="central" fill="#151515" stroke="#151515" stroke-width="0.35">ОК-2</text></g>
<g transform="translate(550,1010.5)"><text transform="scale(0.612,1)" font-size="13.4" text-anchor="middle" dominant-baseline="central" fill="#151515" stroke="#151515" stroke-width="0.35">920<tspan dy="3.5" font-size="16.8">*</tspan><tspan dy="-3.5"> 1 600</tspan><tspan dy="3.5" font-size="16.8">*</tspan><tspan dy="-3.5"> 1 000</tspan></text></g>
<g transform="translate(556.5,1025.5)"><text transform="scale(0.577,1)" font-size="13.4" text-anchor="middle" dominant-baseline="central" fill="#151515" stroke="#151515" stroke-width="0.35">ОК-1</text></g>
<g transform="translate(719,1010)"><text transform="scale(0.618,1)" font-size="13.4" text-anchor="middle" dominant-baseline="central" fill="#151515" stroke="#151515" stroke-width="0.35">1 960<tspan dy="3.5" font-size="16.8">*</tspan><tspan dy="-3.5"> 1 600</tspan><tspan dy="3.5" font-size="16.8">*</tspan><tspan dy="-3.5"> 1 000</tspan></text></g>
<g transform="translate(725,1025.7)"><text transform="scale(0.577,1)" font-size="13.4" text-anchor="middle" dominant-baseline="central" fill="#151515" stroke="#151515" stroke-width="0.35">ОК-2</text></g>
<g transform="translate(389.3,934)"><text transform="scale(0.612,1)" font-size="13.4" text-anchor="middle" dominant-baseline="central" fill="#151515" stroke="#151515" stroke-width="0.35">1 050<tspan dy="3.5" font-size="16.8">*</tspan><tspan dy="-3.5"> 2 100</tspan><tspan dy="3.5" font-size="16.8">*</tspan><tspan dy="-3.5"> 100</tspan></text></g>
<g transform="translate(396,949)"><text transform="scale(0.601,1)" font-size="13.4" text-anchor="middle" dominant-baseline="central" fill="#151515" stroke="#151515" stroke-width="0.35">ДВ-1</text></g>
<g transform="translate(864.4,503) rotate(-90)"><text transform="scale(0.618,1)" font-size="13.4" text-anchor="middle" dominant-baseline="central" fill="#151515" stroke="#151515" stroke-width="0.35">1 960<tspan dy="3.5" font-size="16.8">*</tspan><tspan dy="-3.5"> 1 600</tspan><tspan dy="3.5" font-size="16.8">*</tspan><tspan dy="-3.5"> 1 000</tspan></text></g>
<g transform="translate(880,503) rotate(-90)"><text transform="scale(0.577,1)" font-size="13.4" text-anchor="middle" dominant-baseline="central" fill="#151515" stroke="#151515" stroke-width="0.35">ОК-2</text></g>
<g transform="translate(864.4,807) rotate(-90)"><text transform="scale(0.618,1)" font-size="13.4" text-anchor="middle" dominant-baseline="central" fill="#151515" stroke="#151515" stroke-width="0.35">1 960<tspan dy="3.5" font-size="16.8">*</tspan><tspan dy="-3.5"> 1 600</tspan><tspan dy="3.5" font-size="16.8">*</tspan><tspan dy="-3.5"> 1 000</tspan></text></g>
<g transform="translate(880,807) rotate(-90)"><text transform="scale(0.577,1)" font-size="13.4" text-anchor="middle" dominant-baseline="central" fill="#151515" stroke="#151515" stroke-width="0.35">ОК-2</text></g>
<g transform="translate(700,287)"><text transform="scale(0.785,1)" font-size="13.4" text-anchor="middle" dominant-baseline="central" fill="#151515" stroke="#151515" stroke-width="0.35">ДВ-3</text></g>
<g transform="translate(703.5,302)"><text transform="scale(0.762,1)" font-size="13.4" text-anchor="middle" dominant-baseline="central" fill="#151515" stroke="#151515" stroke-width="0.35">1 960 <tspan dy="3.5" font-size="16.8">*</tspan><tspan dy="-3.5"> 2 500 </tspan><tspan dy="3.5" font-size="16.8">*</tspan><tspan dy="-3.5"> 100</tspan></text></g>
<g transform="translate(22.7,553) rotate(-90)"><text transform="scale(0.577,1)" font-size="13.4" text-anchor="middle" dominant-baseline="central" fill="#151515" stroke="#151515" stroke-width="0.35">ОК-1</text></g>
<g transform="translate(37,554) rotate(-90)"><text transform="scale(0.612,1)" font-size="13.4" text-anchor="middle" dominant-baseline="central" fill="#151515" stroke="#151515" stroke-width="0.35">920<tspan dy="3.5" font-size="16.8">*</tspan><tspan dy="-3.5"> 1 600</tspan><tspan dy="3.5" font-size="16.8">*</tspan><tspan dy="-3.5"> 1 000</tspan></text></g>
<text x="185" y="374.5" font-size="17.5" text-anchor="middle" dominant-baseline="central" fill="#111" stroke="#111" stroke-width="0.55" textLength="66" lengthAdjust="spacingAndGlyphs">Спальня</text>
<text transform="translate(184,393) scale(0.9,1)" font-size="19" text-anchor="middle" dominant-baseline="central" fill="#1e1e1e" stroke="#1e1e1e" stroke-width="0.15">13,8</text>
<text x="394.6" y="263" font-size="17.5" text-anchor="middle" dominant-baseline="central" fill="#111" stroke="#111" stroke-width="0.55" textLength="66" lengthAdjust="spacingAndGlyphs">Спальня</text>
<text transform="translate(394.6,282.5) scale(0.9,1)" font-size="19" text-anchor="middle" dominant-baseline="central" fill="#1e1e1e" stroke="#1e1e1e" stroke-width="0.15">13,2</text>
<text x="135" y="530" font-size="17.5" text-anchor="middle" dominant-baseline="central" fill="#111" stroke="#111" stroke-width="0.55" textLength="65.5" lengthAdjust="spacingAndGlyphs">Санузел</text>
<text transform="translate(122.5,545) scale(0.9,1)" font-size="19" text-anchor="middle" dominant-baseline="central" fill="#1e1e1e" stroke="#1e1e1e" stroke-width="0.15">4,2</text>
<text x="242.5" y="521" font-size="17.5" text-anchor="middle" dominant-baseline="central" fill="#111" stroke="#111" stroke-width="0.55" textLength="76" lengthAdjust="spacingAndGlyphs">Гардероб</text>
<text transform="translate(225,537.5) scale(0.9,1)" font-size="19" text-anchor="middle" dominant-baseline="central" fill="#1e1e1e" stroke="#1e1e1e" stroke-width="0.15">3,2</text>
<text x="190.7" y="696" font-size="17.5" text-anchor="middle" dominant-baseline="central" fill="#111" stroke="#111" stroke-width="0.55" textLength="134" lengthAdjust="spacingAndGlyphs">Мастер спальня</text>
<text transform="translate(190.7,714) scale(0.9,1)" font-size="19" text-anchor="middle" dominant-baseline="central" fill="#1e1e1e" stroke="#1e1e1e" stroke-width="0.15">12,2</text>
<text x="459" y="444.5" font-size="17.5" text-anchor="middle" dominant-baseline="central" fill="#111" stroke="#111" stroke-width="0.55" textLength="65.5" lengthAdjust="spacingAndGlyphs">Санузел</text>
<text transform="translate(454,463.6) scale(0.9,1)" font-size="19" text-anchor="middle" dominant-baseline="central" fill="#1e1e1e" stroke="#1e1e1e" stroke-width="0.15">4,6</text>
<text x="464" y="573.4" font-size="17.5" text-anchor="middle" dominant-baseline="central" fill="#111" stroke="#111" stroke-width="0.55" textLength="78" lengthAdjust="spacingAndGlyphs">Кладовая</text>
<text transform="translate(462.5,592.6) scale(0.9,1)" font-size="19" text-anchor="middle" dominant-baseline="central" fill="#1e1e1e" stroke="#1e1e1e" stroke-width="0.15">4</text>
<text x="426" y="669" font-size="17.5" text-anchor="middle" dominant-baseline="central" fill="#111" stroke="#111" stroke-width="0.55" textLength="39" lengthAdjust="spacingAndGlyphs">Холл</text>
<text transform="translate(427.7,689) scale(0.9,1)" font-size="19" text-anchor="middle" dominant-baseline="central" fill="#1e1e1e" stroke="#1e1e1e" stroke-width="0.15">10,6</text>
<text x="391" y="813" font-size="17.5" text-anchor="middle" dominant-baseline="central" fill="#111" stroke="#111" stroke-width="0.55" textLength="80" lengthAdjust="spacingAndGlyphs">Прихожая</text>
<text transform="translate(387.6,834) scale(0.9,1)" font-size="19" text-anchor="middle" dominant-baseline="central" fill="#1e1e1e" stroke="#1e1e1e" stroke-width="0.15">5,4</text>
<text x="535.7" y="801.8" font-size="12" text-anchor="middle" dominant-baseline="central" fill="#111" stroke="#111" stroke-width="0.55" textLength="78.4" lengthAdjust="spacingAndGlyphs">Техническое</text>
<text x="541" y="811.5" font-size="12" text-anchor="middle" dominant-baseline="central" fill="#111" stroke="#111" stroke-width="0.55" textLength="67" lengthAdjust="spacingAndGlyphs">помещение</text>
<text transform="translate(537.5,827) scale(0.9,1)" font-size="19" text-anchor="middle" dominant-baseline="central" fill="#1e1e1e" stroke="#1e1e1e" stroke-width="0.15">6,1</text>
<text x="719.5" y="594" font-size="17.5" text-anchor="middle" dominant-baseline="central" fill="#111" stroke="#111" stroke-width="0.55" textLength="77" lengthAdjust="spacingAndGlyphs">Гостиная</text>
<text transform="translate(723.3,611) scale(0.9,1)" font-size="19" text-anchor="middle" dominant-baseline="central" fill="#1e1e1e" stroke="#1e1e1e" stroke-width="0.15">23,4</text>
<text x="684" y="798" font-size="17.5" text-anchor="middle" dominant-baseline="central" fill="#111" stroke="#111" stroke-width="0.55" textLength="47" lengthAdjust="spacingAndGlyphs">Кухня</text>
<text transform="translate(688.5,818.5) scale(0.9,1)" font-size="19" text-anchor="middle" dominant-baseline="central" fill="#1e1e1e" stroke="#1e1e1e" stroke-width="0.15">11,5</text>
<text x="708" y="212.5" font-size="17.5" text-anchor="middle" dominant-baseline="central" fill="#111" stroke="#111" stroke-width="0.55" textLength="65.5" lengthAdjust="spacingAndGlyphs">Терраса</text>
<text transform="translate(720.5,229) scale(0.9,1)" font-size="19" text-anchor="middle" dominant-baseline="central" fill="#1e1e1e" stroke="#1e1e1e" stroke-width="0.15">9,5</text>
<text x="390.7" y="973.5" font-size="17.5" text-anchor="middle" dominant-baseline="central" fill="#111" stroke="#111" stroke-width="0.55" textLength="69" lengthAdjust="spacingAndGlyphs">Крыльцо</text>
<text transform="translate(390.7,988.5) scale(0.9,1)" font-size="19" text-anchor="middle" dominant-baseline="central" fill="#1e1e1e" stroke="#1e1e1e" stroke-width="0.15">3,3</text>
<path d="M422,916 L376,961" stroke="#151515" stroke-width="1.9" fill="none" />
<path d="M376,961 A50,50 0 0 1 357,925" stroke="#151515" stroke-width="1.9" fill="none" />
<path d="M645,318 L645,262" stroke="#151515" stroke-width="1.9" fill="none" />
<path d="M645,262 A56,56 0 0 1 701,310" stroke="#151515" stroke-width="1.9" fill="none" />
<path d="M758,318 L758,262" stroke="#151515" stroke-width="1.9" fill="none" />
<path d="M758,262 A56,56 0 0 0 702,310" stroke="#151515" stroke-width="1.9" fill="none" />
<path d="M283,451 L250,416 A49,49 0 0 1 283,401" stroke="#151515" stroke-width="1.9" fill="none" />
<path d="M316,384 L351,350 A50,50 0 0 1 366,383" stroke="#151515" stroke-width="1.9" fill="none" />
<path d="M380,427 L347,462 A49,49 0 0 0 380,476" stroke="#151515" stroke-width="1.9" fill="none" />
<path d="M91,636 L125,669 A48,48 0 0 0 140,630" stroke="#151515" stroke-width="1.9" fill="none" />
<path d="M257,636 L223,670 A48,48 0 0 1 207,630" stroke="#151515" stroke-width="1.9" fill="none" />
<path d="M302,710 L337,675 A50,50 0 0 0 302,660" stroke="#151515" stroke-width="1.9" fill="none" />
<path d="M424,636 L459,669 A48,48 0 0 0 474,630" stroke="#151515" stroke-width="1.9" fill="none" />
<path d="M558,734 L523,700 A49,49 0 0 0 508,735" stroke="#151515" stroke-width="1.9" fill="none" />
</svg></body></html>
